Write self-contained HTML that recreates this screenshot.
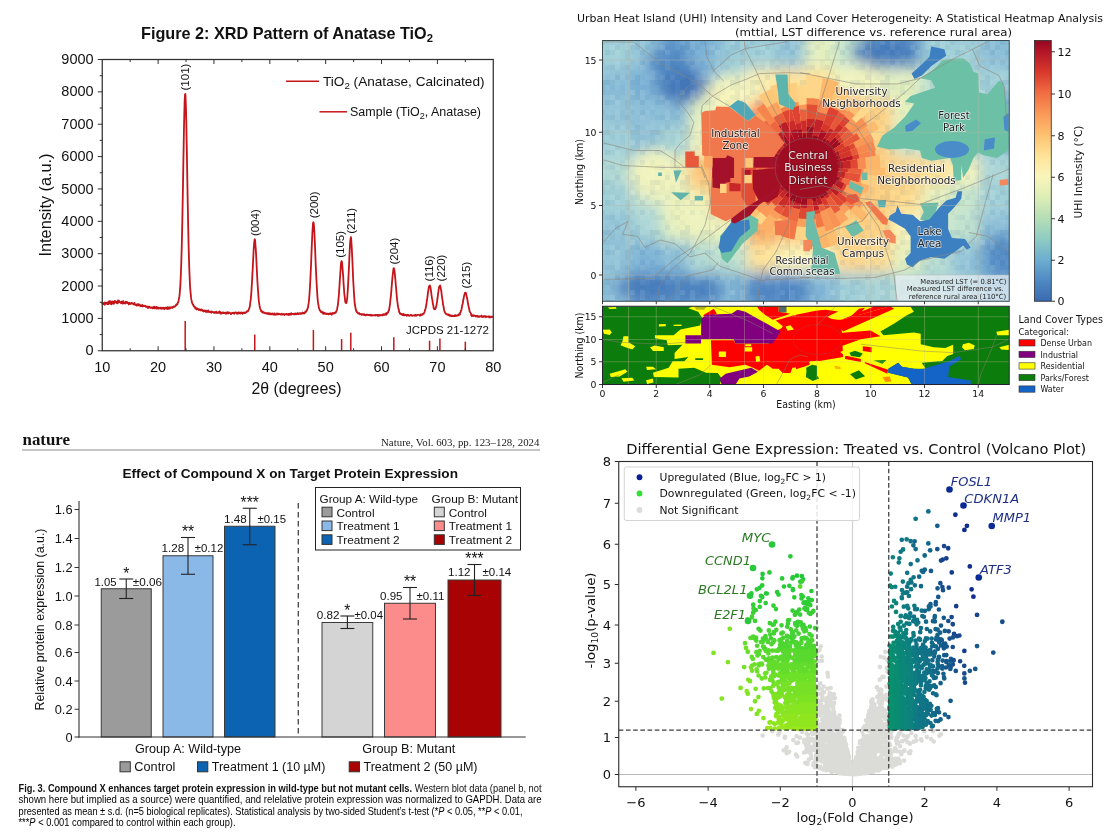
<!DOCTYPE html>
<html lang="en"><head><meta charset="utf-8"><title>Scientific figures</title>
<style>
html,body{margin:0;padding:0;background:#fff;}
body{width:1120px;height:840px;overflow:hidden;position:relative;font-family:"Liberation Sans",sans-serif;}
svg{position:absolute;left:0;top:0;display:block;}
text{white-space:pre;}
</style></head><body>
<svg width="1120" height="840" viewBox="0 0 1120 840">
<rect width="1120" height="840" fill="#fff"/>
<g id="xrd">
<text x="141" y="38.8" font-size="16.6" font-family='"Liberation Sans", sans-serif' font-weight="bold" fill="#111" textLength="292" lengthAdjust="spacingAndGlyphs">Figure 2: XRD Pattern of Anatase TiO<tspan baseline-shift="-3" font-size="11.5">2</tspan></text>
<polyline points="102.25,301.97 102.59,303.9 102.92,303.42 103.26,303.06 103.59,304.09 103.93,303.36 104.26,303.33 104.6,304.83 104.93,302.37 105.27,302.7 105.6,303.73 105.94,303.3 106.27,302.68 106.61,303.3 106.94,303.25 107.28,304.23 107.61,302.5 107.95,302.82 108.28,302.65 108.62,304.1 108.95,301.44 109.29,302.63 109.62,303.03 109.96,301.02 110.29,302.67 110.63,303.76 110.96,302.88 111.3,304.34 111.63,301.64 111.97,302.77 112.3,302.98 112.64,301.52 112.97,303.62 113.31,301.88 113.64,303.87 113.98,302.75 114.32,303.14 114.65,301.08 114.99,300.83 115.32,302.41 115.66,301.51 115.99,302.27 116.33,301.7 116.66,302.68 117,303.39 117.33,303.45 117.67,301.83 118,300.47 118.34,301.93 118.67,302.51 119.01,300.75 119.34,301.98 119.68,302.09 120.01,301.99 120.35,302.29 120.68,302.43 121.02,303.25 121.35,301.9 121.69,302.34 122.02,301.46 122.36,302.58 122.69,303.68 123.03,302.45 123.36,301.24 123.7,302.71 124.03,303.1 124.37,303.34 124.7,303.28 125.04,302.82 125.37,303.46 125.71,301.7 126.05,302.95 126.38,302.74 126.72,301.91 127.05,301.92 127.39,303.12 127.72,302.81 128.06,302.61 128.39,303.27 128.73,304.36 129.06,302.84 129.4,302.74 129.73,303.11 130.07,304.03 130.4,303.63 130.74,303.94 131.07,303.82 131.41,302.87 131.74,302.79 132.08,303.4 132.41,303.54 132.75,303.52 133.08,304.02 133.42,304.13 133.75,304.57 134.09,304.25 134.42,302.9 134.76,303.82 135.09,304.64 135.43,304.79 135.76,305.1 136.1,304.41 136.43,304.47 136.77,305.65 137.1,304.56 137.44,305.26 137.78,304.14 138.11,304.97 138.45,304.11 138.78,305.47 139.12,305.43 139.45,305.15 139.79,304.78 140.12,305.13 140.46,306.24 140.79,305.48 141.13,305.64 141.46,305.96 141.8,306.15 142.13,304.83 142.47,306.12 142.8,306.44 143.14,305.65 143.47,305.99 143.81,306.17 144.14,305.74 144.48,305.96 144.81,306.09 145.15,305.8 145.48,306.24 145.82,306.79 146.15,306.7 146.49,306.84 146.82,306.48 147.16,307.25 147.49,307.71 147.83,306.7 148.16,307.53 148.5,307.91 148.83,306.68 149.17,307.32 149.51,306.71 149.84,307.31 150.18,307.67 150.51,307.78 150.85,307.43 151.18,307.35 151.52,307.69 151.85,307.44 152.19,308.15 152.52,307.37 152.86,308.37 153.19,307.56 153.53,307.13 153.86,306.96 154.2,306.67 154.53,308.43 154.87,307.25 155.2,307.05 155.54,307.21 155.87,308.23 156.21,307.57 156.54,306.85 156.88,308.62 157.21,307.63 157.55,307.33 157.88,308.28 158.22,307.65 158.55,308.52 158.89,308.41 159.22,308.44 159.56,307.94 159.89,308.11 160.23,307.6 160.56,308.57 160.9,308.18 161.24,307.64 161.57,307.86 161.91,308.81 162.24,307.83 162.58,308.41 162.91,307.98 163.25,308.03 163.58,307.58 163.92,308.12 164.25,309.1 164.59,308.85 164.92,307.81 165.26,308.29 165.59,307.6 165.93,308.01 166.26,308.5 166.6,307.59 166.93,308.49 167.27,309.08 167.6,307.06 167.94,308.96 168.27,307.7 168.61,307.52 168.94,307.87 169.28,308.72 169.61,307.38 169.95,308.51 170.28,308.41 170.62,307.88 170.95,307.27 171.29,307.44 171.62,307.12 171.96,307.64 172.29,307.42 172.63,307.78 172.97,307.28 173.3,306.73 173.64,307.02 173.97,306.51 174.31,306.84 174.64,306.67 174.98,306.18 175.31,306.07 175.65,305.46 175.98,305.38 176.32,304.34 176.65,304.9 176.99,304.49 177.32,304.38 177.66,303.29 177.99,302.24 178.33,301.95 178.66,300.4 179,298.43 179.33,296.68 179.67,294.02 180,289.58 180.34,285.09 180.67,278.66 181.01,270.36 181.34,260.56 181.68,249.4 182.01,235.56 182.35,219.28 182.68,201.81 183.02,183.67 183.35,162.67 183.69,143.96 184.02,125.77 184.36,111.47 184.7,99.25 185.03,94.2 185.37,94.01 185.7,100.53 186.04,111.14 186.37,126.38 186.71,144.27 187.04,163.31 187.38,183.09 187.71,201.67 188.05,220.02 188.38,236.22 188.72,249.75 189.05,261.35 189.39,270.94 189.72,279.12 190.06,286.61 190.39,290.6 190.73,293.92 191.06,297.43 191.4,299.88 191.73,301.18 192.07,302.81 192.4,303.3 192.74,304.38 193.07,304.41 193.41,305.34 193.74,306.34 194.08,306.16 194.41,306.38 194.75,307.36 195.08,307.59 195.42,308.67 195.75,307.52 196.09,308.4 196.43,309.27 196.76,309.31 197.1,308.82 197.43,308.56 197.77,309.09 198.1,309 198.44,309.82 198.77,310.05 199.11,309.21 199.44,309.5 199.78,309.84 200.11,309.38 200.45,310.44 200.78,310.31 201.12,309.78 201.45,309.52 201.79,310.39 202.12,309.75 202.46,310.81 202.79,310.49 203.13,310.77 203.46,311.45 203.8,310.73 204.13,310.51 204.47,311.03 204.8,311.06 205.14,310.49 205.47,311.68 205.81,311.84 206.14,311.53 206.48,311.82 206.81,310.79 207.15,311.28 207.48,311.83 207.82,311.77 208.16,310.35 208.49,311.86 208.83,311.97 209.16,311.56 209.5,311.46 209.83,311.68 210.17,312.2 210.5,312.34 210.84,311.64 211.17,311.95 211.51,312.65 211.84,311.51 212.18,311.71 212.51,312.16 212.85,312.2 213.18,312.03 213.52,312.44 213.85,312.75 214.19,312.08 214.52,312.84 214.86,312.11 215.19,312.9 215.53,312.36 215.86,312.4 216.2,311.63 216.53,312.84 216.87,313.01 217.2,312.71 217.54,312.93 217.87,312.73 218.21,312.33 218.54,312.2 218.88,311.85 219.21,312.87 219.55,311.49 219.89,311.78 220.22,312.7 220.56,313.58 220.89,312.68 221.23,312.63 221.56,313.62 221.9,312.66 222.23,312.78 222.57,313.04 222.9,312.47 223.24,312.33 223.57,312.96 223.91,312.68 224.24,313.05 224.58,313.12 224.91,312.78 225.25,312.61 225.58,313.06 225.92,313.75 226.25,312.62 226.59,313.52 226.92,312.83 227.26,312.16 227.59,312.91 227.93,313.4 228.26,313.52 228.6,312.45 228.93,312.95 229.27,312.73 229.6,312.58 229.94,312.99 230.27,313.1 230.61,313.37 230.94,314.25 231.28,313.62 231.62,313.03 231.95,313.08 232.29,312.86 232.62,313.08 232.96,312.97 233.29,312.72 233.63,313.4 233.96,313.16 234.3,313.7 234.63,312.66 234.97,313.04 235.3,312.86 235.64,312.43 235.97,312.62 236.31,313.08 236.64,312.74 236.98,313.63 237.31,312.87 237.65,312.99 237.98,313.69 238.32,312.49 238.65,313.31 238.99,312.74 239.32,313.18 239.66,312.59 239.99,312.45 240.33,313.3 240.66,313.56 241,312.98 241.33,312.56 241.67,313.03 242,313.09 242.34,312.62 242.67,313.89 243.01,313.01 243.35,313.26 243.68,312.53 244.02,312.89 244.35,312.99 244.69,312.61 245.02,312.99 245.36,312.32 245.69,312.5 246.03,312.27 246.36,312.28 246.7,311.48 247.03,311.72 247.37,311.26 247.7,311.02 248.04,311.2 248.37,310.21 248.71,309.72 249.04,308.96 249.38,308.22 249.71,306.86 250.05,304.58 250.38,301.72 250.72,300.01 251.05,295.86 251.39,291.88 251.72,286.35 252.06,280.71 252.39,274.12 252.73,268.92 253.06,261.19 253.4,254.74 253.73,248.48 254.07,243.99 254.4,240.88 254.74,239.28 255.08,239.88 255.41,244.86 255.75,248.61 256.08,254.29 256.42,261.03 256.75,268.03 257.09,275.19 257.42,281.39 257.76,286.51 258.09,291.47 258.43,296.21 258.76,300.19 259.1,302.75 259.43,305.21 259.77,306.71 260.1,308.26 260.44,309.6 260.77,310.06 261.11,311.2 261.44,310.86 261.78,311.07 262.11,312.28 262.45,311.87 262.78,312.62 263.12,311.96 263.45,312.16 263.79,312.74 264.12,312.36 264.46,313.03 264.79,313.2 265.13,313.25 265.46,313.16 265.8,313.3 266.13,313.18 266.47,313.54 266.81,313.05 267.14,313 267.48,313.65 267.81,314.06 268.15,313.25 268.48,313.13 268.82,313.68 269.15,314.16 269.49,313.57 269.82,313.11 270.16,314.48 270.49,313.58 270.83,313.92 271.16,314.15 271.5,313.64 271.83,314.37 272.17,313.76 272.5,313.38 272.84,313.85 273.17,314.28 273.51,314.66 273.84,314.48 274.18,314.71 274.51,313.37 274.85,314.11 275.18,314.44 275.52,314.55 275.85,314.47 276.19,314.19 276.52,314.58 276.86,313.42 277.19,314.38 277.53,314.41 277.86,313.99 278.2,313.54 278.54,313.6 278.87,314.32 279.21,314.04 279.54,314.08 279.88,313.94 280.21,314.06 280.55,314.53 280.88,314.66 281.22,314.1 281.55,314.64 281.89,313.64 282.22,314.17 282.56,314.59 282.89,314.32 283.23,314.4 283.56,314.25 283.9,313.83 284.23,314.77 284.57,314.94 284.9,314.08 285.24,314.28 285.57,314.15 285.91,314.04 286.24,314.28 286.58,313.9 286.91,314.56 287.25,314.19 287.58,314.54 287.92,314.66 288.25,313.97 288.59,313.99 288.92,314.97 289.26,314.65 289.59,314.09 289.93,313.78 290.27,314.46 290.6,314.26 290.94,314.74 291.27,313.2 291.61,313.99 291.94,313.82 292.28,313.9 292.61,313.79 292.95,313.91 293.28,314.27 293.62,313.84 293.95,314.09 294.29,313.6 294.62,314.38 294.96,314.29 295.29,313.81 295.63,313.55 295.96,313.98 296.3,314.3 296.63,314.04 296.97,314.17 297.3,313.21 297.64,313.58 297.97,313.41 298.31,313.76 298.64,314.07 298.98,313.36 299.31,313.13 299.65,313.52 299.98,313.71 300.32,313.24 300.65,313.76 300.99,313.26 301.32,313.78 301.66,313.82 302,313.16 302.33,313.17 302.67,312.48 303,313.25 303.34,313.04 303.67,313.39 304.01,313.55 304.34,313.39 304.68,312.36 305.01,312.83 305.35,311.73 305.68,311.38 306.02,311.76 306.35,310.63 306.69,310.73 307.02,309.77 307.36,309.5 307.69,307.98 308.03,307.32 308.36,304.87 308.7,302.92 309.03,299.77 309.37,295.69 309.7,291.26 310.04,285.87 310.37,279.19 310.71,271.99 311.04,265.01 311.38,256.01 311.71,247.64 312.05,240.22 312.38,232.66 312.72,227.66 313.05,222.9 313.39,222.28 313.73,223.5 314.06,226.68 314.4,232.87 314.73,239.69 315.07,248.32 315.4,256.46 315.74,265.02 316.07,272.39 316.41,279.08 316.74,285.76 317.08,290.99 317.41,296.35 317.75,300.07 318.08,302.93 318.42,304.9 318.75,306.82 319.09,308.36 319.42,309.17 319.76,310.27 320.09,310.83 320.43,310.78 320.76,311.88 321.1,311.86 321.43,311.54 321.77,312.33 322.1,312.26 322.44,312.92 322.77,312.05 323.11,313.8 323.44,313.47 323.78,313.52 324.11,312.56 324.45,313.13 324.78,313.43 325.12,313.89 325.46,313.3 325.79,313.44 326.13,313.8 326.46,314.15 326.8,314.03 327.13,313.54 327.47,313.53 327.8,313.64 328.14,313.74 328.47,314.38 328.81,313.68 329.14,314.1 329.48,313.68 329.81,313.51 330.15,313.94 330.48,314.06 330.82,313.26 331.15,313.48 331.49,313.84 331.82,314.72 332.16,313.53 332.49,313.22 332.83,312.97 333.16,313.6 333.5,313.51 333.83,313.34 334.17,312.73 334.5,313.39 334.84,312.81 335.17,312.92 335.51,312.19 335.84,312.54 336.18,311.3 336.51,310.98 336.85,309.97 337.19,308.45 337.52,306.58 337.86,305.56 338.19,301.82 338.53,298.68 338.86,295.06 339.2,289.86 339.53,285.31 339.87,279.57 340.2,274.98 340.54,270.12 340.87,265.13 341.21,261.85 341.54,261.16 341.88,261.59 342.21,264.37 342.55,268.34 342.88,272.49 343.22,276.88 343.55,283.33 343.89,287.7 344.22,292.68 344.56,295.69 344.89,298.45 345.23,301.55 345.56,302.7 345.9,302.67 346.23,303.04 346.57,302.43 346.9,300.47 347.24,297.79 347.57,292.73 347.91,288.32 348.24,281.65 348.58,274.89 348.92,268.06 349.25,260.32 349.59,252.36 349.92,245.98 350.26,240.81 350.59,238.59 350.93,237.22 351.26,240.18 351.6,245.33 351.93,251.02 352.27,258.02 352.6,265.19 352.94,273.9 353.27,281.53 353.61,286.71 353.94,293.12 354.28,297.99 354.61,302.11 354.95,305.07 355.28,306.39 355.62,308.79 355.95,310.16 356.29,311.08 356.62,310.96 356.96,312.31 357.29,312.22 357.63,312.67 357.96,312.92 358.3,313.56 358.63,313.14 358.97,312.92 359.3,313.7 359.64,314.15 359.97,314.41 360.31,313.93 360.65,314.2 360.98,314.21 361.32,314.24 361.65,314.89 361.99,314.08 362.32,314.35 362.66,314.52 362.99,314.45 363.33,314.23 363.66,314.61 364,315.01 364.33,314.26 364.67,314.92 365,315.07 365.34,315.42 365.67,314.84 366.01,315.28 366.34,315.1 366.68,314.75 367.01,314.93 367.35,314.57 367.68,314.87 368.02,315.16 368.35,315.15 368.69,315.24 369.02,314.81 369.36,315.06 369.69,315.25 370.03,314.77 370.36,315.07 370.7,315.3 371.03,315.72 371.37,314.97 371.7,315.06 372.04,315.14 372.38,315.33 372.71,315.5 373.05,315.27 373.38,315.09 373.72,315.24 374.05,315.25 374.39,315.37 374.72,315.06 375.06,315.1 375.39,315.49 375.73,314.9 376.06,314.88 376.4,314.87 376.73,315.24 377.07,315.26 377.4,315.63 377.74,314.88 378.07,315.99 378.41,315.31 378.74,315.28 379.08,314.8 379.41,315.12 379.75,315.48 380.08,315.64 380.42,315.36 380.75,315.01 381.09,315.01 381.42,315.09 381.76,315.25 382.09,315.04 382.43,314.53 382.76,315.31 383.1,314.84 383.43,314.18 383.77,314.54 384.11,314.88 384.44,314.39 384.78,314.87 385.11,314.5 385.45,313.81 385.78,313.57 386.12,314.84 386.45,313.74 386.79,313.05 387.12,313.76 387.46,313.11 387.79,312.18 388.13,312.37 388.46,311.23 388.8,310.42 389.13,309.86 389.47,307.35 389.8,305.55 390.14,302.69 390.47,299.38 390.81,296.64 391.14,293.38 391.48,289.08 391.81,285.02 392.15,280.52 392.48,277.5 392.82,273.87 393.15,271.41 393.49,268.56 393.82,268.18 394.16,269.05 394.49,270.9 394.83,273.65 395.16,277.32 395.5,281.07 395.84,285.32 396.17,288.75 396.51,293.15 396.84,297.27 397.18,300.47 397.51,302.64 397.85,305.36 398.18,307.44 398.52,308.9 398.85,309.86 399.19,311.96 399.52,312.55 399.86,313.53 400.19,313.12 400.53,313.8 400.86,314.18 401.2,314.42 401.53,314.02 401.87,314.48 402.2,314.74 402.54,314.14 402.87,315.12 403.21,315.28 403.54,313.84 403.88,315.05 404.21,315.17 404.55,315.29 404.88,315.11 405.22,314.79 405.55,314.84 405.89,314.95 406.22,315.3 406.56,315.8 406.89,315.14 407.23,314.68 407.57,314.88 407.9,315.38 408.24,315.02 408.57,315.5 408.91,315.38 409.24,315.85 409.58,315.51 409.91,315.34 410.25,315.47 410.58,315.12 410.92,314.69 411.25,314.92 411.59,315.55 411.92,315.72 412.26,315.7 412.59,315.83 412.93,315.43 413.26,315.28 413.6,315.38 413.93,315.37 414.27,315.38 414.6,315.49 414.94,315.72 415.27,314.76 415.61,315.01 415.94,315.76 416.28,315.75 416.61,315.62 416.95,315.36 417.28,314.87 417.62,314.95 417.95,314.91 418.29,314.88 418.62,314.84 418.96,314.96 419.3,315.04 419.63,315.23 419.97,315.82 420.3,315.15 420.64,314.35 420.97,315.2 421.31,315.16 421.64,314.44 421.98,314.7 422.31,314.79 422.65,313.83 422.98,313.99 423.32,313.66 423.65,313.82 423.99,312.94 424.32,312.39 424.66,311.47 424.99,310.37 425.33,309.2 425.66,308.15 426,306.27 426.33,305.04 426.67,302.17 427,299.77 427.34,297.66 427.67,295.22 428.01,292.41 428.34,290.51 428.68,287.89 429.01,286.39 429.35,285.99 429.68,285.45 430.02,285.64 430.35,286.9 430.69,288.72 431.03,291.36 431.36,293.84 431.7,296.36 432.03,298.44 432.37,300.08 432.7,302.56 433.04,304.33 433.37,305.97 433.71,308.34 434.04,308.67 434.38,309.3 434.71,308.85 435.05,308.54 435.38,308.98 435.72,307.88 436.05,306.53 436.39,305.45 436.72,303.71 437.06,301.67 437.39,298.78 437.73,297.04 438.06,293.75 438.4,291.72 438.73,289.23 439.07,287.06 439.4,286.56 439.74,285.92 440.07,285.48 440.41,286.81 440.74,288.12 441.08,289.83 441.41,292.04 441.75,295.1 442.08,297.36 442.42,299.53 442.76,301.66 443.09,305.16 443.43,305.88 443.76,307.77 444.1,310 444.43,311.37 444.77,311.64 445.1,312.76 445.44,313.17 445.77,313.38 446.11,314.24 446.44,314.32 446.78,314.43 447.11,314.44 447.45,314.24 447.78,314.38 448.12,315.03 448.45,315.29 448.79,314.34 449.12,315.07 449.46,315.2 449.79,315.83 450.13,315.14 450.46,315.77 450.8,315.68 451.13,316.04 451.47,315.75 451.8,315.54 452.14,316.16 452.47,315.94 452.81,315.63 453.14,316.1 453.48,316.1 453.81,315.93 454.15,316.15 454.49,315.37 454.82,315.98 455.16,315.29 455.49,315.21 455.83,316.01 456.16,315.5 456.5,315.67 456.83,315.88 457.17,315.51 457.5,315.4 457.84,314.94 458.17,314.69 458.51,315.35 458.84,314.86 459.18,314.22 459.51,313.61 459.85,314.54 460.18,312.52 460.52,312.35 460.85,310.8 461.19,310.49 461.52,309.39 461.86,307.61 462.19,305.55 462.53,304.22 462.86,303.25 463.2,300.12 463.53,299.06 463.87,296.96 464.2,295.37 464.54,294.28 464.87,293.12 465.21,292.57 465.54,292.53 465.88,292.94 466.22,294.15 466.55,296.08 466.89,297.32 467.22,298.79 467.56,300.77 467.89,303.04 468.23,304.73 468.56,306.36 468.9,307.76 469.23,309.03 469.57,311.02 469.9,312.02 470.24,312.2 470.57,312.86 470.91,313.43 471.24,315.38 471.58,314.9 471.91,316.36 472.25,315.02 472.58,315.45 472.92,315.59 473.25,315.77 473.59,315.3 473.92,315.99 474.26,315.54 474.59,315.77 474.93,315.9 475.26,315.9 475.6,316.07 475.93,316.58 476.27,315.91 476.6,315.94 476.94,316.3 477.27,315.98 477.61,315.94 477.95,316.81 478.28,316.39 478.62,316.53 478.95,316.73 479.29,316.27 479.62,316.74 479.96,316.6 480.29,316.35 480.63,316.32 480.96,316.35 481.3,315.62 481.63,316.7 481.97,316.42 482.3,316.99 482.64,316.35 482.97,316.1 483.31,316.09 483.64,316.82 483.98,316.69 484.31,316.1 484.65,316.64 484.98,316.24 485.32,317 485.65,316.09 485.99,316.24 486.32,316.47 486.66,316.96 486.99,316.72 487.33,316.61 487.66,316.58 488,316.73 488.33,316.78 488.67,316.62 489,316.16 489.34,317.49 489.68,317.25 490.01,317.32 490.35,317 490.68,317.41 491.02,316.53 491.35,316.71 491.69,316.85 492.02,317.02 492.36,316.7 492.69,316.7 493.03,316.64" fill="none" stroke="#c4151b" stroke-width="1.8" stroke-linejoin="round"/>
<line x1="185.2" y1="350.75" x2="185.2" y2="320.98" stroke="#c4151b" stroke-width="1.5" />
<line x1="254.74" y1="350.75" x2="254.74" y2="334.57" stroke="#c4151b" stroke-width="1.5" />
<line x1="313.39" y1="350.75" x2="313.39" y2="330.04" stroke="#c4151b" stroke-width="1.5" />
<line x1="341.6" y1="350.75" x2="341.6" y2="339.1" stroke="#c4151b" stroke-width="1.5" />
<line x1="350.81" y1="350.75" x2="350.81" y2="332.63" stroke="#c4151b" stroke-width="1.5" />
<line x1="393.82" y1="350.75" x2="393.82" y2="337.16" stroke="#c4151b" stroke-width="1.5" />
<line x1="429.57" y1="350.75" x2="429.57" y2="340.72" stroke="#c4151b" stroke-width="1.5" />
<line x1="439.91" y1="350.75" x2="439.91" y2="338.45" stroke="#c4151b" stroke-width="1.5" />
<line x1="465.32" y1="350.75" x2="465.32" y2="341.69" stroke="#c4151b" stroke-width="1.5" />
<rect x="102.25" y="59.5" width="391" height="291.25" fill="none" stroke="#303030" stroke-width="1.25"/>
<text x="102.25" y="371.6" font-size="14.5" text-anchor="middle" font-family='"Liberation Sans", sans-serif' fill="#111">10</text>
<line x1="130.18" y1="350.75" x2="130.18" y2="348.25" stroke="#303030" stroke-width="1" />
<line x1="130.18" y1="59.5" x2="130.18" y2="62" stroke="#303030" stroke-width="1" />
<line x1="158.11" y1="350.75" x2="158.11" y2="346.25" stroke="#303030" stroke-width="1" />
<line x1="158.11" y1="59.5" x2="158.11" y2="64" stroke="#303030" stroke-width="1" />
<text x="158.11" y="371.6" font-size="14.5" text-anchor="middle" font-family='"Liberation Sans", sans-serif' fill="#111">20</text>
<line x1="186.04" y1="350.75" x2="186.04" y2="348.25" stroke="#303030" stroke-width="1" />
<line x1="186.04" y1="59.5" x2="186.04" y2="62" stroke="#303030" stroke-width="1" />
<line x1="213.96" y1="350.75" x2="213.96" y2="346.25" stroke="#303030" stroke-width="1" />
<line x1="213.96" y1="59.5" x2="213.96" y2="64" stroke="#303030" stroke-width="1" />
<text x="213.96" y="371.6" font-size="14.5" text-anchor="middle" font-family='"Liberation Sans", sans-serif' fill="#111">30</text>
<line x1="241.89" y1="350.75" x2="241.89" y2="348.25" stroke="#303030" stroke-width="1" />
<line x1="241.89" y1="59.5" x2="241.89" y2="62" stroke="#303030" stroke-width="1" />
<line x1="269.82" y1="350.75" x2="269.82" y2="346.25" stroke="#303030" stroke-width="1" />
<line x1="269.82" y1="59.5" x2="269.82" y2="64" stroke="#303030" stroke-width="1" />
<text x="269.82" y="371.6" font-size="14.5" text-anchor="middle" font-family='"Liberation Sans", sans-serif' fill="#111">40</text>
<line x1="297.75" y1="350.75" x2="297.75" y2="348.25" stroke="#303030" stroke-width="1" />
<line x1="297.75" y1="59.5" x2="297.75" y2="62" stroke="#303030" stroke-width="1" />
<line x1="325.68" y1="350.75" x2="325.68" y2="346.25" stroke="#303030" stroke-width="1" />
<line x1="325.68" y1="59.5" x2="325.68" y2="64" stroke="#303030" stroke-width="1" />
<text x="325.68" y="371.6" font-size="14.5" text-anchor="middle" font-family='"Liberation Sans", sans-serif' fill="#111">50</text>
<line x1="353.61" y1="350.75" x2="353.61" y2="348.25" stroke="#303030" stroke-width="1" />
<line x1="353.61" y1="59.5" x2="353.61" y2="62" stroke="#303030" stroke-width="1" />
<line x1="381.54" y1="350.75" x2="381.54" y2="346.25" stroke="#303030" stroke-width="1" />
<line x1="381.54" y1="59.5" x2="381.54" y2="64" stroke="#303030" stroke-width="1" />
<text x="381.54" y="371.6" font-size="14.5" text-anchor="middle" font-family='"Liberation Sans", sans-serif' fill="#111">60</text>
<line x1="409.46" y1="350.75" x2="409.46" y2="348.25" stroke="#303030" stroke-width="1" />
<line x1="409.46" y1="59.5" x2="409.46" y2="62" stroke="#303030" stroke-width="1" />
<line x1="437.39" y1="350.75" x2="437.39" y2="346.25" stroke="#303030" stroke-width="1" />
<line x1="437.39" y1="59.5" x2="437.39" y2="64" stroke="#303030" stroke-width="1" />
<text x="437.39" y="371.6" font-size="14.5" text-anchor="middle" font-family='"Liberation Sans", sans-serif' fill="#111">70</text>
<line x1="465.32" y1="350.75" x2="465.32" y2="348.25" stroke="#303030" stroke-width="1" />
<line x1="465.32" y1="59.5" x2="465.32" y2="62" stroke="#303030" stroke-width="1" />
<text x="493.25" y="371.6" font-size="14.5" text-anchor="middle" font-family='"Liberation Sans", sans-serif' fill="#111">80</text>
<line x1="97.75" y1="350.75" x2="102.25" y2="350.75" stroke="#303030" stroke-width="1" />
<text x="93.6" y="355.35" font-size="14.5" text-anchor="end" font-family='"Liberation Sans", sans-serif' fill="#111">0</text>
<line x1="99.75" y1="334.57" x2="102.25" y2="334.57" stroke="#303030" stroke-width="1" />
<line x1="97.75" y1="318.39" x2="102.25" y2="318.39" stroke="#303030" stroke-width="1" />
<text x="93.6" y="322.99" font-size="14.5" text-anchor="end" font-family='"Liberation Sans", sans-serif' fill="#111">1000</text>
<line x1="99.75" y1="302.21" x2="102.25" y2="302.21" stroke="#303030" stroke-width="1" />
<line x1="97.75" y1="286.03" x2="102.25" y2="286.03" stroke="#303030" stroke-width="1" />
<text x="93.6" y="290.63" font-size="14.5" text-anchor="end" font-family='"Liberation Sans", sans-serif' fill="#111">2000</text>
<line x1="99.75" y1="269.85" x2="102.25" y2="269.85" stroke="#303030" stroke-width="1" />
<line x1="97.75" y1="253.67" x2="102.25" y2="253.67" stroke="#303030" stroke-width="1" />
<text x="93.6" y="258.27" font-size="14.5" text-anchor="end" font-family='"Liberation Sans", sans-serif' fill="#111">3000</text>
<line x1="99.75" y1="237.49" x2="102.25" y2="237.49" stroke="#303030" stroke-width="1" />
<line x1="97.75" y1="221.31" x2="102.25" y2="221.31" stroke="#303030" stroke-width="1" />
<text x="93.6" y="225.91" font-size="14.5" text-anchor="end" font-family='"Liberation Sans", sans-serif' fill="#111">4000</text>
<line x1="99.75" y1="205.12" x2="102.25" y2="205.12" stroke="#303030" stroke-width="1" />
<line x1="97.75" y1="188.94" x2="102.25" y2="188.94" stroke="#303030" stroke-width="1" />
<text x="93.6" y="193.54" font-size="14.5" text-anchor="end" font-family='"Liberation Sans", sans-serif' fill="#111">5000</text>
<line x1="99.75" y1="172.76" x2="102.25" y2="172.76" stroke="#303030" stroke-width="1" />
<line x1="97.75" y1="156.58" x2="102.25" y2="156.58" stroke="#303030" stroke-width="1" />
<text x="93.6" y="161.18" font-size="14.5" text-anchor="end" font-family='"Liberation Sans", sans-serif' fill="#111">6000</text>
<line x1="99.75" y1="140.4" x2="102.25" y2="140.4" stroke="#303030" stroke-width="1" />
<line x1="97.75" y1="124.22" x2="102.25" y2="124.22" stroke="#303030" stroke-width="1" />
<text x="93.6" y="128.82" font-size="14.5" text-anchor="end" font-family='"Liberation Sans", sans-serif' fill="#111">7000</text>
<line x1="99.75" y1="108.04" x2="102.25" y2="108.04" stroke="#303030" stroke-width="1" />
<line x1="97.75" y1="91.86" x2="102.25" y2="91.86" stroke="#303030" stroke-width="1" />
<text x="93.6" y="96.46" font-size="14.5" text-anchor="end" font-family='"Liberation Sans", sans-serif' fill="#111">8000</text>
<line x1="99.75" y1="75.68" x2="102.25" y2="75.68" stroke="#303030" stroke-width="1" />
<line x1="97.75" y1="59.5" x2="102.25" y2="59.5" stroke="#303030" stroke-width="1" />
<text x="93.6" y="64.1" font-size="14.5" text-anchor="end" font-family='"Liberation Sans", sans-serif' fill="#111">9000</text>
<text x="50.8" y="205" font-size="16" text-anchor="middle" font-family='"Liberation Sans", sans-serif' fill="#111" textLength="103" lengthAdjust="spacingAndGlyphs" transform="rotate(-90 50.8 205)">Intensity (a.u.)</text>
<text x="296.5" y="393.5" font-size="16" text-anchor="middle" font-family='"Liberation Sans", sans-serif' fill="#111" textLength="90" lengthAdjust="spacingAndGlyphs">2θ (degrees)</text>
<line x1="286" y1="81.2" x2="319" y2="81.2" stroke="#c4151b" stroke-width="1.5" />
<text x="323" y="86" font-size="13.3" font-family='"Liberation Sans", sans-serif' fill="#111" textLength="161.5" lengthAdjust="spacingAndGlyphs">TiO<tspan baseline-shift="-3" font-size="9.5">2</tspan> (Anatase, Calcinated)</text>
<line x1="319.5" y1="111.8" x2="347" y2="111.8" stroke="#c4151b" stroke-width="1.5" />
<text x="350" y="115.8" font-size="12.3" font-family='"Liberation Sans", sans-serif' fill="#111" textLength="131" lengthAdjust="spacingAndGlyphs">Sample (TiO<tspan baseline-shift="-3" font-size="9">2</tspan>, Anatase)</text>
<text x="189.4" y="90.48" font-size="11.5" font-family='"Liberation Sans", sans-serif' fill="#111" transform="rotate(-90 189.4 90.48)">(101)</text>
<text x="258.94" y="236.1" font-size="11.5" font-family='"Liberation Sans", sans-serif' fill="#111" transform="rotate(-90 258.94 236.1)">(004)</text>
<text x="317.59" y="218.31" font-size="11.5" font-family='"Liberation Sans", sans-serif' fill="#111" transform="rotate(-90 317.59 218.31)">(200)</text>
<text x="344.4" y="257.79" font-size="11.5" font-family='"Liberation Sans", sans-serif' fill="#111" transform="rotate(-90 344.4 257.79)">(105)</text>
<text x="355.01" y="233.84" font-size="11.5" font-family='"Liberation Sans", sans-serif' fill="#111" transform="rotate(-90 355.01 233.84)">(211)</text>
<text x="398.02" y="264.58" font-size="11.5" font-family='"Liberation Sans", sans-serif' fill="#111" transform="rotate(-90 398.02 264.58)">(204)</text>
<text x="432.66" y="281.41" font-size="11.5" font-family='"Liberation Sans", sans-serif' fill="#111" transform="rotate(-90 432.66 281.41)">(116)</text>
<text x="444.94" y="281.41" font-size="11.5" font-family='"Liberation Sans", sans-serif' fill="#111" transform="rotate(-90 444.94 281.41)">(220)</text>
<text x="469.52" y="288.53" font-size="11.5" font-family='"Liberation Sans", sans-serif' fill="#111" transform="rotate(-90 469.52 288.53)">(215)</text>
<text x="406" y="334.3" font-size="11.3" font-family='"Liberation Sans", sans-serif' fill="#111" textLength="83" lengthAdjust="spacingAndGlyphs">JCPDS 21-1272</text>
</g>
<g id="uhi">
<defs><clipPath id="hclip"><rect x="602.5" y="40.5" width="406.75" height="260.75"/></clipPath>
<clipPath id="lclip"><rect x="602.5" y="306.25" width="406.75" height="78.25"/></clipPath>
<filter id="b8" x="-20%" y="-20%" width="140%" height="140%"><feGaussianBlur stdDeviation="7"/></filter>
<filter id="b3" x="-20%" y="-20%" width="140%" height="140%"><feGaussianBlur stdDeviation="2.5"/></filter>
<filter id="b1" x="-20%" y="-20%" width="140%" height="140%"><feGaussianBlur stdDeviation="0.6"/></filter>
<linearGradient id="cbar" x1="0" y1="0" x2="0" y2="1"><stop offset="0" stop-color="#920822"/><stop offset="0.04" stop-color="#b21428"/><stop offset="0.12" stop-color="#d8382c"/><stop offset="0.2" stop-color="#f06c42"/><stop offset="0.28" stop-color="#fa9858"/><stop offset="0.36" stop-color="#fdc070"/><stop offset="0.44" stop-color="#fee296"/><stop offset="0.52" stop-color="#faf5ba"/><stop offset="0.6" stop-color="#ddeeb6"/><stop offset="0.68" stop-color="#b6deb6"/><stop offset="0.76" stop-color="#8fccc2"/><stop offset="0.84" stop-color="#6eaed0"/><stop offset="0.92" stop-color="#4e8ac4"/><stop offset="1" stop-color="#3a6ab0"/></linearGradient></defs>
<text x="840" y="22.3" font-size="10.9" text-anchor="middle" font-family='"DejaVu Sans", "Liberation Sans", sans-serif' fill="#111" textLength="526" lengthAdjust="spacingAndGlyphs">Urban Heat Island (UHI) Intensity and Land Cover Heterogeneity: A Statistical Heatmap Analysis</text>
<text x="873.5" y="36" font-size="10.9" text-anchor="middle" font-family='"DejaVu Sans", "Liberation Sans", sans-serif' fill="#111" textLength="277" lengthAdjust="spacingAndGlyphs">(mttial, LST difference vs. reference rural area)</text>
<g clip-path="url(#hclip)">
<rect x="602.5" y="40.5" width="406.75" height="260.75" fill="#9bd1be"/>
<g filter="url(#b8)">
<rect x="572.9" y="11.0" width="30.1" height="30.0" fill="#a2d0d8"/>
<rect x="602.0" y="11.0" width="30.1" height="30.0" fill="#a2d0d8"/>
<rect x="631.1" y="11.0" width="30.1" height="30.0" fill="#93c4d7"/>
<rect x="660.1" y="11.0" width="30.1" height="30.0" fill="#649bcc"/>
<rect x="689.2" y="11.0" width="30.1" height="30.0" fill="#7cb2d6"/>
<rect x="718.2" y="11.0" width="30.1" height="30.0" fill="#9acad8"/>
<rect x="747.3" y="11.0" width="30.1" height="30.0" fill="#a2d0d8"/>
<rect x="776.3" y="11.0" width="30.1" height="30.0" fill="#93c4d7"/>
<rect x="805.4" y="11.0" width="30.1" height="30.0" fill="#e4f0be"/>
<rect x="834.4" y="11.0" width="30.1" height="30.0" fill="#c6e5cc"/>
<rect x="863.5" y="11.0" width="30.1" height="30.0" fill="#5c94c9"/>
<rect x="892.5" y="11.0" width="30.1" height="30.0" fill="#649bcc"/>
<rect x="921.6" y="11.0" width="30.1" height="30.0" fill="#a2d0d8"/>
<rect x="950.6" y="11.0" width="30.1" height="30.0" fill="#a2d0d8"/>
<rect x="979.7" y="11.0" width="30.1" height="30.0" fill="#8bbed7"/>
<rect x="1008.8" y="11.0" width="30.1" height="30.0" fill="#8bbed7"/>
<rect x="572.9" y="40.0" width="30.1" height="30.0" fill="#a2d0d8"/>
<rect x="602.0" y="40.0" width="30.1" height="30.0" fill="#a2d0d8"/>
<rect x="631.1" y="40.0" width="30.1" height="30.0" fill="#93c4d7"/>
<rect x="660.1" y="40.0" width="30.1" height="30.0" fill="#649bcc"/>
<rect x="689.2" y="40.0" width="30.1" height="30.0" fill="#7cb2d6"/>
<rect x="718.2" y="40.0" width="30.1" height="30.0" fill="#9acad8"/>
<rect x="747.3" y="40.0" width="30.1" height="30.0" fill="#a2d0d8"/>
<rect x="776.3" y="40.0" width="30.1" height="30.0" fill="#93c4d7"/>
<rect x="805.4" y="40.0" width="30.1" height="30.0" fill="#e4f0be"/>
<rect x="834.4" y="40.0" width="30.1" height="30.0" fill="#c6e5cc"/>
<rect x="863.5" y="40.0" width="30.1" height="30.0" fill="#5c94c9"/>
<rect x="892.5" y="40.0" width="30.1" height="30.0" fill="#649bcc"/>
<rect x="921.6" y="40.0" width="30.1" height="30.0" fill="#a2d0d8"/>
<rect x="950.6" y="40.0" width="30.1" height="30.0" fill="#a2d0d8"/>
<rect x="979.7" y="40.0" width="30.1" height="30.0" fill="#8bbed7"/>
<rect x="1008.8" y="40.0" width="30.1" height="30.0" fill="#8bbed7"/>
<rect x="572.9" y="69.0" width="30.1" height="30.0" fill="#8bbed7"/>
<rect x="602.0" y="69.0" width="30.1" height="30.0" fill="#8bbed7"/>
<rect x="631.1" y="69.0" width="30.1" height="30.0" fill="#7cb2d6"/>
<rect x="660.1" y="69.0" width="30.1" height="30.0" fill="#548cc6"/>
<rect x="689.2" y="69.0" width="30.1" height="30.0" fill="#8bbed7"/>
<rect x="718.2" y="69.0" width="30.1" height="30.0" fill="#b8ddd1"/>
<rect x="747.3" y="69.0" width="30.1" height="30.0" fill="#fceca8"/>
<rect x="776.3" y="69.0" width="30.1" height="30.0" fill="#fee296"/>
<rect x="805.4" y="69.0" width="30.1" height="30.0" fill="#fee296"/>
<rect x="834.4" y="69.0" width="30.1" height="30.0" fill="#faf5ba"/>
<rect x="863.5" y="69.0" width="30.1" height="30.0" fill="#d5eac5"/>
<rect x="892.5" y="69.0" width="30.1" height="30.0" fill="#e4f0be"/>
<rect x="921.6" y="69.0" width="30.1" height="30.0" fill="#b8ddd1"/>
<rect x="950.6" y="69.0" width="30.1" height="30.0" fill="#b0d8d3"/>
<rect x="979.7" y="69.0" width="30.1" height="30.0" fill="#a2d0d8"/>
<rect x="1008.8" y="69.0" width="30.1" height="30.0" fill="#a2d0d8"/>
<rect x="572.9" y="97.9" width="30.1" height="30.0" fill="#93c4d7"/>
<rect x="602.0" y="97.9" width="30.1" height="30.0" fill="#93c4d7"/>
<rect x="631.1" y="97.9" width="30.1" height="30.0" fill="#8bbed7"/>
<rect x="660.1" y="97.9" width="30.1" height="30.0" fill="#8bbed7"/>
<rect x="689.2" y="97.9" width="30.1" height="30.0" fill="#e4f0be"/>
<rect x="718.2" y="97.9" width="30.1" height="30.0" fill="#fceca8"/>
<rect x="747.3" y="97.9" width="30.1" height="30.0" fill="#f5824d"/>
<rect x="776.3" y="97.9" width="30.1" height="30.0" fill="#d8382c"/>
<rect x="805.4" y="97.9" width="30.1" height="30.0" fill="#f06c42"/>
<rect x="834.4" y="97.9" width="30.1" height="30.0" fill="#fcac64"/>
<rect x="863.5" y="97.9" width="30.1" height="30.0" fill="#fed183"/>
<rect x="892.5" y="97.9" width="30.1" height="30.0" fill="#e4f0be"/>
<rect x="921.6" y="97.9" width="30.1" height="30.0" fill="#b4dad2"/>
<rect x="950.6" y="97.9" width="30.1" height="30.0" fill="#b4dad2"/>
<rect x="979.7" y="97.9" width="30.1" height="30.0" fill="#a9d4d6"/>
<rect x="1008.8" y="97.9" width="30.1" height="30.0" fill="#a9d4d6"/>
<rect x="572.9" y="126.9" width="30.1" height="30.0" fill="#a2d0d8"/>
<rect x="602.0" y="126.9" width="30.1" height="30.0" fill="#a2d0d8"/>
<rect x="631.1" y="126.9" width="30.1" height="30.0" fill="#93c4d7"/>
<rect x="660.1" y="126.9" width="30.1" height="30.0" fill="#a9d4d6"/>
<rect x="689.2" y="126.9" width="30.1" height="30.0" fill="#eff2bc"/>
<rect x="718.2" y="126.9" width="30.1" height="30.0" fill="#fdc070"/>
<rect x="747.3" y="126.9" width="30.1" height="30.0" fill="#f06c42"/>
<rect x="776.3" y="126.9" width="30.1" height="30.0" fill="#b21428"/>
<rect x="805.4" y="126.9" width="30.1" height="30.0" fill="#b21428"/>
<rect x="834.4" y="126.9" width="30.1" height="30.0" fill="#e45237"/>
<rect x="863.5" y="126.9" width="30.1" height="30.0" fill="#fed183"/>
<rect x="892.5" y="126.9" width="30.1" height="30.0" fill="#c6e5cc"/>
<rect x="921.6" y="126.9" width="30.1" height="30.0" fill="#add6d4"/>
<rect x="950.6" y="126.9" width="30.1" height="30.0" fill="#add6d4"/>
<rect x="979.7" y="126.9" width="30.1" height="30.0" fill="#9acad8"/>
<rect x="1008.8" y="126.9" width="30.1" height="30.0" fill="#9acad8"/>
<rect x="572.9" y="155.9" width="30.1" height="30.0" fill="#b0d8d3"/>
<rect x="602.0" y="155.9" width="30.1" height="30.0" fill="#b0d8d3"/>
<rect x="631.1" y="155.9" width="30.1" height="30.0" fill="#b8ddd1"/>
<rect x="660.1" y="155.9" width="30.1" height="30.0" fill="#eff2bc"/>
<rect x="689.2" y="155.9" width="30.1" height="30.0" fill="#fdc070"/>
<rect x="718.2" y="155.9" width="30.1" height="30.0" fill="#f06c42"/>
<rect x="747.3" y="155.9" width="30.1" height="30.0" fill="#d8382c"/>
<rect x="776.3" y="155.9" width="30.1" height="30.0" fill="#9f0d24"/>
<rect x="805.4" y="155.9" width="30.1" height="30.0" fill="#c5262a"/>
<rect x="834.4" y="155.9" width="30.1" height="30.0" fill="#fa9858"/>
<rect x="863.5" y="155.9" width="30.1" height="30.0" fill="#fdce7f"/>
<rect x="892.5" y="155.9" width="30.1" height="30.0" fill="#fed487"/>
<rect x="921.6" y="155.9" width="30.1" height="30.0" fill="#fee296"/>
<rect x="950.6" y="155.9" width="30.1" height="30.0" fill="#f6f4bb"/>
<rect x="979.7" y="155.9" width="30.1" height="30.0" fill="#a9d4d6"/>
<rect x="1008.8" y="155.9" width="30.1" height="30.0" fill="#a9d4d6"/>
<rect x="572.9" y="184.9" width="30.1" height="30.0" fill="#a2d0d8"/>
<rect x="602.0" y="184.9" width="30.1" height="30.0" fill="#a2d0d8"/>
<rect x="631.1" y="184.9" width="30.1" height="30.0" fill="#b8ddd1"/>
<rect x="660.1" y="184.9" width="30.1" height="30.0" fill="#e4f0be"/>
<rect x="689.2" y="184.9" width="30.1" height="30.0" fill="#fee296"/>
<rect x="718.2" y="184.9" width="30.1" height="30.0" fill="#f5824d"/>
<rect x="747.3" y="184.9" width="30.1" height="30.0" fill="#f06c42"/>
<rect x="776.3" y="184.9" width="30.1" height="30.0" fill="#d8382c"/>
<rect x="805.4" y="184.9" width="30.1" height="30.0" fill="#f06c42"/>
<rect x="834.4" y="184.9" width="30.1" height="30.0" fill="#fdc070"/>
<rect x="863.5" y="184.9" width="30.1" height="30.0" fill="#fdce7f"/>
<rect x="892.5" y="184.9" width="30.1" height="30.0" fill="#fedb8e"/>
<rect x="921.6" y="184.9" width="30.1" height="30.0" fill="#e4f0be"/>
<rect x="950.6" y="184.9" width="30.1" height="30.0" fill="#c6e5cc"/>
<rect x="979.7" y="184.9" width="30.1" height="30.0" fill="#a2d0d8"/>
<rect x="1008.8" y="184.9" width="30.1" height="30.0" fill="#a2d0d8"/>
<rect x="572.9" y="213.8" width="30.1" height="30.0" fill="#93c4d7"/>
<rect x="602.0" y="213.8" width="30.1" height="30.0" fill="#93c4d7"/>
<rect x="631.1" y="213.8" width="30.1" height="30.0" fill="#a9d4d6"/>
<rect x="660.1" y="213.8" width="30.1" height="30.0" fill="#d2e9c6"/>
<rect x="689.2" y="213.8" width="30.1" height="30.0" fill="#e8f1bd"/>
<rect x="718.2" y="213.8" width="30.1" height="30.0" fill="#eff2bc"/>
<rect x="747.3" y="213.8" width="30.1" height="30.0" fill="#fcac64"/>
<rect x="776.3" y="213.8" width="30.1" height="30.0" fill="#fdc070"/>
<rect x="805.4" y="213.8" width="30.1" height="30.0" fill="#fee296"/>
<rect x="834.4" y="213.8" width="30.1" height="30.0" fill="#fed183"/>
<rect x="863.5" y="213.8" width="30.1" height="30.0" fill="#fed183"/>
<rect x="892.5" y="213.8" width="30.1" height="30.0" fill="#faf5ba"/>
<rect x="921.6" y="213.8" width="30.1" height="30.0" fill="#cce7c9"/>
<rect x="950.6" y="213.8" width="30.1" height="30.0" fill="#bfe1ce"/>
<rect x="979.7" y="213.8" width="30.1" height="30.0" fill="#8bbed7"/>
<rect x="1008.8" y="213.8" width="30.1" height="30.0" fill="#8bbed7"/>
<rect x="572.9" y="242.8" width="30.1" height="30.0" fill="#93c4d7"/>
<rect x="602.0" y="242.8" width="30.1" height="30.0" fill="#93c4d7"/>
<rect x="631.1" y="242.8" width="30.1" height="30.0" fill="#7cb2d6"/>
<rect x="660.1" y="242.8" width="30.1" height="30.0" fill="#8bbed7"/>
<rect x="689.2" y="242.8" width="30.1" height="30.0" fill="#b4dad2"/>
<rect x="718.2" y="242.8" width="30.1" height="30.0" fill="#bfe1ce"/>
<rect x="747.3" y="242.8" width="30.1" height="30.0" fill="#fee296"/>
<rect x="776.3" y="242.8" width="30.1" height="30.0" fill="#fbf1b3"/>
<rect x="805.4" y="242.8" width="30.1" height="30.0" fill="#faf5ba"/>
<rect x="834.4" y="242.8" width="30.1" height="30.0" fill="#fed487"/>
<rect x="863.5" y="242.8" width="30.1" height="30.0" fill="#fedb8e"/>
<rect x="892.5" y="242.8" width="30.1" height="30.0" fill="#e4f0be"/>
<rect x="921.6" y="242.8" width="30.1" height="30.0" fill="#b8ddd1"/>
<rect x="950.6" y="242.8" width="30.1" height="30.0" fill="#93c4d7"/>
<rect x="979.7" y="242.8" width="30.1" height="30.0" fill="#689fce"/>
<rect x="1008.8" y="242.8" width="30.1" height="30.0" fill="#689fce"/>
<rect x="572.9" y="271.8" width="30.1" height="30.0" fill="#8bbed7"/>
<rect x="602.0" y="271.8" width="30.1" height="30.0" fill="#8bbed7"/>
<rect x="631.1" y="271.8" width="30.1" height="30.0" fill="#6097cb"/>
<rect x="660.1" y="271.8" width="30.1" height="30.0" fill="#5c94c9"/>
<rect x="689.2" y="271.8" width="30.1" height="30.0" fill="#6ca3d0"/>
<rect x="718.2" y="271.8" width="30.1" height="30.0" fill="#84b8d6"/>
<rect x="747.3" y="271.8" width="30.1" height="30.0" fill="#6097cb"/>
<rect x="776.3" y="271.8" width="30.1" height="30.0" fill="#6097cb"/>
<rect x="805.4" y="271.8" width="30.1" height="30.0" fill="#84b8d6"/>
<rect x="834.4" y="271.8" width="30.1" height="30.0" fill="#a2d0d8"/>
<rect x="863.5" y="271.8" width="30.1" height="30.0" fill="#a9d4d6"/>
<rect x="892.5" y="271.8" width="30.1" height="30.0" fill="#b4dad2"/>
<rect x="921.6" y="271.8" width="30.1" height="30.0" fill="#a9d4d6"/>
<rect x="950.6" y="271.8" width="30.1" height="30.0" fill="#9acad8"/>
<rect x="979.7" y="271.8" width="30.1" height="30.0" fill="#7cb2d6"/>
<rect x="1008.8" y="271.8" width="30.1" height="30.0" fill="#7cb2d6"/>
<rect x="572.9" y="300.8" width="30.1" height="30.0" fill="#8bbed7"/>
<rect x="602.0" y="300.8" width="30.1" height="30.0" fill="#8bbed7"/>
<rect x="631.1" y="300.8" width="30.1" height="30.0" fill="#6097cb"/>
<rect x="660.1" y="300.8" width="30.1" height="30.0" fill="#5c94c9"/>
<rect x="689.2" y="300.8" width="30.1" height="30.0" fill="#6ca3d0"/>
<rect x="718.2" y="300.8" width="30.1" height="30.0" fill="#84b8d6"/>
<rect x="747.3" y="300.8" width="30.1" height="30.0" fill="#6097cb"/>
<rect x="776.3" y="300.8" width="30.1" height="30.0" fill="#6097cb"/>
<rect x="805.4" y="300.8" width="30.1" height="30.0" fill="#84b8d6"/>
<rect x="834.4" y="300.8" width="30.1" height="30.0" fill="#a2d0d8"/>
<rect x="863.5" y="300.8" width="30.1" height="30.0" fill="#a9d4d6"/>
<rect x="892.5" y="300.8" width="30.1" height="30.0" fill="#b4dad2"/>
<rect x="921.6" y="300.8" width="30.1" height="30.0" fill="#a9d4d6"/>
<rect x="950.6" y="300.8" width="30.1" height="30.0" fill="#9acad8"/>
<rect x="979.7" y="300.8" width="30.1" height="30.0" fill="#7cb2d6"/>
<rect x="1008.8" y="300.8" width="30.1" height="30.0" fill="#7cb2d6"/>
<ellipse cx="682" cy="84" rx="24" ry="20" fill="#4478b9" />
<ellipse cx="668" cy="62" rx="22" ry="14" fill="#5189c4" />
<ellipse cx="884" cy="52" rx="34" ry="13" fill="#477bbb" />
<ellipse cx="648" cy="287" rx="32" ry="13" fill="#4a7ebd" />
<ellipse cx="700" cy="290" rx="24" ry="11" fill="#4c82bf" />
<ellipse cx="778" cy="292" rx="34" ry="10" fill="#4f85c2" />
<ellipse cx="1001" cy="258" rx="12" ry="26" fill="#5189c4" />
<ellipse cx="1003" cy="120" rx="8" ry="30" fill="#5c94c9" />
<ellipse cx="655" cy="175" rx="26" ry="26" fill="#f1f3bc" />
<ellipse cx="690" cy="215" rx="26" ry="22" fill="#edf2bc" />
<ellipse cx="735" cy="92" rx="30" ry="16" fill="#f6f4bb" />
<ellipse cx="860" cy="80" rx="30" ry="14" fill="#f1f3bc" />
</g>
<pattern id="tex" width="50" height="50" patternUnits="userSpaceOnUse"><rect x="0" y="5" width="5" height="5" fill="#fff" fill-opacity="0.04"/><rect x="0" y="10" width="5" height="5" fill="#1a4a90" fill-opacity="0.04"/><rect x="0" y="20" width="5" height="5" fill="#fff" fill-opacity="0.07"/><rect x="0" y="25" width="5" height="5" fill="#fff" fill-opacity="0.07"/><rect x="0" y="30" width="5" height="5" fill="#1a4a90" fill-opacity="0.07"/><rect x="0" y="35" width="5" height="5" fill="#1a4a90" fill-opacity="0.05"/><rect x="0" y="40" width="5" height="5" fill="#1a4a90" fill-opacity="0.08"/><rect x="5" y="0" width="5" height="5" fill="#1a4a90" fill-opacity="0.08"/><rect x="5" y="10" width="5" height="5" fill="#fff" fill-opacity="0.03"/><rect x="5" y="15" width="5" height="5" fill="#1a4a90" fill-opacity="0.04"/><rect x="5" y="20" width="5" height="5" fill="#fff" fill-opacity="0.03"/><rect x="5" y="30" width="5" height="5" fill="#1a4a90" fill-opacity="0.09"/><rect x="5" y="40" width="5" height="5" fill="#1a4a90" fill-opacity="0.04"/><rect x="10" y="0" width="5" height="5" fill="#1a4a90" fill-opacity="0.04"/><rect x="10" y="5" width="5" height="5" fill="#fff" fill-opacity="0.03"/><rect x="10" y="15" width="5" height="5" fill="#1a4a90" fill-opacity="0.06"/><rect x="10" y="25" width="5" height="5" fill="#fff" fill-opacity="0.05"/><rect x="10" y="30" width="5" height="5" fill="#1a4a90" fill-opacity="0.03"/><rect x="10" y="35" width="5" height="5" fill="#1a4a90" fill-opacity="0.05"/><rect x="10" y="40" width="5" height="5" fill="#1a4a90" fill-opacity="0.02"/><rect x="10" y="45" width="5" height="5" fill="#fff" fill-opacity="0.08"/><rect x="15" y="0" width="5" height="5" fill="#fff" fill-opacity="0.09"/><rect x="15" y="5" width="5" height="5" fill="#fff" fill-opacity="0.03"/><rect x="15" y="10" width="5" height="5" fill="#fff" fill-opacity="0.07"/><rect x="15" y="15" width="5" height="5" fill="#fff" fill-opacity="0.06"/><rect x="15" y="20" width="5" height="5" fill="#1a4a90" fill-opacity="0.02"/><rect x="15" y="25" width="5" height="5" fill="#1a4a90" fill-opacity="0.07"/><rect x="15" y="30" width="5" height="5" fill="#fff" fill-opacity="0.03"/><rect x="15" y="40" width="5" height="5" fill="#1a4a90" fill-opacity="0.02"/><rect x="15" y="45" width="5" height="5" fill="#1a4a90" fill-opacity="0.05"/><rect x="20" y="10" width="5" height="5" fill="#1a4a90" fill-opacity="0.04"/><rect x="20" y="15" width="5" height="5" fill="#1a4a90" fill-opacity="0.04"/><rect x="20" y="25" width="5" height="5" fill="#fff" fill-opacity="0.06"/><rect x="20" y="35" width="5" height="5" fill="#1a4a90" fill-opacity="0.04"/><rect x="20" y="40" width="5" height="5" fill="#1a4a90" fill-opacity="0.04"/><rect x="25" y="0" width="5" height="5" fill="#1a4a90" fill-opacity="0.05"/><rect x="25" y="5" width="5" height="5" fill="#1a4a90" fill-opacity="0.05"/><rect x="25" y="15" width="5" height="5" fill="#1a4a90" fill-opacity="0.07"/><rect x="25" y="25" width="5" height="5" fill="#1a4a90" fill-opacity="0.02"/><rect x="25" y="30" width="5" height="5" fill="#fff" fill-opacity="0.04"/><rect x="25" y="35" width="5" height="5" fill="#fff" fill-opacity="0.04"/><rect x="25" y="40" width="5" height="5" fill="#fff" fill-opacity="0.03"/><rect x="25" y="45" width="5" height="5" fill="#fff" fill-opacity="0.03"/><rect x="30" y="0" width="5" height="5" fill="#1a4a90" fill-opacity="0.02"/><rect x="30" y="5" width="5" height="5" fill="#fff" fill-opacity="0.03"/><rect x="30" y="10" width="5" height="5" fill="#1a4a90" fill-opacity="0.03"/><rect x="30" y="20" width="5" height="5" fill="#1a4a90" fill-opacity="0.03"/><rect x="30" y="30" width="5" height="5" fill="#1a4a90" fill-opacity="0.08"/><rect x="30" y="35" width="5" height="5" fill="#1a4a90" fill-opacity="0.05"/><rect x="30" y="40" width="5" height="5" fill="#fff" fill-opacity="0.08"/><rect x="30" y="45" width="5" height="5" fill="#1a4a90" fill-opacity="0.05"/><rect x="35" y="0" width="5" height="5" fill="#fff" fill-opacity="0.03"/><rect x="35" y="5" width="5" height="5" fill="#fff" fill-opacity="0.03"/><rect x="35" y="10" width="5" height="5" fill="#fff" fill-opacity="0.04"/><rect x="35" y="25" width="5" height="5" fill="#1a4a90" fill-opacity="0.08"/><rect x="35" y="30" width="5" height="5" fill="#1a4a90" fill-opacity="0.08"/><rect x="35" y="35" width="5" height="5" fill="#1a4a90" fill-opacity="0.05"/><rect x="35" y="40" width="5" height="5" fill="#1a4a90" fill-opacity="0.06"/><rect x="35" y="45" width="5" height="5" fill="#1a4a90" fill-opacity="0.07"/><rect x="40" y="0" width="5" height="5" fill="#1a4a90" fill-opacity="0.07"/><rect x="40" y="10" width="5" height="5" fill="#1a4a90" fill-opacity="0.06"/><rect x="40" y="15" width="5" height="5" fill="#fff" fill-opacity="0.08"/><rect x="40" y="20" width="5" height="5" fill="#fff" fill-opacity="0.03"/><rect x="40" y="30" width="5" height="5" fill="#fff" fill-opacity="0.04"/><rect x="40" y="35" width="5" height="5" fill="#1a4a90" fill-opacity="0.04"/><rect x="40" y="40" width="5" height="5" fill="#fff" fill-opacity="0.08"/><rect x="40" y="45" width="5" height="5" fill="#fff" fill-opacity="0.06"/><rect x="45" y="0" width="5" height="5" fill="#fff" fill-opacity="0.04"/><rect x="45" y="10" width="5" height="5" fill="#fff" fill-opacity="0.06"/><rect x="45" y="15" width="5" height="5" fill="#fff" fill-opacity="0.04"/><rect x="45" y="20" width="5" height="5" fill="#fff" fill-opacity="0.03"/><rect x="45" y="25" width="5" height="5" fill="#fff" fill-opacity="0.07"/><rect x="45" y="30" width="5" height="5" fill="#fff" fill-opacity="0.02"/><rect x="45" y="35" width="5" height="5" fill="#1a4a90" fill-opacity="0.02"/><rect x="45" y="45" width="5" height="5" fill="#1a4a90" fill-opacity="0.05"/></pattern>
<rect x="602.5" y="40.5" width="406.75" height="260.75" fill="url(#tex)"/>
<g filter="url(#b1)">
<polygon points="885.34,168 885.31,170.34 885.2,172.67 885.03,175 884.79,177.32 807,168 807,168 807,168 807,168 807,168" fill="#fdbb6d" />
<polygon points="863.4,168 863.38,169.68 863.3,171.36 863.18,173.04 863,174.71 807,168 807,168 807,168 807,168 807,168" fill="#f88e53" />
<polygon points="861.3,168 861.28,169.62 861.2,171.24 861.08,172.85 860.92,174.46 807,168 807,168 807,168 807,168 807,168" fill="#ea5e3c" />
<polygon points="847.82,168 847.8,169.22 847.75,170.43 847.66,171.65 847.53,172.86 807,168 807,168 807,168 807,168 807,168" fill="#d2322b" />
<polygon points="839.1,168 839.09,168.96 839.05,169.91 838.97,170.87 838.87,171.82 807,168 807,168 807,168 807,168 807,168" fill="#af1328" />
<polygon points="875.8,175.63 875.41,178.61 874.88,181.56 874.23,184.49 873.46,187.39 807,168 807,168 807,168 807,168 807,168" fill="#fdcf81" />
<polygon points="862.01,174.1 861.7,176.48 861.28,178.84 860.76,181.18 860.13,183.5 807,168 807,168 807,168 807,168 807,168" fill="#f68850" />
<polygon points="860.22,173.91 859.91,176.21 859.51,178.49 859,180.75 858.4,182.99 807,168 807,168 807,168 807,168 807,168" fill="#e35137" />
<polygon points="845.18,172.24 844.96,173.89 844.67,175.53 844.31,177.15 843.88,178.76 807,168 807,168 807,168 807,168 807,168" fill="#c3252a" />
<polygon points="837.28,171.36 837.1,172.67 836.87,173.97 836.58,175.26 836.24,176.53 807,168 807,168 807,168 807,168 807,168" fill="#a91126" />
<polygon points="869.41,185.62 868.83,187.57 868.18,189.5 867.47,191.42 866.71,193.31 807,168 807,168 807,168 807,168 807,168" fill="#fcb268" />
<polygon points="862.14,183.56 861.62,185.29 861.05,187 860.43,188.69 859.75,190.36 807,168 807,168 807,168 807,168 807,168" fill="#fb9f5c" />
<polygon points="850.36,180.24 849.95,181.6 849.51,182.94 849.01,184.27 848.48,185.58 807,168 807,168 807,168 807,168 807,168" fill="#ef6b42" />
<polygon points="842.59,178.05 842.26,179.16 841.89,180.26 841.49,181.36 841.05,182.43 807,168 807,168 807,168 807,168 807,168" fill="#d1312b" />
<polygon points="839.88,177.28 839.57,178.31 839.23,179.33 838.86,180.34 838.46,181.33 807,168 807,168 807,168 807,168 807,168" fill="#9c0c24" />
<polygon points="862.31,190.88 861.24,193.31 860.06,195.69 858.78,198.02 857.4,200.29 807,168 807,168 807,168 807,168 807,168" fill="#fcb167" />
<polygon points="862.93,191.13 861.84,193.59 860.65,196 859.36,198.35 857.96,200.65 807,168 807,168 807,168 807,168 807,168" fill="#fa9c5a" />
<polygon points="846.94,184.52 846.16,186.28 845.32,188 844.39,189.68 843.39,191.32 807,168 807,168 807,168 807,168 807,168" fill="#df4632" />
<polygon points="844.15,183.37 843.43,185 842.64,186.6 841.78,188.17 840.85,189.69 807,168 807,168 807,168 807,168 807,168" fill="#ba1c29" />
<polygon points="836.21,180.08 835.64,181.37 835.02,182.62 834.34,183.85 833.61,185.05 807,168 807,168 807,168 807,168 807,168" fill="#940922" />
<polygon points="864.61,204.21 863.72,205.58 862.8,206.93 861.85,208.26 860.86,209.57 807,168 807,168 807,168 807,168 807,168" fill="#fdbb6d" />
<polygon points="862.63,202.96 861.77,204.29 860.88,205.59 859.96,206.88 859.01,208.14 807,168 807,168 807,168 807,168 807,168" fill="#f89054" />
<polygon points="846.84,193.04 846.23,193.99 845.59,194.93 844.93,195.85 844.25,196.75 807,168 807,168 807,168 807,168 807,168" fill="#ef6b41" />
<polygon points="843.19,190.74 842.63,191.61 842.06,192.46 841.46,193.3 840.84,194.12 807,168 807,168 807,168 807,168 807,168" fill="#d5352c" />
<polygon points="832.94,184.3 832.54,184.92 832.13,185.53 831.7,186.13 831.26,186.72 807,168 807,168 807,168 807,168 807,168" fill="#ae1327" />
<polygon points="868.66,214.74 867.2,216.6 865.69,218.42 864.12,220.19 862.5,221.91 807,168 807,168 807,168 807,168 807,168" fill="#fcb96c" />
<polygon points="855.14,204.49 854,205.95 852.82,207.37 851.6,208.75 850.33,210.09 807,168 807,168 807,168 807,168 807,168" fill="#f37948" />
<polygon points="847.86,198.97 846.89,200.2 845.89,201.41 844.85,202.58 843.77,203.72 807,168 807,168 807,168 807,168 807,168" fill="#dc4130" />
<polygon points="838.97,192.23 838.21,193.2 837.43,194.14 836.62,195.06 835.77,195.95 807,168 807,168 807,168 807,168 807,168" fill="#bc1d29" />
<polygon points="831.8,186.8 831.21,187.55 830.6,188.28 829.97,188.99 829.32,189.68 807,168 807,168 807,168 807,168 807,168" fill="#af1327" />
<polygon points="849.57,208.63 848.18,210.03 846.75,211.39 845.28,212.69 843.77,213.95 807,168 807,168 807,168 807,168 807,168" fill="#fdcc7e" />
<polygon points="849.54,208.61 848.16,210.01 846.73,211.36 845.26,212.67 843.74,213.92 807,168 807,168 807,168 807,168 807,168" fill="#fa9c5b" />
<polygon points="843.68,203.02 842.49,204.23 841.26,205.39 839.99,206.52 838.69,207.6 807,168 807,168 807,168 807,168 807,168" fill="#df4732" />
<polygon points="832.22,192.07 831.4,192.9 830.55,193.7 829.68,194.48 828.78,195.22 807,168 807,168 807,168 807,168 807,168" fill="#cc2d2b" />
<polygon points="827.08,187.17 826.43,187.83 825.76,188.47 825.06,189.09 824.35,189.68 807,168 807,168 807,168 807,168 807,168" fill="#9e0c24" />
<polygon points="851.59,222.74 849.54,224.35 847.43,225.88 845.27,227.33 843.05,228.71 807,168 807,168 807,168 807,168 807,168" fill="#fdcd7f" />
<polygon points="848.3,218.71 846.41,220.2 844.45,221.62 842.45,222.96 840.39,224.23 807,168 807,168 807,168 807,168 807,168" fill="#fba35f" />
<polygon points="840.55,209.19 839.01,210.4 837.42,211.55 835.79,212.65 834.13,213.68 807,168 807,168 807,168 807,168 807,168" fill="#e85a3a" />
<polygon points="829.75,195.93 828.71,196.75 827.63,197.54 826.53,198.28 825.4,198.98 807,168 807,168 807,168 807,168 807,168" fill="#c7272a" />
<polygon points="827.78,193.52 826.83,194.27 825.85,194.98 824.84,195.66 823.8,196.3 807,168 807,168 807,168 807,168 807,168" fill="#930822" />
<polygon points="838.48,219.97 836.71,221 834.9,221.97 833.07,222.88 831.2,223.73 807,168 807,168 807,168 807,168 807,168" fill="#fdc677" />
<polygon points="841.08,224.27 839.17,225.38 837.21,226.44 835.23,227.42 833.21,228.34 807,168 807,168 807,168 807,168 807,168" fill="#f99255" />
<polygon points="830.43,206.68 829.11,207.45 827.77,208.18 826.41,208.85 825.02,209.48 807,168 807,168 807,168 807,168 807,168" fill="#df4732" />
<polygon points="828.02,202.71 826.84,203.4 825.64,204.05 824.41,204.65 823.16,205.22 807,168 807,168 807,168 807,168 807,168" fill="#d7372c" />
<polygon points="824.48,196.86 823.5,197.43 822.49,197.97 821.48,198.47 820.44,198.95 807,168 807,168 807,168 807,168 807,168" fill="#a00d25" />
<polygon points="840.35,242.99 837.72,244.1 835.06,245.12 832.36,246.05 829.63,246.89 807,168 807,168 807,168 807,168 807,168" fill="#fdbe6f" />
<polygon points="833.94,228.57 831.82,229.47 829.66,230.3 827.49,231.05 825.28,231.72 807,168 807,168 807,168 807,168 807,168" fill="#fa9858" />
<polygon points="825.5,209.61 824.05,210.23 822.57,210.79 821.07,211.31 819.56,211.77 807,168 807,168 807,168 807,168 807,168" fill="#e85b3b" />
<polygon points="822.63,203.15 821.4,203.67 820.15,204.15 818.89,204.59 817.61,204.98 807,168 807,168 807,168 807,168 807,168" fill="#b81a29" />
<polygon points="819.79,196.75 818.78,197.18 817.76,197.57 816.72,197.93 815.68,198.25 807,168 807,168 807,168 807,168 807,168" fill="#930922" />
<polygon points="830.3,246.61 827.56,247.37 824.79,248.04 822.01,248.61 819.21,249.08 807,168 807,168 807,168 807,168 807,168" fill="#fcb569" />
<polygon points="824.19,226 822.17,226.57 820.13,227.06 818.07,227.48 816.01,227.82 807,168 807,168 807,168 807,168 807,168" fill="#f27747" />
<polygon points="820.31,212.91 818.74,213.34 817.16,213.72 815.57,214.04 813.97,214.31 807,168 807,168 807,168 807,168 807,168" fill="#df4833" />
<polygon points="819.17,209.06 817.74,209.45 816.29,209.8 814.84,210.1 813.37,210.34 807,168 807,168 807,168 807,168 807,168" fill="#be1f29" />
<polygon points="816.58,200.34 815.46,200.66 814.32,200.93 813.18,201.16 812.02,201.36 807,168 807,168 807,168 807,168 807,168" fill="#9b0b24" />
<polygon points="819.74,247.87 816.34,248.34 812.93,248.66 809.51,248.84 806.09,248.87 807,168 807,168 807,168 807,168 807,168" fill="#fed284" />
<polygon points="818.31,238.92 815.3,239.33 812.27,239.62 809.23,239.78 806.19,239.81 807,168 807,168 807,168 807,168 807,168" fill="#fa9657" />
<polygon points="815.07,218.58 812.92,218.87 810.76,219.08 808.59,219.19 806.42,219.21 807,168 807,168 807,168 807,168 807,168" fill="#de4632" />
<polygon points="813.13,206.46 811.5,206.69 809.86,206.84 808.21,206.93 806.56,206.95 807,168 807,168 807,168 807,168 807,168" fill="#d6362c" />
<polygon points="811.91,198.76 810.6,198.94 809.28,199.06 807.97,199.13 806.65,199.14 807,168 807,168 807,168 807,168 807,168" fill="#a40f25" />
<polygon points="806.81,239.8 803.56,239.72 800.32,239.49 797.09,239.11 793.88,238.59 807,168 807,168 807,168 807,168 807,168" fill="#fed487" />
<polygon points="806.85,227 804.18,226.94 801.51,226.75 798.86,226.44 796.22,226.01 807,168 807,168 807,168 807,168 807,168" fill="#fa9f5c" />
<polygon points="806.87,218.9 804.56,218.84 802.27,218.68 799.98,218.41 797.7,218.04 807,168 807,168 807,168 807,168 807,168" fill="#de4632" />
<polygon points="806.9,207.93 805.09,207.88 803.29,207.76 801.49,207.55 799.7,207.26 807,168 807,168 807,168 807,168 807,168" fill="#bc1e29" />
<polygon points="806.91,204.46 805.26,204.41 803.61,204.3 801.97,204.11 800.34,203.84 807,168 807,168 807,168 807,168 807,168" fill="#9f0d24" />
<polygon points="795.41,233.55 792.28,232.92 789.19,232.14 786.13,231.21 783.13,230.14 807,168 807,168 807,168 807,168 807,168" fill="#fdc070" />
<polygon points="794.36,239.51 790.94,238.82 787.57,237.97 784.24,236.96 780.96,235.79 807,168 807,168 807,168 807,168 807,168" fill="#f27647" />
<polygon points="797.56,221.41 795.01,220.9 792.49,220.26 790,219.51 787.55,218.63 807,168 807,168 807,168 807,168 807,168" fill="#ee6740" />
<polygon points="799.71,209.22 797.75,208.82 795.8,208.33 793.88,207.75 791.99,207.07 807,168 807,168 807,168 807,168 807,168" fill="#c4252a" />
<polygon points="800.7,203.64 799,203.3 797.31,202.88 795.65,202.37 794.02,201.79 807,168 807,168 807,168 807,168 807,168" fill="#a30e25" />
<polygon points="782.57,233.27 779.91,232.22 777.3,231.05 774.74,229.78 772.23,228.4 807,168 807,168 807,168 807,168 807,168" fill="#fdc879" />
<polygon points="786.97,221.54 784.78,220.67 782.64,219.71 780.54,218.67 778.48,217.54 807,168 807,168 807,168 807,168 807,168" fill="#f99356" />
<polygon points="788.32,217.91 786.29,217.1 784.29,216.21 782.33,215.23 780.41,214.18 807,168 807,168 807,168 807,168 807,168" fill="#e24e35" />
<polygon points="792.27,207.37 790.67,206.73 789.09,206.02 787.54,205.26 786.03,204.43 807,168 807,168 807,168 807,168 807,168" fill="#c6272a" />
<polygon points="794.28,201.99 792.9,201.44 791.53,200.83 790.2,200.17 788.89,199.45 807,168 807,168 807,168 807,168 807,168" fill="#930822" />
<polygon points="770.44,232.81 767.58,231.11 764.8,229.29 762.11,227.35 759.5,225.28 807,168 807,168 807,168 807,168 807,168" fill="#fcb067" />
<polygon points="777.83,219.71 775.55,218.36 773.33,216.9 771.18,215.35 769.1,213.7 807,168 807,168 807,168 807,168 807,168" fill="#fa9e5b" />
<polygon points="780.74,214.55 778.69,213.33 776.7,212.02 774.76,210.62 772.89,209.14 807,168 807,168 807,168 807,168 807,168" fill="#e7583a" />
<polygon points="784.55,207.79 782.8,206.75 781.09,205.63 779.44,204.44 777.84,203.17 807,168 807,168 807,168 807,168 807,168" fill="#ca2a2a" />
<polygon points="789.87,198.37 788.53,197.57 787.23,196.72 785.96,195.81 784.74,194.84 807,168 807,168 807,168 807,168 807,168" fill="#a81026" />
<polygon points="760.78,224.74 758.9,223.16 757.08,221.52 755.31,219.81 753.6,218.05 807,168 807,168 807,168 807,168 807,168" fill="#fed688" />
<polygon points="766.73,217.45 765.09,216.07 763.5,214.63 761.96,213.15 760.47,211.61 807,168 807,168 807,168 807,168 807,168" fill="#fa9958" />
<polygon points="776.08,205.96 774.83,204.9 773.61,203.8 772.42,202.66 771.28,201.48 807,168 807,168 807,168 807,168 807,168" fill="#e14c35" />
<polygon points="782.55,198.02 781.56,197.18 780.59,196.31 779.66,195.41 778.75,194.48 807,168 807,168 807,168 807,168 807,168" fill="#c3252a" />
<polygon points="787.42,192.04 786.62,191.37 785.85,190.67 785.1,189.95 784.38,189.2 807,168 807,168 807,168 807,168 807,168" fill="#920822" />
<polygon points="753.33,219.19 751.39,217.08 749.53,214.89 747.76,212.63 746.08,210.31 807,168 807,168 807,168 807,168 807,168" fill="#fdc373" />
<polygon points="760.06,212.77 758.37,210.92 756.74,209.01 755.19,207.03 753.72,205 807,168 807,168 807,168 807,168 807,168" fill="#fa9757" />
<polygon points="768.01,205.19 766.6,203.66 765.25,202.07 763.96,200.43 762.74,198.74 807,168 807,168 807,168 807,168 807,168" fill="#df4833" />
<polygon points="775.53,198.01 774.4,196.77 773.31,195.49 772.27,194.17 771.28,192.8 807,168 807,168 807,168 807,168 807,168" fill="#c3242a" />
<polygon points="783.14,190.76 782.28,189.82 781.45,188.84 780.67,187.84 779.92,186.81 807,168 807,168 807,168 807,168 807,168" fill="#a81026" />
<polygon points="754.6,205.07 753.5,203.46 752.44,201.82 751.44,200.14 750.49,198.44 807,168 807,168 807,168 807,168 807,168" fill="#fdd082" />
<polygon points="757.7,202.88 756.67,201.36 755.67,199.81 754.73,198.24 753.83,196.63 807,168 807,168 807,168 807,168 807,168" fill="#fa9758" />
<polygon points="769.66,194.42 768.87,193.27 768.12,192.1 767.4,190.91 766.72,189.69 807,168 807,168 807,168 807,168 807,168" fill="#e35036" />
<polygon points="775.34,190.4 774.67,189.42 774.04,188.43 773.43,187.42 772.86,186.39 807,168 807,168 807,168 807,168 807,168" fill="#bd1f29" />
<polygon points="783.36,184.73 782.86,184 782.39,183.26 781.93,182.5 781.5,181.73 807,168 807,168 807,168 807,168 807,168" fill="#9e0d24" />
<polygon points="735.69,207.21 734.61,205.19 733.59,203.13 732.63,201.05 731.73,198.94 807,168 807,168 807,168 807,168 807,168" fill="#fed487" />
<polygon points="748.99,199.9 748.11,198.25 747.28,196.58 746.5,194.89 745.77,193.17 807,168 807,168 807,168 807,168 807,168" fill="#f68850" />
<polygon points="762.07,192.71 761.39,191.43 760.75,190.14 760.14,188.82 759.58,187.5 807,168 807,168 807,168 807,168 807,168" fill="#db3e2e" />
<polygon points="768.64,189.09 768.06,188 767.51,186.9 767,185.78 766.51,184.64 807,168 807,168 807,168 807,168 807,168" fill="#be1f29" />
<polygon points="778.63,183.6 778.21,182.79 777.8,181.98 777.42,181.15 777.06,180.31 807,168 807,168 807,168 807,168 807,168" fill="#ac1227" />
<polygon points="731.3,199.89 730.46,197.83 729.68,195.74 728.96,193.63 728.29,191.51 807,168 807,168 807,168 807,168 807,168" fill="#fcb96c" />
<polygon points="743.47,194.77 742.77,193.03 742.12,191.28 741.51,189.51 740.95,187.73 807,168 807,168 807,168 807,168 807,168" fill="#fb9f5c" />
<polygon points="757.11,189.02 756.56,187.66 756.04,186.28 755.56,184.9 755.12,183.49 807,168 807,168 807,168 807,168 807,168" fill="#ed653f" />
<polygon points="765.53,185.47 765.07,184.34 764.65,183.2 764.25,182.04 763.88,180.88 807,168 807,168 807,168 807,168 807,168" fill="#ca2b2b" />
<polygon points="779.74,179.49 779.43,178.74 779.15,177.99 778.89,177.23 778.65,176.47 807,168 807,168 807,168 807,168 807,168" fill="#b21428" />
<polygon points="743.86,187.46 743.03,184.53 742.34,181.56 741.78,178.56 741.36,175.54 807,168 807,168 807,168 807,168 807,168" fill="#fcb268" />
<polygon points="743.61,187.54 742.77,184.59 742.08,181.61 741.52,178.6 741.1,175.57 807,168 807,168 807,168 807,168 807,168" fill="#f99657" />
<polygon points="757.07,183.39 756.42,181.07 755.87,178.72 755.43,176.35 755.1,173.96 807,168 807,168 807,168 807,168 807,168" fill="#e55538" />
<polygon points="763.9,181.28 763.33,179.28 762.86,177.26 762.48,175.21 762.2,173.15 807,168 807,168 807,168 807,168 807,168" fill="#cc2d2b" />
<polygon points="775.41,177.74 774.99,176.27 774.64,174.78 774.37,173.29 774.16,171.77 807,168 807,168 807,168 807,168 807,168" fill="#9a0b24" />
<polygon points="728.21,177.75 727.94,175.24 727.75,172.71 727.64,170.19 727.61,167.66 807,168 807,168 807,168 807,168 807,168" fill="#fed385" />
<polygon points="751.02,174.93 750.83,173.14 750.69,171.35 750.61,169.55 750.59,167.76 807,168 807,168 807,168 807,168 807,168" fill="#f47d4b" />
<polygon points="759.08,173.93 758.91,172.4 758.8,170.87 758.73,169.33 758.71,167.79 807,168 807,168 807,168 807,168 807,168" fill="#e85b3b" />
<polygon points="765.69,173.11 765.54,171.79 765.44,170.47 765.39,169.15 765.37,167.82 807,168 807,168 807,168 807,168 807,168" fill="#d1312b" />
<polygon points="777.77,171.62 777.66,170.69 777.59,169.75 777.55,168.81 777.54,167.87 807,168 807,168 807,168 807,168 807,168" fill="#970a23" />
<polygon points="731.06,168.33 731.1,165.37 731.26,162.41 731.54,159.45 731.93,156.51 807,168 807,168 807,168 807,168 807,168" fill="#fdc575" />
<polygon points="738.39,168.3 738.43,165.62 738.57,162.95 738.82,160.28 739.18,157.62 807,168 807,168 807,168 807,168 807,168" fill="#f6844e" />
<polygon points="753.26,168.24 753.29,166.14 753.41,164.04 753.6,161.95 753.88,159.87 807,168 807,168 807,168 807,168 807,168" fill="#df4632" />
<polygon points="767.18,168.18 767.2,166.62 767.29,165.07 767.43,163.52 767.64,161.98 807,168 807,168 807,168 807,168 807,168" fill="#d1322b" />
<polygon points="778.43,168.13 778.44,167.01 778.5,165.9 778.61,164.78 778.75,163.68 807,168 807,168 807,168 807,168 807,168" fill="#9e0c24" />
<polygon points="738.31,158.1 738.87,154.78 739.59,151.49 740.47,148.23 741.51,145.03 807,168 807,168 807,168 807,168 807,168" fill="#fdc374" />
<polygon points="746.93,159.34 747.42,156.44 748.06,153.56 748.83,150.71 749.73,147.91 807,168 807,168 807,168 807,168 807,168" fill="#f37b49" />
<polygon points="756.11,160.67 756.52,158.2 757.06,155.76 757.71,153.35 758.48,150.98 807,168 807,168 807,168 807,168 807,168" fill="#e24d35" />
<polygon points="763.6,161.75 763.96,159.65 764.42,157.57 764.97,155.51 765.63,153.49 807,168 807,168 807,168 807,168 807,168" fill="#c8292a" />
<polygon points="770.66,162.76 770.96,161.01 771.34,159.26 771.81,157.54 772.35,155.85 807,168 807,168 807,168 807,168 807,168" fill="#a81026" />
<polygon points="728.99,141.4 729.92,138.82 730.93,136.28 732.02,133.78 733.2,131.31 807,168 807,168 807,168 807,168 807,168" fill="#fdcc7d" />
<polygon points="749.89,148.52 750.56,146.64 751.3,144.78 752.1,142.95 752.96,141.14 807,168 807,168 807,168 807,168 807,168" fill="#fa9e5c" />
<polygon points="760.39,152.1 760.94,150.57 761.54,149.05 762.2,147.55 762.9,146.08 807,168 807,168 807,168 807,168 807,168" fill="#e95d3b" />
<polygon points="768.19,154.76 768.65,153.48 769.15,152.22 769.7,150.97 770.28,149.75 807,168 807,168 807,168 807,168 807,168" fill="#d5352c" />
<polygon points="773.81,156.68 774.21,155.59 774.64,154.51 775.1,153.44 775.6,152.39 807,168 807,168 807,168 807,168 807,168" fill="#a40f25" />
<polygon points="738.31,134.6 739.89,131.52 741.6,128.53 743.46,125.61 745.44,122.78 807,168 807,168 807,168 807,168 807,168" fill="#fed98c" />
<polygon points="747.96,139.29 749.32,136.65 750.79,134.07 752.38,131.57 754.09,129.13 807,168 807,168 807,168 807,168 807,168" fill="#f47c4a" />
<polygon points="763.2,146.7 764.21,144.75 765.31,142.83 766.49,140.97 767.75,139.17 807,168 807,168 807,168 807,168 807,168" fill="#e14b34" />
<polygon points="768.88,149.46 769.76,147.76 770.71,146.09 771.74,144.48 772.84,142.91 807,168 807,168 807,168 807,168 807,168" fill="#bc1d29" />
<polygon points="779.27,154.52 779.91,153.28 780.6,152.07 781.35,150.89 782.15,149.75 807,168 807,168 807,168 807,168 807,168" fill="#ae1227" />
<polygon points="735.11,116.15 736.89,113.77 738.75,111.45 740.69,109.19 742.7,107 807,168 807,168 807,168 807,168 807,168" fill="#fdca7b" />
<polygon points="752.78,128.89 754.12,127.1 755.52,125.35 756.98,123.64 758.5,121.99 807,168 807,168 807,168 807,168 807,168" fill="#f78b51" />
<polygon points="757.64,132.4 758.86,130.77 760.14,129.17 761.47,127.62 762.85,126.12 807,168 807,168 807,168 807,168 807,168" fill="#e85c3b" />
<polygon points="765.6,138.14 766.63,136.77 767.7,135.43 768.81,134.13 769.97,132.87 807,168 807,168 807,168 807,168 807,168" fill="#cb2c2b" />
<polygon points="781.9,149.9 782.53,149.07 783.18,148.26 783.85,147.47 784.55,146.71 807,168 807,168 807,168 807,168 807,168" fill="#a71026" />
<polygon points="756.09,120.54 757.54,119.03 759.03,117.57 760.57,116.15 762.15,114.78 807,168 807,168 807,168 807,168 807,168" fill="#fdc576" />
<polygon points="753.7,118.31 755.21,116.73 756.78,115.2 758.39,113.71 760.04,112.28 807,168 807,168 807,168 807,168 807,168" fill="#fba761" />
<polygon points="761.13,125.24 762.43,123.88 763.78,122.56 765.16,121.28 766.59,120.05 807,168 807,168 807,168 807,168 807,168" fill="#ef6941" />
<polygon points="776.85,139.89 777.71,139 778.59,138.14 779.5,137.3 780.44,136.48 807,168 807,168 807,168 807,168 807,168" fill="#c6272a" />
<polygon points="778.8,141.71 779.6,140.88 780.43,140.07 781.28,139.28 782.16,138.52 807,168 807,168 807,168 807,168 807,168" fill="#af1327" />
<polygon points="757.61,110.42 759.46,108.88 761.36,107.4 763.31,105.99 765.3,104.63 807,168 807,168 807,168 807,168 807,168" fill="#fcb267" />
<polygon points="756.59,109.24 758.48,107.67 760.42,106.16 762.41,104.71 764.44,103.33 807,168 807,168 807,168 807,168 807,168" fill="#f5844e" />
<polygon points="770.23,125.14 771.61,123.99 773.02,122.89 774.47,121.83 775.96,120.82 807,168 807,168 807,168 807,168 807,168" fill="#ed663f" />
<polygon points="778.11,134.33 779.2,133.43 780.31,132.56 781.45,131.73 782.61,130.94 807,168 807,168 807,168 807,168 807,168" fill="#ba1b29" />
<polygon points="781.29,138.03 782.25,137.23 783.24,136.46 784.26,135.72 785.29,135.01 807,168 807,168 807,168 807,168 807,168" fill="#a40f25" />
<polygon points="758.78,96.1 762.03,94.02 765.37,92.09 768.8,90.31 772.3,88.68 807,168 807,168 807,168 807,168 807,168" fill="#fdc778" />
<polygon points="766.68,107.88 769.4,106.15 772.2,104.53 775.06,103.05 777.99,101.69 807,168 807,168 807,168 807,168 807,168" fill="#fba35f" />
<polygon points="773.31,117.76 775.58,116.31 777.92,114.96 780.31,113.72 782.75,112.58 807,168 807,168 807,168 807,168 807,168" fill="#e85b3b" />
<polygon points="778.77,125.91 780.67,124.69 782.63,123.56 784.64,122.52 786.68,121.57 807,168 807,168 807,168 807,168 807,168" fill="#ba1b29" />
<polygon points="787.16,138.41 788.49,137.55 789.87,136.76 791.28,136.03 792.72,135.36 807,168 807,168 807,168 807,168 807,168" fill="#ab1127" />
<polygon points="770.58,86.69 774.15,85.18 777.8,83.82 781.49,82.63 785.24,81.6 807,168 807,168 807,168 807,168 807,168" fill="#fdcb7d" />
<polygon points="780.41,108.63 783.02,107.53 785.68,106.54 788.38,105.67 791.11,104.92 807,168 807,168 807,168 807,168 807,168" fill="#f5824d" />
<polygon points="782.13,112.49 784.58,111.45 787.06,110.53 789.59,109.72 792.14,109.01 807,168 807,168 807,168 807,168 807,168" fill="#de4531" />
<polygon points="786.89,123.11 788.87,122.28 790.88,121.53 792.92,120.87 794.99,120.3 807,168 807,168 807,168 807,168 807,168" fill="#cb2c2b" />
<polygon points="790.56,131.29 792.17,130.61 793.82,130 795.49,129.46 797.18,129 807,168 807,168 807,168 807,168 807,168" fill="#ab1127" />
<polygon points="785.27,84.78 788.08,84.1 790.91,83.51 793.76,83.02 796.63,82.62 807,168 807,168 807,168 807,168 807,168" fill="#fdce80" />
<polygon points="790.2,103.68 792.37,103.15 794.56,102.69 796.77,102.31 798.98,102 807,168 807,168 807,168 807,168 807,168" fill="#f88f53" />
<polygon points="791.23,107.63 793.27,107.13 795.33,106.7 797.4,106.35 799.47,106.06 807,168 807,168 807,168 807,168 807,168" fill="#dd4331" />
<polygon points="795.57,124.25 797.05,123.89 798.54,123.58 800.04,123.32 801.55,123.12 807,168 807,168 807,168 807,168 807,168" fill="#c7282a" />
<polygon points="797.23,130.61 798.5,130.3 799.77,130.03 801.05,129.81 802.34,129.63 807,168 807,168 807,168 807,168 807,168" fill="#9e0d24" />
<polygon points="796.4,86.65 799.08,86.35 801.78,86.13 804.48,86 807.19,85.96 807,168 807,168 807,168 807,168 807,168" fill="#fed487" />
<polygon points="798.8,105.12 800.88,104.89 802.96,104.72 805.05,104.62 807.14,104.59 807,168 807,168 807,168 807,168 807,168" fill="#fa9858" />
<polygon points="799.46,110.18 801.37,109.96 803.29,109.81 805.21,109.72 807.13,109.69 807,168 807,168 807,168 807,168 807,168" fill="#ea5e3c" />
<polygon points="800.89,121.16 802.44,120.98 803.99,120.86 805.55,120.78 807.11,120.76 807,168 807,168 807,168 807,168 807,168" fill="#cc2c2b" />
<polygon points="802.5,133.47 803.64,133.34 804.78,133.25 805.93,133.19 807.08,133.18 807,168 807,168 807,168 807,168 807,168" fill="#980a23" />
<polygon points="806.4,75 810.81,75.08 815.21,75.36 819.6,75.86 823.95,76.56 807,168 807,168 807,168 807,168 807,168" fill="#fed689" />
<polygon points="806.55,98.09 809.86,98.15 813.17,98.36 816.47,98.74 819.74,99.26 807,168 807,168 807,168 807,168 807,168" fill="#f5824d" />
<polygon points="806.59,104.53 809.6,104.58 812.61,104.78 815.6,105.12 818.57,105.59 807,168 807,168 807,168 807,168 807,168" fill="#e35036" />
<polygon points="806.68,118.92 809.01,118.96 811.33,119.11 813.65,119.37 815.95,119.74 807,168 807,168 807,168 807,168 807,168" fill="#c6272a" />
<polygon points="806.74,127 808.68,127.03 810.62,127.16 812.55,127.38 814.47,127.69 807,168 807,168 807,168 807,168 807,168" fill="#9a0b23" />
<polygon points="822.88,77.99 826.98,78.81 831.05,79.82 835.06,81.01 839.01,82.39 807,168 807,168 807,168 807,168 807,168" fill="#fcb96c" />
<polygon points="818.96,100.18 822.06,100.8 825.12,101.56 828.14,102.46 831.12,103.49 807,168 807,168 807,168 807,168 807,168" fill="#f78b51" />
<polygon points="816.9,111.86 819.46,112.37 822,113 824.5,113.75 826.97,114.6 807,168 807,168 807,168 807,168 807,168" fill="#e65739" />
<polygon points="815.58,119.36 817.8,119.8 819.99,120.35 822.16,120.99 824.3,121.73 807,168 807,168 807,168 807,168 807,168" fill="#c2232a" />
<polygon points="812.72,135.59 814.19,135.89 815.66,136.25 817.1,136.68 818.53,137.18 807,168 807,168 807,168 807,168 807,168" fill="#930922" />
<polygon points="836.96,85.7 840.64,87.13 844.24,88.73 847.78,90.49 851.23,92.4 807,168 807,168 807,168 807,168 807,168" fill="#fdc778" />
<polygon points="829.84,105.26 832.64,106.35 835.39,107.57 838.09,108.91 840.72,110.37 807,168 807,168 807,168 807,168 807,168" fill="#f6864f" />
<polygon points="829.22,106.95 831.95,108.02 834.63,109.2 837.25,110.51 839.8,111.93 807,168 807,168 807,168 807,168 807,168" fill="#dd4230" />
<polygon points="823.11,123.74 825.09,124.51 827.03,125.37 828.93,126.31 830.79,127.34 807,168 807,168 807,168 807,168 807,168" fill="#d6362c" />
<polygon points="820.87,129.89 822.57,130.56 824.24,131.3 825.88,132.11 827.48,133 807,168 807,168 807,168 807,168 807,168" fill="#a91026" />
<polygon points="843.45,104.43 845.25,105.5 847.03,106.62 848.77,107.8 850.48,109.02 807,168 807,168 807,168 807,168 807,168" fill="#fcb368" />
<polygon points="841.51,107.8 843.22,108.82 844.9,109.88 846.55,110.99 848.17,112.15 807,168 807,168 807,168 807,168 807,168" fill="#f89054" />
<polygon points="839.08,112.06 840.66,113 842.23,113.99 843.76,115.02 845.26,116.09 807,168 807,168 807,168 807,168 807,168" fill="#e65639" />
<polygon points="829.72,128.38 830.85,129.04 831.95,129.74 833.04,130.47 834.1,131.23 807,168 807,168 807,168 807,168 807,168" fill="#c0222a" />
<polygon points="823.81,138.69 824.64,139.18 825.46,139.7 826.26,140.24 827.05,140.8 807,168 807,168 807,168 807,168 807,168" fill="#980a23" />
<polygon points="852.27,105.45 854.12,106.83 855.93,108.27 857.7,109.76 859.42,111.31 807,168 807,168 807,168 807,168 807,168" fill="#fdbf6f" />
<polygon points="848.63,110.48 850.34,111.75 852,113.07 853.62,114.44 855.21,115.86 807,168 807,168 807,168 807,168 807,168" fill="#f99255" />
<polygon points="844.38,116.35 845.91,117.5 847.4,118.68 848.86,119.91 850.28,121.19 807,168 807,168 807,168 807,168 807,168" fill="#dd4331" />
<polygon points="838.61,124.32 839.91,125.29 841.17,126.29 842.4,127.33 843.6,128.41 807,168 807,168 807,168 807,168 807,168" fill="#ce2e2b" />
<polygon points="827.26,140.01 828.08,140.63 828.89,141.27 829.68,141.94 830.45,142.63 807,168 807,168 807,168 807,168 807,168" fill="#a91126" />
<polygon points="869.93,98.73 871.61,100.3 873.26,101.91 874.86,103.56 876.42,105.24 807,168 807,168 807,168 807,168 807,168" fill="#fed88b" />
<polygon points="851.82,118.67 853.02,119.79 854.19,120.93 855.33,122.1 856.44,123.31 807,168 807,168 807,168 807,168 807,168" fill="#fa9858" />
<polygon points="844.94,126.25 845.95,127.19 846.94,128.16 847.91,129.15 848.85,130.17 807,168 807,168 807,168 807,168 807,168" fill="#e14c35" />
<polygon points="837.82,134.08 838.64,134.85 839.45,135.63 840.23,136.44 841,137.27 807,168 807,168 807,168 807,168 807,168" fill="#d2332b" />
<polygon points="834.62,137.6 835.35,138.29 836.08,139 836.78,139.72 837.47,140.46 807,168 807,168 807,168 807,168 807,168" fill="#a00d25" />
<polygon points="860.2,119.06 861.88,120.96 863.5,122.91 865.05,124.93 866.53,126.99 807,168 807,168 807,168 807,168 807,168" fill="#fcb86b" />
<polygon points="861.33,118.01 863.06,119.95 864.71,121.95 866.29,124.01 867.8,126.11 807,168 807,168 807,168 807,168 807,168" fill="#f99255" />
<polygon points="848.86,129.49 850.19,130.98 851.46,132.52 852.68,134.1 853.84,135.73 807,168 807,168 807,168 807,168 807,168" fill="#e95d3c" />
<polygon points="840.17,137.49 841.22,138.67 842.22,139.89 843.19,141.15 844.11,142.43 807,168 807,168 807,168 807,168 807,168" fill="#d8382c" />
<polygon points="837.34,140.09 838.3,141.17 839.22,142.29 840.1,143.44 840.94,144.61 807,168 807,168 807,168 807,168 807,168" fill="#9b0b24" />
<polygon points="874.05,120.94 875.47,123.04 876.83,125.18 878.12,127.36 879.35,129.59 807,168 807,168 807,168 807,168 807,168" fill="#fdbb6d" />
<polygon points="866.03,126.57 867.28,128.42 868.48,130.3 869.62,132.23 870.69,134.18 807,168 807,168 807,168 807,168 807,168" fill="#fba660" />
<polygon points="856.5,133.26 857.55,134.81 858.55,136.39 859.51,138 860.41,139.64 807,168 807,168 807,168 807,168 807,168" fill="#e7593a" />
<polygon points="842.35,143.18 843.11,144.29 843.82,145.42 844.5,146.57 845.15,147.74 807,168 807,168 807,168 807,168 807,168" fill="#d7372c" />
<polygon points="833.67,149.28 834.24,150.12 834.78,150.97 835.29,151.84 835.78,152.72 807,168 807,168 807,168 807,168 807,168" fill="#ab1227" />
<polygon points="883.78,126.37 884.95,128.61 886.06,130.88 887.1,133.19 888.08,135.52 807,168 807,168 807,168 807,168 807,168" fill="#fed78a" />
<polygon points="870.52,133.56 871.49,135.41 872.4,137.29 873.27,139.2 874.07,141.13 807,168 807,168 807,168 807,168 807,168" fill="#fa9757" />
<polygon points="853.29,142.9 854,144.25 854.67,145.62 855.3,147.01 855.88,148.42 807,168 807,168 807,168 807,168 807,168" fill="#e04933" />
<polygon points="848.31,145.6 848.94,146.81 849.53,148.03 850.09,149.27 850.62,150.53 807,168 807,168 807,168 807,168 807,168" fill="#d4342c" />
<polygon points="837.86,151.27 838.33,152.17 838.78,153.08 839.2,154.01 839.59,154.95 807,168 807,168 807,168 807,168 807,168" fill="#aa1127" />
<polygon points="868.7,142.66 869.51,144.73 870.25,146.82 870.92,148.94 871.52,151.08 807,168 807,168 807,168 807,168 807,168" fill="#fdbb6d" />
<polygon points="872.7,141.01 873.57,143.22 874.36,145.45 875.07,147.71 875.71,149.99 807,168 807,168 807,168 807,168 807,168" fill="#f6874f" />
<polygon points="856.24,147.77 856.89,149.43 857.48,151.1 858.01,152.79 858.49,154.5 807,168 807,168 807,168 807,168 807,168" fill="#e7593a" />
<polygon points="849.97,150.35 850.53,151.79 851.05,153.25 851.52,154.73 851.94,156.22 807,168 807,168 807,168 807,168 807,168" fill="#d4342c" />
<polygon points="838.94,154.88 839.36,155.95 839.74,157.04 840.09,158.14 840.4,159.24 807,168 807,168 807,168 807,168 807,168" fill="#a40f25" />
<polygon points="871.1,150.6 871.5,152.15 871.86,153.71 872.19,155.28 872.48,156.86 807,168 807,168 807,168 807,168 807,168" fill="#fdc676" />
<polygon points="874.46,149.68 874.89,151.31 875.27,152.96 875.61,154.61 875.91,156.27 807,168 807,168 807,168 807,168 807,168" fill="#f5834e" />
<polygon points="858.3,154.07 858.62,155.31 858.91,156.56 859.17,157.82 859.41,159.08 807,168 807,168 807,168 807,168 807,168" fill="#dc402f" />
<polygon points="852.13,155.75 852.41,156.84 852.67,157.94 852.9,159.04 853.1,160.15 807,168 807,168 807,168 807,168 807,168" fill="#b81929" />
<polygon points="840.99,158.77 841.2,159.59 841.4,160.42 841.57,161.25 841.72,162.09 807,168 807,168 807,168 807,168 807,168" fill="#aa1126" />
<polygon points="879.21,155.06 879.74,158.52 880.11,162.01 880.31,165.51 880.35,169.01 807,168 807,168 807,168 807,168 807,168" fill="#fcb569" />
<polygon points="865,157.61 865.43,160.39 865.72,163.19 865.89,166 865.91,168.81 807,168 807,168 807,168 807,168 807,168" fill="#f78c52" />
<polygon points="857.04,159.03 857.41,161.43 857.67,163.85 857.81,166.27 857.83,168.7 807,168 807,168 807,168 807,168 807,168" fill="#df4632" />
<polygon points="849.95,160.3 850.27,162.36 850.49,164.44 850.61,166.52 850.63,168.6 807,168 807,168 807,168 807,168 807,168" fill="#c6272a" />
<polygon points="842.09,161.71 842.35,163.39 842.53,165.09 842.63,166.79 842.65,168.49 807,168 807,168 807,168 807,168 807,168" fill="#af1327" />
<ellipse cx="807" cy="168" rx="31" ry="30" fill="#9f0d24" />
</g>
<polygon points="701.25,113 705,111.12 715.31,110.19 716.25,106.44 729.38,107 748.12,120.88 755.62,115.81 769.69,126.12 784.69,143 778.12,150.5 773.44,158 744.38,165 745.31,187.5 755.62,202.5 742.5,210 731.25,218.44 725.62,221.25 710.62,214.12 710.62,189.38 712.5,168.75 711.56,158 702.19,155.19" fill="#f0784c" />
<polygon points="712.5,158 725.62,158 727.5,155.19 734.06,158 734.06,178.06 712.5,178.06" fill="#a3122a" />
<polygon points="712.5,165 730.31,165 730.31,181.88 725.62,182.81 725.62,193.12 720,193.12 720,188.44 712.5,187.5" fill="#a3122a" />
<polygon points="753.75,157.06 775.31,157.06 780,167.38 753.75,167.38" fill="#a3122a" />
<polygon points="729.38,182.81 740.62,183.75 740.62,191.25 729.38,191.25" fill="#c8282c" />
<polygon points="720,183.75 726.56,183.75 726.56,193.12 720,193.12" fill="#fed183" />
<polygon points="744.38,174.38 750.94,174.38 750.94,182.81 744.38,182.81" fill="#fed183" />
<polygon points="745.31,170.25 750,170.25 750,174.38 745.31,174.38" fill="#c8282c" />
<polygon points="745.31,158 752.81,158 752.81,167.38 745.31,167.38" fill="#fdc778" />
<polygon points="741.43,168.1 755.71,168.1 755.71,204.29 747.14,206.19 741.43,196.67" fill="#e24d35" />
<polygon points="752.86,170 777.62,168.1 780.48,185.24 777.62,196.67 768.1,202.38 758.57,200.48 752.86,189.05" fill="#a50f26" />
<polygon points="744.29,174.76 751.9,174.76 751.9,183.33 744.29,183.33" fill="#fdce7f" />
<polygon points="744.29,170 750.57,170 750.57,174.76 744.29,174.76" fill="#b21428" />
<polygon points="685.31,151.44 694.69,151.44 694.69,156.12 698.81,156.12 698.81,167.38 685.31,167.38" fill="#e8583a" />
<polygon points="704.06,156.12 712.5,156.12 712.5,167.38 704.06,167.38" fill="#fba862" />
<polygon points="750,214.69 758.44,219.38 757.5,230.62 742.5,243.75 727.5,263.44 721.88,258.75 720,251.25 720,236.25 731.25,223.12" fill="#6cc0a6" />
<polygon points="731.25,222.19 749.06,219.38 750,228.75 739.69,237.19 731.25,251.25 721.88,253.12 718.5,247.5 720.94,236.25" fill="#3c80c2" />
<polygon points="731.25,218.44 742.5,210 755.62,201.56 769.69,193.12 776.25,184.69 778.12,189.38 768.75,198.75 759.38,204.38 750,215.62 735,223.5 731.25,222.19" fill="#a3122a" />
<polygon points="729.38,106.44 737.81,99.88 745.31,102.69 755.62,114.88 748.12,120.88" fill="#4fa8b8" />
<polygon points="775.31,74.56 787.5,74.56 788.44,94.25 795.94,103.62 793.12,110.19 779.06,104 778.12,92.38" fill="#5db4ac" />
<polygon points="671.25,192.19 690,192.75 680.62,200.25" fill="#62b4aa" />
<polygon points="694.69,195.94 703.12,195.94 703.12,200.62 694.69,200.62" fill="#62b4aa" />
<polygon points="673.5,170.62 681.56,170.25 675.94,182.81" fill="#62b4aa" />
<polygon points="658.12,172.5 661.88,172.5 661.88,175.88 658.12,175.88" fill="#62b4aa" />
<polygon points="950,59 963.12,58.25 969.69,63.31 973.44,71.75 978.12,73.62 979.06,92.38 987.5,94.25 998.75,81.12 1003.44,83 1005.31,98 1008.12,113 1009.06,135.5 1008.5,150.5 996.88,158 983.75,155.19 978.12,152.38 973.44,158 968.75,169.25 963.12,178.06 961.25,165 961.25,180 953.75,180.94 952.81,165 950,158 931.25,160.81 921.88,158 920,150.5 905,148.62 890,149.56 876.88,146.75 882.5,135.5 893.75,128 905,116.75 914.38,103.62 905,101.75 910.62,96.12 935,87.69 931.25,80.19 920,78.31 931.25,71.75 942.5,60.5" fill="#6cc0a6" />
<polygon points="931.25,46.44 944.38,49.25 946.25,55.81 931.25,66.12 921.88,75.5 914.38,78.88 911.56,73.62 921.88,64.25 929.38,56.75" fill="#3c80c2" />
<ellipse cx="952" cy="149.5" rx="17" ry="8.5" fill="#4a8cc8" />
<polygon points="905,126.12 916.25,119.56 920.94,123.31 912.5,130.81 905.94,131.75" fill="#4a8cc8" />
<polygon points="984.69,139.25 995,137.38 994.06,148.62 983.75,150.5" fill="#4a8cc8" />
<polygon points="1003.44,116.75 1008.5,113 1008.5,131.75 1004.38,129.88" fill="#4a8cc8" />
<polygon points="806.56,211.88 815,210.94 814.06,221.25 818.75,236.25 821.56,247.5 834.69,253.12 840.31,273.75 824.38,274.69 811.25,270 813.12,247.5 805.62,236.25" fill="#6cbca8" />
<polygon points="845,226.88 856.25,220.31 863.75,230.62 852.5,237.19" fill="#6cbca8" />
<polygon points="849.69,180.94 863.75,187.5 860.94,194.06 848.75,187.5" fill="#6cbca8" />
<polygon points="877.81,200.62 886.25,199.69 885.31,207.19 878.75,207.19" fill="#58b0b0" />
<polygon points="861.88,172.5 867.5,172.5 867.5,180 861.88,180" fill="#6cbca8" />
<polygon points="920,203.44 938.75,202.5 935,213.75 929.38,221.25 920,219.38 923.75,211.88" fill="#6cbca8" />
<polygon points="864.69,202.5 870.31,201 888.12,219.38 887.19,225 882.5,224.06" fill="#f0784c" />
<polygon points="846.88,195 856.25,194.06 860,200.62 851.56,204.38 845.94,200.62" fill="#e8553a" />
<polygon points="882.5,230.62 890,229.69 895.62,236.25 895.62,243.75 888.12,241.88" fill="#f4885a" />
<polygon points="803.75,240 812.19,240 812.19,249.38 803.75,249.38" fill="#f4885a" />
<polygon points="774.38,221.25 789.38,219.38 790.31,234.38 775.31,235.31" fill="#f0784c" />
<polygon points="803.44,240 810,240 810,251.25 803.44,251.25" fill="#f4885a" />
<polygon points="999.69,180 1008.12,179.06 1008.12,184.69 999.69,185.62" fill="#f4885a" />
<polygon points="897.5,205.31 901.25,213.75 912.5,214.69 920,221.25 929.38,219.38 938.75,208.12 946.25,200.62 955.62,197.81 957.5,191.25 962.19,191.25 961.25,198.75 953.75,208.12 948.12,213.75 948.12,228.75 951.88,238.12 965,239.06 970.62,247.5 966.88,249.38 963.12,245.62 955.62,251.25 944.38,258.75 931.25,256.88 920,260.62 912.5,267.19 906.88,264.38 905,258.75 910.62,253.12 910.62,236.25 905,228.75 893.75,222.19 888.12,219.38 890,215.62 895.62,211.88" fill="#3c80c2" />
<rect x="896" y="275" width="113.5" height="26.5" fill="#e8eef2" fill-opacity="0.72"/>
<line x1="602.5" y1="60" x2="1009.25" y2="60" stroke="#b8b8a8" stroke-width="0.7" stroke-opacity="0.6"/>
<line x1="602.5" y1="132.25" x2="1009.25" y2="132.25" stroke="#b8b8a8" stroke-width="0.7" stroke-opacity="0.6"/>
<line x1="602.5" y1="205.5" x2="1009.25" y2="205.5" stroke="#b8b8a8" stroke-width="0.7" stroke-opacity="0.6"/>
<line x1="602.5" y1="275" x2="1009.25" y2="275" stroke="#b8b8a8" stroke-width="0.7" stroke-opacity="0.6"/>
<line x1="628.5" y1="40.5" x2="628.5" y2="301.25" stroke="#b8b8a8" stroke-width="0.7" stroke-opacity="0.6"/>
<line x1="709.75" y1="40.5" x2="709.75" y2="301.25" stroke="#b8b8a8" stroke-width="0.7" stroke-opacity="0.6"/>
<line x1="744.5" y1="40.5" x2="744.5" y2="301.25" stroke="#b8b8a8" stroke-width="0.7" stroke-opacity="0.6"/>
<line x1="789.5" y1="40.5" x2="789.5" y2="301.25" stroke="#b8b8a8" stroke-width="0.7" stroke-opacity="0.6"/>
<line x1="870.75" y1="40.5" x2="870.75" y2="301.25" stroke="#b8b8a8" stroke-width="0.7" stroke-opacity="0.6"/>
<line x1="978.25" y1="40.5" x2="978.25" y2="301.25" stroke="#b8b8a8" stroke-width="0.7" stroke-opacity="0.6"/>
<polyline points="603.75,41.75 633.75,42.12 661.88,64.25 697.5,83 712.5,96.12 731.25,107.38" fill="none" stroke="#8c8478" stroke-width="0.8" stroke-opacity="0.75" stroke-linejoin="round"/>
<polyline points="712.5,96.12 731.25,84.88 746.25,79.25 759.38,73.62 787.5,72.69 810,73.62" fill="none" stroke="#8c8478" stroke-width="0.8" stroke-opacity="0.75" stroke-linejoin="round"/>
<polyline points="705,41.75 706.88,56.75 714.38,71.75 723.75,81.12" fill="none" stroke="#8c8478" stroke-width="0.8" stroke-opacity="0.75" stroke-linejoin="round"/>
<polyline points="744.38,41.75 745.31,49.25 755.62,69.88 768.75,99.88 780,120.5 784.69,143" fill="none" stroke="#8c8478" stroke-width="0.8" stroke-opacity="0.75" stroke-linejoin="round"/>
<polyline points="712.5,71.75 731.25,54.88 746.25,48.31 787.5,41.75" fill="none" stroke="#8c8478" stroke-width="0.8" stroke-opacity="0.75" stroke-linejoin="round"/>
<polyline points="701.25,113 702.19,105.5 712.5,96.12" fill="none" stroke="#8c8478" stroke-width="0.8" stroke-opacity="0.75" stroke-linejoin="round"/>
<polyline points="603.75,143 618.75,146.75 633.75,150.5 660,150.5 675,159.88 684.38,167.38" fill="none" stroke="#8c8478" stroke-width="0.8" stroke-opacity="0.75" stroke-linejoin="round"/>
<polyline points="603.75,159.88 622.5,165.5 661.88,167.38 701.25,167.38 705,178.06" fill="none" stroke="#8c8478" stroke-width="0.8" stroke-opacity="0.75" stroke-linejoin="round"/>
<polyline points="690,84.88 680.62,94.25 678.75,101.75 688.12,113 693.75,122.38 690,135.5 680.62,143 675,150.5 675,167.38" fill="none" stroke="#8c8478" stroke-width="0.8" stroke-opacity="0.75" stroke-linejoin="round"/>
<polyline points="701.25,165 708.75,183.75 710.62,202.5 705,225 697.5,240 690,253.12 671.25,270 660,285 656.25,304.69" fill="none" stroke="#8c8478" stroke-width="0.8" stroke-opacity="0.75" stroke-linejoin="round"/>
<polyline points="603.75,241.88 615,228.75 628.12,221.25 622.5,234.38 637.5,236.25 645,247.5 660,240 675,243.75 690,256.88 705,253.12 720,266.25 742.5,273.75 761.25,280.31 810,277.5" fill="none" stroke="#8c8478" stroke-width="0.8" stroke-opacity="0.75" stroke-linejoin="round"/>
<polyline points="603.75,279.38 652.5,278.44 675,258.75 701.25,241.88 731.25,219.38" fill="none" stroke="#8c8478" stroke-width="0.8" stroke-opacity="0.75" stroke-linejoin="round"/>
<polyline points="669.38,300 680.62,285 688.12,275.62 712.5,270 718.12,262.5" fill="none" stroke="#8c8478" stroke-width="0.8" stroke-opacity="0.75" stroke-linejoin="round"/>
<polyline points="793.12,198.75 787.5,226.88 776.25,251.25 763.12,270 759.38,285 757.5,304.69" fill="none" stroke="#8c8478" stroke-width="0.8" stroke-opacity="0.75" stroke-linejoin="round"/>
<polyline points="800,72.69 828.12,78.31 856.25,83.94 897.5,83.94 920,78.31 953.75,58.62 987.5,41.75" fill="none" stroke="#8c8478" stroke-width="0.8" stroke-opacity="0.75" stroke-linejoin="round"/>
<polyline points="839.38,41.75 828.12,78.31 815,120.5 807.5,131.75" fill="none" stroke="#8c8478" stroke-width="0.8" stroke-opacity="0.75" stroke-linejoin="round"/>
<polyline points="800,109.25 815,113 837.5,116.75 856.25,126.12 871.25,150.5" fill="none" stroke="#8c8478" stroke-width="0.8" stroke-opacity="0.75" stroke-linejoin="round"/>
<polyline points="972.5,49.25 980,66.12 998.75,75.5 1004.38,86.75 1006.25,116.75" fill="none" stroke="#8c8478" stroke-width="0.8" stroke-opacity="0.75" stroke-linejoin="round"/>
<polyline points="837.5,143 875,116.75 905,92.38 920,78.31" fill="none" stroke="#8c8478" stroke-width="0.8" stroke-opacity="0.75" stroke-linejoin="round"/>
<polyline points="800,189.38 822.5,185.62 841.25,191.25 861.88,198.75 884.38,200.62 920,204.38 965,187.5 1010,168.75" fill="none" stroke="#8c8478" stroke-width="0.8" stroke-opacity="0.75" stroke-linejoin="round"/>
<polyline points="833.75,185.62 845,195 861.88,202.5 878.75,226.88 893.75,273.75 897.5,304.69" fill="none" stroke="#8c8478" stroke-width="0.8" stroke-opacity="0.75" stroke-linejoin="round"/>
<polyline points="800,277.5 837.5,278.44 875,277.5 905,270 920,260.62 961.25,251.25 976.25,236.25 993.12,174.38" fill="none" stroke="#8c8478" stroke-width="0.8" stroke-opacity="0.75" stroke-linejoin="round"/>
<polyline points="818.75,238.12 837.5,228.75 861.88,221.25 871.25,210" fill="none" stroke="#8c8478" stroke-width="0.8" stroke-opacity="0.75" stroke-linejoin="round"/>
<polyline points="968.75,232.5 987.5,236.25 1010,253.12" fill="none" stroke="#8c8478" stroke-width="0.8" stroke-opacity="0.75" stroke-linejoin="round"/>
<ellipse cx="808" cy="168" rx="33" ry="30" fill="none" stroke="#7a5a60" stroke-width="0.8" stroke-opacity="0.7"/>
<text x="735.5" y="136.5" font-size="10.6" text-anchor="middle" font-family='"DejaVu Sans", "Liberation Sans", sans-serif' fill="#222" textLength="48.5" lengthAdjust="spacingAndGlyphs" stroke="#fff" stroke-width="1.6" stroke-opacity="0.75" paint-order="stroke" stroke-linejoin="round">Industrial</text>
<text x="735.5" y="148.8" font-size="10.6" text-anchor="middle" font-family='"DejaVu Sans", "Liberation Sans", sans-serif' fill="#222" textLength="26" lengthAdjust="spacingAndGlyphs" stroke="#fff" stroke-width="1.6" stroke-opacity="0.75" paint-order="stroke" stroke-linejoin="round">Zone</text>
<text x="861.5" y="94.8" font-size="10.6" text-anchor="middle" font-family='"DejaVu Sans", "Liberation Sans", sans-serif' fill="#222" textLength="52" lengthAdjust="spacingAndGlyphs" stroke="#fff" stroke-width="1.6" stroke-opacity="0.75" paint-order="stroke" stroke-linejoin="round">University</text>
<text x="861.5" y="107.1" font-size="10.6" text-anchor="middle" font-family='"DejaVu Sans", "Liberation Sans", sans-serif' fill="#222" textLength="78.5" lengthAdjust="spacingAndGlyphs" stroke="#fff" stroke-width="1.6" stroke-opacity="0.75" paint-order="stroke" stroke-linejoin="round">Neighborhoods</text>
<text x="954" y="119" font-size="10.6" text-anchor="middle" font-family='"DejaVu Sans", "Liberation Sans", sans-serif' fill="#222" textLength="31.5" lengthAdjust="spacingAndGlyphs" stroke="#fff" stroke-width="1.6" stroke-opacity="0.75" paint-order="stroke" stroke-linejoin="round">Forest</text>
<text x="954" y="131.3" font-size="10.6" text-anchor="middle" font-family='"DejaVu Sans", "Liberation Sans", sans-serif' fill="#222" textLength="22" lengthAdjust="spacingAndGlyphs" stroke="#fff" stroke-width="1.6" stroke-opacity="0.75" paint-order="stroke" stroke-linejoin="round">Park</text>
<text x="916.5" y="172" font-size="10.6" text-anchor="middle" font-family='"DejaVu Sans", "Liberation Sans", sans-serif' fill="#222" textLength="57" lengthAdjust="spacingAndGlyphs" stroke="#fff" stroke-width="1.6" stroke-opacity="0.75" paint-order="stroke" stroke-linejoin="round">Residential</text>
<text x="916.5" y="184.3" font-size="10.6" text-anchor="middle" font-family='"DejaVu Sans", "Liberation Sans", sans-serif' fill="#222" textLength="78.5" lengthAdjust="spacingAndGlyphs" stroke="#fff" stroke-width="1.6" stroke-opacity="0.75" paint-order="stroke" stroke-linejoin="round">Neighborhoods</text>
<text x="863" y="245" font-size="10.6" text-anchor="middle" font-family='"DejaVu Sans", "Liberation Sans", sans-serif' fill="#222" textLength="52" lengthAdjust="spacingAndGlyphs" stroke="#fff" stroke-width="1.6" stroke-opacity="0.75" paint-order="stroke" stroke-linejoin="round">University</text>
<text x="863" y="257.3" font-size="10.6" text-anchor="middle" font-family='"DejaVu Sans", "Liberation Sans", sans-serif' fill="#222" textLength="42" lengthAdjust="spacingAndGlyphs" stroke="#fff" stroke-width="1.6" stroke-opacity="0.75" paint-order="stroke" stroke-linejoin="round">Campus</text>
<text x="929.5" y="234.5" font-size="10.6" text-anchor="middle" font-family='"DejaVu Sans", "Liberation Sans", sans-serif' fill="#222" textLength="24" lengthAdjust="spacingAndGlyphs" stroke="#fff" stroke-width="1.6" stroke-opacity="0.75" paint-order="stroke" stroke-linejoin="round">Lake</text>
<text x="929.5" y="246.8" font-size="10.6" text-anchor="middle" font-family='"DejaVu Sans", "Liberation Sans", sans-serif' fill="#222" textLength="24" lengthAdjust="spacingAndGlyphs" stroke="#fff" stroke-width="1.6" stroke-opacity="0.75" paint-order="stroke" stroke-linejoin="round">Area</text>
<text x="802" y="263.5" font-size="10.6" text-anchor="middle" font-family='"DejaVu Sans", "Liberation Sans", sans-serif' fill="#222" textLength="53" lengthAdjust="spacingAndGlyphs" stroke="#fff" stroke-width="1.6" stroke-opacity="0.75" paint-order="stroke" stroke-linejoin="round">Residential</text>
<text x="802" y="275" font-size="10.6" text-anchor="middle" font-family='"DejaVu Sans", "Liberation Sans", sans-serif' fill="#222" textLength="65" lengthAdjust="spacingAndGlyphs" stroke="#fff" stroke-width="1.6" stroke-opacity="0.75" paint-order="stroke" stroke-linejoin="round">Comm sceas</text>
<text x="808" y="159" font-size="10.8" text-anchor="middle" font-family='"DejaVu Sans", "Liberation Sans", sans-serif' fill="#f0e8e8" stroke="#5a1018" stroke-width="1.3" stroke-opacity="0.7" paint-order="stroke" stroke-linejoin="round">Central</text>
<text x="808" y="171.3" font-size="10.8" text-anchor="middle" font-family='"DejaVu Sans", "Liberation Sans", sans-serif' fill="#f0e8e8" stroke="#5a1018" stroke-width="1.3" stroke-opacity="0.7" paint-order="stroke" stroke-linejoin="round">Business</text>
<text x="808" y="183.6" font-size="10.8" text-anchor="middle" font-family='"DejaVu Sans", "Liberation Sans", sans-serif' fill="#f0e8e8" stroke="#5a1018" stroke-width="1.3" stroke-opacity="0.7" paint-order="stroke" stroke-linejoin="round">District</text>
<text x="1006.3" y="283.6" font-size="7" text-anchor="end" font-family='"DejaVu Sans", "Liberation Sans", sans-serif' fill="#222" textLength="86" lengthAdjust="spacingAndGlyphs">Measured LST (= 0.81°C)</text>
<text x="1003.8" y="291.1" font-size="7" text-anchor="end" font-family='"DejaVu Sans", "Liberation Sans", sans-serif' fill="#222" textLength="97" lengthAdjust="spacingAndGlyphs">Measured LST difference vs.</text>
<text x="1006.3" y="298.6" font-size="7" text-anchor="end" font-family='"DejaVu Sans", "Liberation Sans", sans-serif' fill="#222" textLength="97.5" lengthAdjust="spacingAndGlyphs">reference rural area (110°C)</text>
</g>
<rect x="602.5" y="40.5" width="406.75" height="260.75" fill="none" stroke="#3a4a50" stroke-width="1"/>
<line x1="599" y1="60" x2="602.5" y2="60" stroke="#222" stroke-width="0.9" />
<text x="596.5" y="63.5" font-size="9.3" text-anchor="end" font-family='"DejaVu Sans", "Liberation Sans", sans-serif' fill="#111">15</text>
<line x1="599" y1="132.25" x2="602.5" y2="132.25" stroke="#222" stroke-width="0.9" />
<text x="596.5" y="135.75" font-size="9.3" text-anchor="end" font-family='"DejaVu Sans", "Liberation Sans", sans-serif' fill="#111">10</text>
<line x1="599" y1="205.5" x2="602.5" y2="205.5" stroke="#222" stroke-width="0.9" />
<text x="596.5" y="209" font-size="9.3" text-anchor="end" font-family='"DejaVu Sans", "Liberation Sans", sans-serif' fill="#111">5</text>
<line x1="599" y1="275" x2="602.5" y2="275" stroke="#222" stroke-width="0.9" />
<text x="596.5" y="278.5" font-size="9.3" text-anchor="end" font-family='"DejaVu Sans", "Liberation Sans", sans-serif' fill="#111">0</text>
<line x1="602.5" y1="301.25" x2="602.5" y2="304.25" stroke="#222" stroke-width="0.9" />
<line x1="656.25" y1="301.25" x2="656.25" y2="304.25" stroke="#222" stroke-width="0.9" />
<line x1="709.75" y1="301.25" x2="709.75" y2="304.25" stroke="#222" stroke-width="0.9" />
<line x1="763.5" y1="301.25" x2="763.5" y2="304.25" stroke="#222" stroke-width="0.9" />
<line x1="817" y1="301.25" x2="817" y2="304.25" stroke="#222" stroke-width="0.9" />
<line x1="870.75" y1="301.25" x2="870.75" y2="304.25" stroke="#222" stroke-width="0.9" />
<line x1="924.5" y1="301.25" x2="924.5" y2="304.25" stroke="#222" stroke-width="0.9" />
<line x1="978.25" y1="301.25" x2="978.25" y2="304.25" stroke="#222" stroke-width="0.9" />
<text x="582.5" y="172" font-size="9.8" text-anchor="middle" font-family='"DejaVu Sans", "Liberation Sans", sans-serif' fill="#111" textLength="66" lengthAdjust="spacingAndGlyphs" transform="rotate(-90 582.5 172)">Northing (km)</text>
<rect x="1034.5" y="40.5" width="16.75" height="260.75" fill="url(#cbar)" stroke="#2a2a2a" stroke-width="0.8"/>
<line x1="1051.25" y1="51.75" x2="1055" y2="51.75" stroke="#222" stroke-width="0.9" />
<text x="1057.5" y="55.95" font-size="11" font-family='"DejaVu Sans", "Liberation Sans", sans-serif' fill="#111">12</text>
<line x1="1051.25" y1="94" x2="1055" y2="94" stroke="#222" stroke-width="0.9" />
<text x="1057.5" y="98.2" font-size="11" font-family='"DejaVu Sans", "Liberation Sans", sans-serif' fill="#111">10</text>
<line x1="1051.25" y1="135.75" x2="1055" y2="135.75" stroke="#222" stroke-width="0.9" />
<text x="1057.5" y="139.95" font-size="11" font-family='"DejaVu Sans", "Liberation Sans", sans-serif' fill="#111">8</text>
<line x1="1051.25" y1="177.25" x2="1055" y2="177.25" stroke="#222" stroke-width="0.9" />
<text x="1057.5" y="181.45" font-size="11" font-family='"DejaVu Sans", "Liberation Sans", sans-serif' fill="#111">6</text>
<line x1="1051.25" y1="218.75" x2="1055" y2="218.75" stroke="#222" stroke-width="0.9" />
<text x="1057.5" y="222.95" font-size="11" font-family='"DejaVu Sans", "Liberation Sans", sans-serif' fill="#111">4</text>
<line x1="1051.25" y1="260.25" x2="1055" y2="260.25" stroke="#222" stroke-width="0.9" />
<text x="1057.5" y="264.45" font-size="11" font-family='"DejaVu Sans", "Liberation Sans", sans-serif' fill="#111">2</text>
<line x1="1051.25" y1="301.25" x2="1055" y2="301.25" stroke="#222" stroke-width="0.9" />
<text x="1057.5" y="305.45" font-size="11" font-family='"DejaVu Sans", "Liberation Sans", sans-serif' fill="#111">0</text>
<text x="1082" y="172" font-size="10.4" text-anchor="middle" font-family='"DejaVu Sans", "Liberation Sans", sans-serif' fill="#111" textLength="93" lengthAdjust="spacingAndGlyphs" transform="rotate(-90 1082 172)">UHI Intensity (°C)</text>
<g clip-path="url(#lclip)">
<rect x="602.5" y="306.25" width="406.75" height="78.25" fill="#0c7c0c"/>
<polygon points="694.21,305.89 688.32,308.25 698.14,311.79 702.07,317.68 700.11,325.54 680.46,329.46 673.59,335.36 654.93,335.36 654.93,338.3 666.71,340.27 667.7,345.18 682.43,344.79 674.57,353.04 674.57,358.93 688.32,356.96 684.39,361.29 672.61,361.29 668.68,367.77 652.96,372.68 653.95,377 678.5,377.59 678.5,368.75 694.21,367.77 706,372.68 717.79,373.07 721.71,378.57 719.75,384.86 911.89,384.86 907.96,377.59 888.32,372.68 888.32,368.75 898.14,362.86 902.07,366.79 913.86,368.75 925.64,368.75 921.71,362.86 942.34,360.89 947.25,355.98 953.14,354.02 953.14,344.79 945.29,348.12 933.5,347.14 920.73,344.2 920.73,333.79 913.86,332.41 883.41,335.36 880.46,331.43 894.21,323.57 906,315.71 913.86,311.79 909.93,305.89" fill="#ffff00" />
<polygon points="602.88,329.86 609.75,329.46 611.71,332.41 609.75,334.96 603.86,333.79" fill="#ffff00" />
<polygon points="623.5,336.34 628.41,336.34 628.41,342.23 635.29,346.16 632.34,349.5 625.46,347.14 620.55,345.18 622.52,341.25" fill="#ffff00" />
<polygon points="650.02,347.14 654.93,345.57 663.77,347.14 663.77,351.07 652.96,351.07" fill="#ffff00" />
<polygon points="658.86,324.36 665.73,323.96 665.73,326.32 658.86,326.52" fill="#ffff00" />
<polygon points="673.59,324.75 681.45,324.55 681.45,326.12 673.59,326.12" fill="#ffff00" />
<polygon points="607.79,307.46 615.64,307.07 616.62,308.64 609.75,309.04" fill="#ffff00" />
<polygon points="609.75,373.66 625.46,369.14 627.43,371.7 619.57,376.61 610.73,377" fill="#ffff00" />
<polygon points="621.54,378.18 632.34,377.79 634.3,380.54 623.5,381.71" fill="#ffff00" />
<polygon points="646.09,366.79 652.96,366.79 655.91,369.14 647.07,369.93" fill="#ffff00" />
<polygon points="646.09,380.14 652.96,378.57 653.36,382.5 647.07,384.07" fill="#ffff00" />
<polygon points="962.96,344.2 968.86,342.82 974.75,345.57 973.77,349.11 964.93,350.29 961.98,347.14" fill="#ffff00" />
<polygon points="996.36,331.82 1009.12,329.86 1009.12,335.36 997.34,335.36" fill="#ffff00" />
<polygon points="999.3,347.14 1009.12,344.79 1009.12,350.09 1001.27,349.5" fill="#ffff00" />
<polygon points="710.91,340.27 733.5,340.27 735.46,343.61 768.86,343.61 776.71,331.43 778.68,329.46 790.46,324.55 794.39,329.46 816,323.57 816,360.89 810.11,361.29 804.21,366.79 792.43,367.77 790.46,373.07 782.61,373.07 778.68,368.75 772.79,368.75 766.89,364.82 759.04,370.71 753.14,367.77 745.29,364.82 729.57,367.18 711.89,364.82" fill="#ff0000" />
<polygon points="757.07,306.48 778.68,306.48 778.68,311.79 790.46,313.75 784.57,315.71 772.79,319.64 764.93,314.73 759.04,309.82" fill="#ff0000" />
<polygon points="703.05,315.32 713.86,308.84 716.8,313.75 706,317.29" fill="#ff0000" />
<ellipse cx="817.6" cy="339.5" rx="24.5" ry="20" fill="#ff0000" />
<polygon points="796,314.73 815.64,310.8 825.46,309.82 838.23,311.39 827.43,316.7 835.29,321.61 890.29,306.29 874.57,306.29 841.18,319.64 843.14,329.46 819.57,321.61 796,321.61" fill="#ff0000" />
<polygon points="835.29,321.61 890.29,306.29 894.21,308.84 843.14,331.43" fill="#ff0000" />
<polygon points="849.04,318.07 858.86,308.84 865.14,307.86 853.95,319.64" fill="#ff0000" />
<polygon points="839.21,333 870.64,330.45 880.46,336.34 860.82,339.29 841.18,346.16" fill="#ff0000" />
<polygon points="862.79,346.16 871.62,347.14 871.62,352.25 862.79,351.07" fill="#ff0000" />
<polygon points="845.11,355.39 860.82,358.93 860.82,362.07 845.11,358.93" fill="#ff0000" />
<polygon points="864.75,361.88 888.32,369.73 887.34,373.86 864.75,363.25" fill="#ff0000" />
<polygon points="796,355 807.79,356.96 809.75,364.82 796,369.14" fill="#ff0000" />
<polygon points="796,319.64 841.18,319.64 843.14,356.96 819.57,360.89 796,358.93" fill="#ff0000" />
<polygon points="775.71,320.57 792.86,315.57 814.29,314.14 820,310.57 831.43,312 825.71,317.71 840,320.57 840,330.57 780,330.57 782.86,326.29" fill="#ff0000" />
<polygon points="718.77,351.46 726.04,351.46 726.04,356.96 718.77,356.96" fill="#ffff00" />
<polygon points="744.7,347.14 752.16,347.14 752.16,351.46 744.7,351.46" fill="#ffff00" />
<polygon points="755.5,356.57 759.43,355.98 760.21,361.29 756.09,361.88" fill="#ffff00" />
<polygon points="785.55,326.52 790.46,325.14 794,329.46 787.52,330.64" fill="#ffff00" />
<polygon points="745.29,344.2 751.18,344.2 751.18,346.16 745.29,346.16" fill="#ffff00" />
<polygon points="840.2,352.05 851,347.14 860.82,349.11 860.82,354.02 845.11,355.98" fill="#ffff00" />
<polygon points="701.09,318.66 706,314.73 731.54,313.75 737.43,309.82 745.29,311.79 780.64,331.43 772.79,343.61 735.46,343.61 733.5,339.29 701.09,339.29" fill="#800080" />
<polygon points="685.38,335.36 701.09,335.36 701.09,343.61 685.38,343.61" fill="#800080" />
<polygon points="719.75,378.57 725.64,373.66 751.18,367.77 758.05,371.7 749.21,376.61 739.39,378.57 735.46,384.86 721.71,384.86" fill="#800080" />
<polygon points="778.68,305.89 786.54,305.89 786.54,312.57 778.68,312.18" fill="#546a66" />
<polygon points="694.21,306.48 706.98,306.48 704.04,309.82 696.18,309.43" fill="#b4b41c" />
<polygon points="806.18,367.77 812.07,364.82 816.98,365.8 816.98,378.57 808.14,377" fill="#0c7c0c" />
<polygon points="695.2,358.14 703.05,358.14 703.05,360.11 695.2,360.11" fill="#0c7c0c" />
<polygon points="806.8,367.77 814.66,366.39 815.64,373.66 819.18,378.57 812.7,380.93 805.82,377" fill="#0c7c0c" />
<polygon points="850.02,374.25 858.86,370.32 865.14,376.21 855.91,379.55" fill="#0c7c0c" />
<polygon points="849.43,352.64 854.93,350.68 862.79,353.43 859.84,357.36 851,355.98" fill="#0c7c0c" />
<polygon points="873.59,360.5 886.36,359.91 882.43,363.84" fill="#0c7c0c" />
<polygon points="882.43,377 889.89,376.61 891.27,381.52 885.38,382.11" fill="#ff9000" />
<polygon points="834.3,365.8 840.2,366.79 840.79,369.14 835.29,368.75" fill="#ffb400" />
<polygon points="888.32,368.75 898.14,362.86 902.07,366.79 913.86,368.75 921.71,369.14 949.21,361.29 959.04,355.98 961.39,358.93 949.21,366.79 948.23,377 970.82,380.54 970.82,384.86 911.89,384.86 907.96,377.59 888.32,372.68" fill="#1464c8" />
<line x1="602.5" y1="316.75" x2="1009.25" y2="316.75" stroke="#c8c8a0" stroke-width="0.6" stroke-opacity="0.55"/>
<line x1="602.5" y1="339.5" x2="1009.25" y2="339.5" stroke="#c8c8a0" stroke-width="0.6" stroke-opacity="0.55"/>
<line x1="602.5" y1="361.75" x2="1009.25" y2="361.75" stroke="#c8c8a0" stroke-width="0.6" stroke-opacity="0.55"/>
<line x1="628.5" y1="306.25" x2="628.5" y2="384.5" stroke="#c8c8a0" stroke-width="0.6" stroke-opacity="0.55"/>
<line x1="656.25" y1="306.25" x2="656.25" y2="384.5" stroke="#c8c8a0" stroke-width="0.6" stroke-opacity="0.55"/>
<line x1="709.75" y1="306.25" x2="709.75" y2="384.5" stroke="#c8c8a0" stroke-width="0.6" stroke-opacity="0.55"/>
<line x1="744.5" y1="306.25" x2="744.5" y2="384.5" stroke="#c8c8a0" stroke-width="0.6" stroke-opacity="0.55"/>
<line x1="763.5" y1="306.25" x2="763.5" y2="384.5" stroke="#c8c8a0" stroke-width="0.6" stroke-opacity="0.55"/>
<line x1="817" y1="306.25" x2="817" y2="384.5" stroke="#c8c8a0" stroke-width="0.6" stroke-opacity="0.55"/>
<line x1="870.75" y1="306.25" x2="870.75" y2="384.5" stroke="#c8c8a0" stroke-width="0.6" stroke-opacity="0.55"/>
<line x1="924.5" y1="306.25" x2="924.5" y2="384.5" stroke="#c8c8a0" stroke-width="0.6" stroke-opacity="0.55"/>
<line x1="978.25" y1="306.25" x2="978.25" y2="384.5" stroke="#c8c8a0" stroke-width="0.6" stroke-opacity="0.55"/>
<polyline points="602.48,339.29 619.57,342.23 660.82,344.2 686.36,342.23" fill="none" stroke="#8a8070" stroke-width="0.7" stroke-opacity="0.7"/>
<polyline points="602.48,382.5 619.57,374.64" fill="none" stroke="#8a8070" stroke-width="0.7" stroke-opacity="0.7"/>
<polyline points="713.86,306.88 745.29,319.64 772.79,333.39" fill="none" stroke="#8a8070" stroke-width="0.7" stroke-opacity="0.7"/>
<polyline points="676.54,384.07 700.11,374.64 710.91,364.82" fill="none" stroke="#8a8070" stroke-width="0.7" stroke-opacity="0.7"/>
<polyline points="776.71,384.07 790.46,358.93 800.29,355 808.14,356.96" fill="none" stroke="#8a8070" stroke-width="0.7" stroke-opacity="0.7"/>
<polyline points="860.82,344.2 921.71,351.07 953.14,352.64 992.43,347.14 1009.12,339.29" fill="none" stroke="#8a8070" stroke-width="0.7" stroke-opacity="0.7"/>
<polyline points="978.68,384.07 980.64,374.64 992.43,347.14 996.36,335.36" fill="none" stroke="#8a8070" stroke-width="0.7" stroke-opacity="0.7"/>
<polyline points="815.64,326.52 835.29,306.88" fill="none" stroke="#8a8070" stroke-width="0.7" stroke-opacity="0.7"/>
<ellipse cx="817.6" cy="339.5" rx="24.5" ry="15" fill="none" stroke="#c03030" stroke-width="0.7" stroke-opacity="0.8"/>
</g>
<rect x="602.5" y="306.25" width="406.75" height="78.25" fill="none" stroke="#223" stroke-width="1"/>
<line x1="599" y1="316.75" x2="602.5" y2="316.75" stroke="#222" stroke-width="0.9" />
<text x="596.5" y="320.25" font-size="9.3" text-anchor="end" font-family='"DejaVu Sans", "Liberation Sans", sans-serif' fill="#111">15</text>
<line x1="599" y1="339.5" x2="602.5" y2="339.5" stroke="#222" stroke-width="0.9" />
<text x="596.5" y="343" font-size="9.3" text-anchor="end" font-family='"DejaVu Sans", "Liberation Sans", sans-serif' fill="#111">10</text>
<line x1="599" y1="361.75" x2="602.5" y2="361.75" stroke="#222" stroke-width="0.9" />
<text x="596.5" y="365.25" font-size="9.3" text-anchor="end" font-family='"DejaVu Sans", "Liberation Sans", sans-serif' fill="#111">5</text>
<line x1="599" y1="384.5" x2="602.5" y2="384.5" stroke="#222" stroke-width="0.9" />
<text x="596.5" y="388" font-size="9.3" text-anchor="end" font-family='"DejaVu Sans", "Liberation Sans", sans-serif' fill="#111">0</text>
<line x1="602.5" y1="384.5" x2="602.5" y2="388" stroke="#222" stroke-width="0.9" />
<text x="602.5" y="397" font-size="9.3" text-anchor="middle" font-family='"DejaVu Sans", "Liberation Sans", sans-serif' fill="#111">0</text>
<line x1="656.25" y1="384.5" x2="656.25" y2="388" stroke="#222" stroke-width="0.9" />
<text x="656.25" y="397" font-size="9.3" text-anchor="middle" font-family='"DejaVu Sans", "Liberation Sans", sans-serif' fill="#111">2</text>
<line x1="709.75" y1="384.5" x2="709.75" y2="388" stroke="#222" stroke-width="0.9" />
<text x="709.75" y="397" font-size="9.3" text-anchor="middle" font-family='"DejaVu Sans", "Liberation Sans", sans-serif' fill="#111">4</text>
<line x1="763.5" y1="384.5" x2="763.5" y2="388" stroke="#222" stroke-width="0.9" />
<text x="763.5" y="397" font-size="9.3" text-anchor="middle" font-family='"DejaVu Sans", "Liberation Sans", sans-serif' fill="#111">6</text>
<line x1="817" y1="384.5" x2="817" y2="388" stroke="#222" stroke-width="0.9" />
<text x="817" y="397" font-size="9.3" text-anchor="middle" font-family='"DejaVu Sans", "Liberation Sans", sans-serif' fill="#111">8</text>
<line x1="870.75" y1="384.5" x2="870.75" y2="388" stroke="#222" stroke-width="0.9" />
<text x="870.75" y="397" font-size="9.3" text-anchor="middle" font-family='"DejaVu Sans", "Liberation Sans", sans-serif' fill="#111">10</text>
<line x1="924.5" y1="384.5" x2="924.5" y2="388" stroke="#222" stroke-width="0.9" />
<text x="924.5" y="397" font-size="9.3" text-anchor="middle" font-family='"DejaVu Sans", "Liberation Sans", sans-serif' fill="#111">12</text>
<line x1="978.25" y1="384.5" x2="978.25" y2="388" stroke="#222" stroke-width="0.9" />
<text x="978.25" y="397" font-size="9.3" text-anchor="middle" font-family='"DejaVu Sans", "Liberation Sans", sans-serif' fill="#111">14</text>
<text x="582.5" y="345.5" font-size="9.8" text-anchor="middle" font-family='"DejaVu Sans", "Liberation Sans", sans-serif' fill="#111" textLength="66" lengthAdjust="spacingAndGlyphs" transform="rotate(-90 582.5 345.5)">Northing (km)</text>
<text x="806" y="408.3" font-size="9.8" text-anchor="middle" font-family='"DejaVu Sans", "Liberation Sans", sans-serif' fill="#111" textLength="59.5" lengthAdjust="spacingAndGlyphs">Easting (km)</text>
<text x="1018.5" y="323" font-size="10.6" font-family='"DejaVu Sans", "Liberation Sans", sans-serif' fill="#111" textLength="84.5" lengthAdjust="spacingAndGlyphs">Land Cover Types</text>
<text x="1018.5" y="335" font-size="9" font-family='"DejaVu Sans", "Liberation Sans", sans-serif' fill="#111" textLength="50.5" lengthAdjust="spacingAndGlyphs">Categorical:</text>
<rect x="1019" y="339.7" width="16" height="6.3" fill="#ff0000" stroke="#333" stroke-width="0.6"/>
<text x="1040.5" y="346" font-size="8.4" font-family='"DejaVu Sans", "Liberation Sans", sans-serif' fill="#111" textLength="51.5" lengthAdjust="spacingAndGlyphs">Dense Urban</text>
<rect x="1019" y="351.25" width="16" height="6.3" fill="#800080" stroke="#333" stroke-width="0.6"/>
<text x="1040.5" y="357.55" font-size="8.4" font-family='"DejaVu Sans", "Liberation Sans", sans-serif' fill="#111" textLength="37.5" lengthAdjust="spacingAndGlyphs">Industrial</text>
<rect x="1019" y="362.8" width="16" height="6.3" fill="#ffff00" stroke="#333" stroke-width="0.6"/>
<text x="1040.5" y="369.1" font-size="8.4" font-family='"DejaVu Sans", "Liberation Sans", sans-serif' fill="#111" textLength="44" lengthAdjust="spacingAndGlyphs">Residential</text>
<rect x="1019" y="374.35" width="16" height="6.3" fill="#0c7c0c" stroke="#333" stroke-width="0.6"/>
<text x="1040.5" y="380.65" font-size="8.4" font-family='"DejaVu Sans", "Liberation Sans", sans-serif' fill="#111" textLength="48.5" lengthAdjust="spacingAndGlyphs">Parks/Forest</text>
<rect x="1019" y="385.9" width="16" height="6.3" fill="#1464c8" stroke="#333" stroke-width="0.6"/>
<text x="1040.5" y="392.2" font-size="8.4" font-family='"DejaVu Sans", "Liberation Sans", sans-serif' fill="#111" textLength="23.5" lengthAdjust="spacingAndGlyphs">Water</text>
</g>
<g id="bars">
<text x="22.5" y="445.3" font-size="17" font-family='"Liberation Serif", serif' font-weight="bold" fill="#111" textLength="47.5" lengthAdjust="spacingAndGlyphs">nature</text>
<text x="539.5" y="446" font-size="10.5" text-anchor="end" font-family='"Liberation Serif", serif' fill="#222" textLength="158.5" lengthAdjust="spacingAndGlyphs">Nature, Vol. 603, pp. 123–128, 2024</text>
<line x1="22" y1="450" x2="540" y2="450" stroke="#8a8a8a" stroke-width="1" />
<text x="122.5" y="478.3" font-size="13.5" font-family='"Liberation Sans", sans-serif' font-weight="bold" fill="#111" textLength="335.5" lengthAdjust="spacingAndGlyphs">Effect of Compound X on Target Protein Expression</text>
<rect x="101.25" y="588.75" width="50" height="148.25" fill="#9b9b9b" stroke="#3a3a3a" stroke-width="1"/>
<rect x="163" y="555.75" width="50" height="181.25" fill="#8ab9e8" stroke="#3a3a3a" stroke-width="1"/>
<rect x="224.5" y="526.25" width="50.5" height="210.75" fill="#0c63b1" stroke="#3a3a3a" stroke-width="1"/>
<rect x="322" y="622.5" width="50.75" height="114.5" fill="#d4d4d4" stroke="#3a3a3a" stroke-width="1"/>
<rect x="384.5" y="603.25" width="51" height="133.75" fill="#fc8b8b" stroke="#3a3a3a" stroke-width="1"/>
<rect x="448" y="580" width="53" height="157" fill="#a80204" stroke="#3a3a3a" stroke-width="1"/>
<line x1="126.25" y1="579" x2="126.25" y2="598.5" stroke="#222" stroke-width="1.1" />
<line x1="119.25" y1="579" x2="133.25" y2="579" stroke="#222" stroke-width="1.1" />
<line x1="119.25" y1="598.5" x2="133.25" y2="598.5" stroke="#222" stroke-width="1.1" />
<line x1="188" y1="537.5" x2="188" y2="574.25" stroke="#222" stroke-width="1.1" />
<line x1="181" y1="537.5" x2="195" y2="537.5" stroke="#222" stroke-width="1.1" />
<line x1="181" y1="574.25" x2="195" y2="574.25" stroke="#222" stroke-width="1.1" />
<line x1="249.75" y1="508.25" x2="249.75" y2="544.75" stroke="#222" stroke-width="1.1" />
<line x1="242.75" y1="508.25" x2="256.75" y2="508.25" stroke="#222" stroke-width="1.1" />
<line x1="242.75" y1="544.75" x2="256.75" y2="544.75" stroke="#222" stroke-width="1.1" />
<line x1="347.4" y1="616" x2="347.4" y2="628.5" stroke="#222" stroke-width="1.1" />
<line x1="340.4" y1="616" x2="354.4" y2="616" stroke="#222" stroke-width="1.1" />
<line x1="340.4" y1="628.5" x2="354.4" y2="628.5" stroke="#222" stroke-width="1.1" />
<line x1="410" y1="587.5" x2="410" y2="619" stroke="#222" stroke-width="1.1" />
<line x1="403" y1="587.5" x2="417" y2="587.5" stroke="#222" stroke-width="1.1" />
<line x1="403" y1="619" x2="417" y2="619" stroke="#222" stroke-width="1.1" />
<line x1="474.5" y1="564.5" x2="474.5" y2="595.5" stroke="#222" stroke-width="1.1" />
<line x1="467.5" y1="564.5" x2="481.5" y2="564.5" stroke="#222" stroke-width="1.1" />
<line x1="467.5" y1="595.5" x2="481.5" y2="595.5" stroke="#222" stroke-width="1.1" />
<text x="94.5" y="585.5" font-size="11.8" font-family='"Liberation Sans", sans-serif' fill="#111" textLength="22" lengthAdjust="spacingAndGlyphs">1.05</text>
<text x="132.75" y="585.5" font-size="11.8" font-family='"Liberation Sans", sans-serif' fill="#111" textLength="29.25" lengthAdjust="spacingAndGlyphs">±0.06</text>
<text x="126.25" y="578.6" font-size="15.7" text-anchor="middle" font-family='"Liberation Sans", sans-serif' fill="#111">*</text>
<text x="161.5" y="552" font-size="11.8" font-family='"Liberation Sans", sans-serif' fill="#111" textLength="22.75" lengthAdjust="spacingAndGlyphs">1.28</text>
<text x="194.75" y="552" font-size="11.8" font-family='"Liberation Sans", sans-serif' fill="#111" textLength="28.5" lengthAdjust="spacingAndGlyphs">±0.12</text>
<text x="188" y="537.1" font-size="15.7" text-anchor="middle" font-family='"Liberation Sans", sans-serif' fill="#111">**</text>
<text x="224" y="522.5" font-size="11.8" font-family='"Liberation Sans", sans-serif' fill="#111" textLength="22.75" lengthAdjust="spacingAndGlyphs">1.48</text>
<text x="257.5" y="522.5" font-size="11.8" font-family='"Liberation Sans", sans-serif' fill="#111" textLength="28.5" lengthAdjust="spacingAndGlyphs">±0.15</text>
<text x="249.75" y="507.85" font-size="15.7" text-anchor="middle" font-family='"Liberation Sans", sans-serif' fill="#111">***</text>
<text x="316.75" y="619.25" font-size="11.8" font-family='"Liberation Sans", sans-serif' fill="#111" textLength="22.75" lengthAdjust="spacingAndGlyphs">0.82</text>
<text x="354.5" y="619.25" font-size="11.8" font-family='"Liberation Sans", sans-serif' fill="#111" textLength="28.5" lengthAdjust="spacingAndGlyphs">±0.04</text>
<text x="347.4" y="615.6" font-size="15.7" text-anchor="middle" font-family='"Liberation Sans", sans-serif' fill="#111">*</text>
<text x="380" y="599.5" font-size="11.8" font-family='"Liberation Sans", sans-serif' fill="#111" textLength="22.5" lengthAdjust="spacingAndGlyphs">0.95</text>
<text x="416.5" y="599.5" font-size="11.8" font-family='"Liberation Sans", sans-serif' fill="#111" textLength="28" lengthAdjust="spacingAndGlyphs">±0.11</text>
<text x="410" y="587.1" font-size="15.7" text-anchor="middle" font-family='"Liberation Sans", sans-serif' fill="#111">**</text>
<text x="448" y="576" font-size="11.8" font-family='"Liberation Sans", sans-serif' fill="#111" textLength="22.5" lengthAdjust="spacingAndGlyphs">1.12</text>
<text x="482.5" y="576" font-size="11.8" font-family='"Liberation Sans", sans-serif' fill="#111" textLength="28.75" lengthAdjust="spacingAndGlyphs">±0.14</text>
<text x="474.5" y="564.1" font-size="15.7" text-anchor="middle" font-family='"Liberation Sans", sans-serif' fill="#111">***</text>
<line x1="298.25" y1="503" x2="298.25" y2="737" stroke="#222" stroke-width="1.1" stroke-dasharray="5.5 3.5"/>
<line x1="79" y1="501" x2="79" y2="737.5" stroke="#333" stroke-width="1.1" />
<line x1="78.5" y1="737" x2="525.75" y2="737" stroke="#333" stroke-width="1.1" />
<line x1="74.5" y1="737" x2="79" y2="737" stroke="#333" stroke-width="1" />
<text x="72.5" y="741.6" font-size="12.8" text-anchor="end" font-family='"Liberation Sans", sans-serif' fill="#111">0</text>
<line x1="74.5" y1="709.25" x2="79" y2="709.25" stroke="#333" stroke-width="1" />
<text x="72.5" y="713.85" font-size="12.8" text-anchor="end" font-family='"Liberation Sans", sans-serif' fill="#111">0.2</text>
<line x1="74.5" y1="681" x2="79" y2="681" stroke="#333" stroke-width="1" />
<text x="72.5" y="685.6" font-size="12.8" text-anchor="end" font-family='"Liberation Sans", sans-serif' fill="#111">0.4</text>
<line x1="74.5" y1="652.5" x2="79" y2="652.5" stroke="#333" stroke-width="1" />
<text x="72.5" y="657.1" font-size="12.8" text-anchor="end" font-family='"Liberation Sans", sans-serif' fill="#111">0.6</text>
<line x1="74.5" y1="625" x2="79" y2="625" stroke="#333" stroke-width="1" />
<text x="72.5" y="629.6" font-size="12.8" text-anchor="end" font-family='"Liberation Sans", sans-serif' fill="#111">0.8</text>
<line x1="74.5" y1="596" x2="79" y2="596" stroke="#333" stroke-width="1" />
<text x="72.5" y="600.6" font-size="12.8" text-anchor="end" font-family='"Liberation Sans", sans-serif' fill="#111">1.0</text>
<line x1="74.5" y1="567.5" x2="79" y2="567.5" stroke="#333" stroke-width="1" />
<text x="72.5" y="572.1" font-size="12.8" text-anchor="end" font-family='"Liberation Sans", sans-serif' fill="#111">1.2</text>
<line x1="74.5" y1="538.5" x2="79" y2="538.5" stroke="#333" stroke-width="1" />
<text x="72.5" y="543.1" font-size="12.8" text-anchor="end" font-family='"Liberation Sans", sans-serif' fill="#111">1.4</text>
<line x1="74.5" y1="509.5" x2="79" y2="509.5" stroke="#333" stroke-width="1" />
<text x="72.5" y="514.1" font-size="12.8" text-anchor="end" font-family='"Liberation Sans", sans-serif' fill="#111">1.6</text>
<text x="43.8" y="619.5" font-size="12.3" text-anchor="middle" font-family='"Liberation Sans", sans-serif' fill="#111" textLength="182" lengthAdjust="spacingAndGlyphs" transform="rotate(-90 43.8 619.5)">Relative protein expression (a.u.)</text>
<rect x="315.5" y="487.5" width="205" height="62.5" fill="#fff" stroke="#222" stroke-width="1"/>
<text x="319.5" y="502.5" font-size="11.8" font-family='"Liberation Sans", sans-serif' fill="#111" textLength="98.5" lengthAdjust="spacingAndGlyphs">Group A: Wild-type</text>
<text x="431.5" y="502.5" font-size="11.8" font-family='"Liberation Sans", sans-serif' fill="#111" textLength="86.5" lengthAdjust="spacingAndGlyphs">Group B: Mutant</text>
<rect x="322" y="507.2" width="10" height="9.6" fill="#9b9b9b" stroke="#333" stroke-width="1"/>
<text x="336.5" y="516.5" font-size="11.8" font-family='"Liberation Sans", sans-serif' fill="#111">Control</text>
<rect x="434.3" y="507.2" width="10" height="9.6" fill="#d4d4d4" stroke="#333" stroke-width="1"/>
<text x="448.8" y="516.5" font-size="11.8" font-family='"Liberation Sans", sans-serif' fill="#111">Control</text>
<rect x="322" y="521" width="10" height="9.6" fill="#8ab9e8" stroke="#333" stroke-width="1"/>
<text x="336.5" y="530.3" font-size="11.8" font-family='"Liberation Sans", sans-serif' fill="#111">Treatment 1</text>
<rect x="434.3" y="521" width="10" height="9.6" fill="#fc8b8b" stroke="#333" stroke-width="1"/>
<text x="448.8" y="530.3" font-size="11.8" font-family='"Liberation Sans", sans-serif' fill="#111">Treatment 1</text>
<rect x="322" y="534.8" width="10" height="9.6" fill="#0c63b1" stroke="#333" stroke-width="1"/>
<text x="336.5" y="544.1" font-size="11.8" font-family='"Liberation Sans", sans-serif' fill="#111">Treatment 2</text>
<rect x="434.3" y="534.8" width="10" height="9.6" fill="#a80204" stroke="#333" stroke-width="1"/>
<text x="448.8" y="544.1" font-size="11.8" font-family='"Liberation Sans", sans-serif' fill="#111">Treatment 2</text>
<text x="188" y="752.7" font-size="12.3" text-anchor="middle" font-family='"Liberation Sans", sans-serif' fill="#111" textLength="106" lengthAdjust="spacingAndGlyphs">Group A: Wild-type</text>
<text x="408.8" y="752.7" font-size="12.3" text-anchor="middle" font-family='"Liberation Sans", sans-serif' fill="#111" textLength="93" lengthAdjust="spacingAndGlyphs">Group B: Mutant</text>
<rect x="120" y="761.8" width="10.3" height="10" fill="#9b9b9b" stroke="#333" stroke-width="1"/>
<text x="134.3" y="771.3" font-size="12.5" font-family='"Liberation Sans", sans-serif' fill="#111" textLength="41" lengthAdjust="spacingAndGlyphs">Control</text>
<rect x="197.5" y="761.8" width="10.3" height="10" fill="#0c63b1" stroke="#333" stroke-width="1"/>
<text x="211.8" y="771.3" font-size="12.5" font-family='"Liberation Sans", sans-serif' fill="#111" textLength="113.5" lengthAdjust="spacingAndGlyphs">Treatment 1 (10 µM)</text>
<rect x="349.2" y="761.8" width="10.3" height="10" fill="#a80204" stroke="#333" stroke-width="1"/>
<text x="363.5" y="771.3" font-size="12.5" font-family='"Liberation Sans", sans-serif' fill="#111" textLength="114" lengthAdjust="spacingAndGlyphs">Treatment 2 (50 µM)</text>
<text x="18.5" y="791.7" font-size="10.3" font-family='"Liberation Sans", sans-serif' fill="#111" textLength="523" lengthAdjust="spacingAndGlyphs"><tspan font-weight="bold">Fig. 3. Compound X enhances target protein expression in wild-type but not mutant cells.</tspan> Western blot data (panel b, not</text>
<text x="18.5" y="803.2" font-size="10.3" font-family='"Liberation Sans", sans-serif' fill="#000" textLength="523" lengthAdjust="spacingAndGlyphs">shown here but implied as a source) were quantified, and relelative protein expression was normalized to GAPDH. Data are</text>
<text x="18.5" y="814.7" font-size="10.3" font-family='"Liberation Sans", sans-serif' fill="#000" textLength="504" lengthAdjust="spacingAndGlyphs">presented as mean ± s.d. (n=5 biological replicates). Statistical analysis by two-sided Student’s t-test (*<tspan font-style="italic">P</tspan> &lt; 0.05, **<tspan font-style="italic">P</tspan> &lt; 0.01,</text>
<text x="18.5" y="826.2" font-size="10.3" font-family='"Liberation Sans", sans-serif' fill="#000" textLength="217" lengthAdjust="spacingAndGlyphs">***<tspan font-style="italic">P</tspan> &lt; 0.001 compared to control within each group).</text>
</g>
<g id="volcano">
<rect x="618.75" y="461.5" width="473.75" height="325.25" fill="#fff"/>
<line x1="852.5" y1="461.5" x2="852.5" y2="786.75" stroke="#d0d0d0" stroke-width="1.2" />
<line x1="618.75" y1="774.5" x2="1092.5" y2="774.5" stroke="#b8b8b8" stroke-width="1" />
<path d="M851.74 771.19h0M852.28 772.06h0M847.35 765.27h0M829.46 716.25h0M834 767.41h0M851.69 772.05h0M833.27 767.38h0M847.16 759.68h0M888.96 762.31h0M840.78 757.28h0M833.79 739.28h0M880.77 735h0M880.33 704.79h0M864.55 738.69h0M887.47 759.69h0M838.9 758.91h0M876.01 763.69h0M865.21 766.56h0M900.14 746.26h0M860.52 753.1h0M856.5 772.03h0M826.33 761.85h0M865.87 745.51h0M838.46 764.96h0M865.76 764.18h0M834.43 743.86h0M828.38 754.06h0M859.66 763.88h0M872.48 759.03h0M816.84 735.55h0M849.26 767.96h0M842.33 755.4h0M816.14 760.99h0M828.48 723.88h0M843.11 754.18h0M882.24 761.25h0M834.56 740.67h0M869.08 720.86h0M831.83 768.17h0M827.89 711.72h0M880.79 747.43h0M847.44 757.12h0M847.63 767.5h0M883.48 733.66h0M881.65 752.67h0M829.07 731.48h0M850.01 770.82h0M856.94 763.82h0M858.74 752.81h0M875.04 708.18h0M859.98 758.76h0M866.96 750.83h0M849.96 765.11h0M830.28 724.04h0M844.92 742.53h0M868.09 766.34h0M890.23 745.05h0M853.86 771.47h0M830.48 727.17h0M868.11 745.13h0M865.2 773.21h0M846.47 769.02h0M909.88 753.16h0M871.42 737.55h0M818.38 712.78h0M881.34 757.83h0M865.88 766.19h0M886.78 761.62h0M839.98 772.08h0M853.34 773.32h0M855.62 760.01h0M866.77 760.41h0M841.04 763.65h0M887.91 748.15h0M847.08 756.11h0M847.08 765.67h0M844.77 756.73h0M843.02 746.96h0M845.38 750.47h0M878.98 735.48h0M872.07 731.05h0M896.97 737.3h0M860.53 767.18h0M861.84 769.76h0M828.85 719.92h0M853.28 772.61h0M881.14 724.24h0M858.05 759.34h0M847.14 771.69h0M873.88 750.5h0M799.81 737.72h0M859.94 751.12h0M860.08 772.18h0M838.68 726.46h0M846.96 773.63h0M856.19 770.62h0M868.64 769.84h0M842.86 759.29h0M827.57 672.9h0M823.28 729.09h0M834.92 769.96h0M838.85 742.12h0M878.41 749.07h0M868.28 716.34h0M868.64 739.01h0M866.04 745.37h0M834.53 746.66h0M846.98 751.9h0M869.79 771.15h0M852.39 772.5h0M870.99 740.32h0M846.91 767.27h0M870.2 737.24h0M846.1 756.62h0M823.22 769.55h0M881.91 703.47h0M831.35 751.04h0M869.59 743.39h0M852.58 773.74h0M827.13 764.16h0M829.39 753.21h0M872.76 741.02h0M833.89 737.49h0M871.93 741.54h0M879.97 699.78h0M845.39 765.32h0M852.18 773.02h0M858.63 756.14h0M888.85 764.86h0M862.26 741.69h0M843.55 772.51h0M835.35 736.95h0M885.96 696.36h0M853.38 771.42h0M848.99 760.84h0M829.72 750.97h0M861.75 750.75h0M826.76 703.35h0M882.25 696.47h0M853.45 773.31h0M830.69 688h0M860.93 763.89h0M853.97 767.27h0M862.94 764.85h0M866.77 752.83h0M872.67 734.32h0M857.95 772.94h0M862.89 749.94h0M899.89 763.13h0M860.41 752.25h0M871.38 702.72h0M845.21 761.66h0M850.42 773.84h0M829.46 703.27h0M826.03 707.74h0M869.3 757.33h0M859.23 766.52h0M833.33 708.82h0M829.67 757.89h0M824.55 723.26h0M835.97 743.1h0M852.36 773h0M849.3 773.6h0M858.59 762.72h0M854.7 771.88h0M762.65 735.43h0M862.69 759.85h0M871.07 761.52h0M864.9 762.6h0M871.83 754.44h0M843.47 762.56h0M869.06 753.24h0M854.9 764.71h0M865.78 768.7h0M824.7 739.89h0M856.33 764.63h0M864.46 754.3h0M841.04 754.83h0M845.93 769.52h0M850.3 766.31h0M886.07 746.94h0M817.12 689.15h0M883.11 754.55h0M843.69 746.92h0M833.88 761.43h0M866.68 763.48h0M827.03 736.93h0M854.63 773.65h0M843.63 751.82h0M865.17 772.39h0M873.64 746.57h0M832.53 728.99h0M836.71 755.19h0M820.21 715.52h0M818.95 766.68h0M882.34 749.82h0M843.68 756.1h0M841.17 765.93h0M881.42 757.39h0M886.43 694.71h0M839.57 738.72h0M851.09 772.42h0M841.93 766.84h0M867.8 748.9h0M845.62 751.94h0M885.46 724.06h0M850.13 772.56h0M841.15 772.48h0M847.72 769.6h0M837.93 771.92h0M839.6 763.14h0M856.45 763.28h0M828.72 735.09h0M811.93 732.95h0M822.61 731.73h0M832.67 767.07h0M783.7 750.2h0M843.26 742.68h0M872.82 718.18h0M847.05 767.5h0M824.72 753.39h0M849.09 771.52h0M849.23 770.61h0M878.27 689.83h0M826.7 761.42h0M843.82 757.61h0M848.14 771.58h0M858.86 754.89h0M849.75 768.21h0M824.68 747.06h0M868.96 745.48h0M858.32 767.36h0M863.98 756.6h0M872.87 757.75h0M881.79 730.99h0M833.05 706.25h0M873.82 732.22h0M852.28 772.71h0M844.32 772.66h0M835.3 763.13h0M806.1 744.9h0M878.35 750.18h0M855.52 771.11h0M868.86 750.5h0M878.26 770.44h0M890.23 753.69h0M856.45 757.25h0M834.96 756.11h0M869.67 713.12h0M856.24 770.48h0M831.37 727.51h0M898.15 758.64h0M868.25 765.71h0M872.62 705.73h0M866.73 756.16h0M848.96 773.85h0M870.54 762.13h0M815.99 733.23h0M875.71 751.3h0M885.52 766.13h0M821.68 758.72h0M820.38 731.29h0M845.58 770.78h0M862.73 729.32h0M859.75 750.08h0M881.3 742.77h0M848.77 773.84h0M845.33 761.46h0M855.45 766.53h0M860.9 768.55h0M847.55 764.38h0M842.95 769.45h0M888.67 742.62h0M843.33 763.8h0M869.05 766.06h0M863.64 765.79h0M861.4 753.67h0M846.25 766.36h0M848.96 767.56h0M882.71 713.57h0M844.36 767.17h0M882.25 751.03h0M813.72 747.23h0M822.4 697.04h0M877.17 709.71h0M849.15 770.94h0M864.61 758.58h0M853.46 769.09h0M846.57 762.78h0M857.75 752.22h0M807.48 749.7h0M881 756.47h0M831.21 764.71h0M873.1 762.17h0M868.13 746.73h0M859.62 772.26h0M854.88 766.68h0M879.84 732.98h0M837.32 766.62h0M864.05 756.72h0M831.97 753.25h0M861.4 752.7h0M844.49 742.17h0M881.44 695.12h0M859.54 768.52h0M872.86 761.9h0M887.17 743.11h0M845.19 768.24h0M871.22 751.94h0M842.97 771.94h0M836.84 737.19h0M879.3 747.74h0M851.55 773.87h0M835.82 758.81h0M882.84 760.35h0M858.31 763.96h0M852.61 773.38h0M862.93 754.15h0M868.8 769.05h0M839.54 752.25h0M838.77 760.85h0M872.77 764.31h0M891.06 753.93h0M905.57 739.81h0M873.54 735.58h0M845.51 769.29h0M845.16 751h0M849.33 772.73h0M865.42 761.18h0M884.77 741.27h0M880.89 734.4h0M856.25 764.81h0M880.99 737.06h0M856.82 764.22h0M867.71 746.92h0M820.9 735.66h0M881.03 742.89h0M865.51 763.72h0M853.62 773.38h0M839.06 759.61h0M844.64 740.34h0M837.09 744.28h0M851.36 771.45h0M806.76 751.67h0M806.28 739.43h0M837.29 749.32h0M867.62 764.57h0M846.84 765.09h0M880.19 762.79h0M856.8 771.8h0M848.58 773.81h0M861.72 766.4h0M835.68 753.22h0M876.15 721h0M860.15 764.46h0M827.18 745.72h0M833.84 748.33h0M838.93 747.82h0M842.53 767.12h0M852.78 773.1h0M834.12 718.9h0M881.23 751.26h0M848.72 770.76h0M869.29 756.45h0M877.85 751.01h0M837.61 741.22h0M880.13 733.25h0M849.45 769.94h0M846.53 756.96h0M900.34 732.08h0M841.88 758.72h0M871.84 733.2h0M848.34 770.38h0M830.67 713.21h0M871.47 770.45h0M859.66 757.3h0M858.41 750.29h0M844.67 759.08h0M884.65 725.8h0M838.66 761.12h0M876.55 767.62h0M878.5 759.57h0M847.38 771.48h0M825.51 741.01h0M886.62 766.87h0M830.28 720.89h0M852.78 772.86h0M841.12 750.69h0M847.26 769.44h0M835.64 726.87h0M862.6 744.38h0M855.32 763.24h0M835.73 761.32h0M820.51 754.69h0M838.27 768.51h0M885.95 699.1h0M848.5 764.02h0M880.31 706.87h0M840.58 773.16h0M871.64 733.31h0M862.52 765.95h0M884.53 763.54h0M898.58 761.73h0M859.19 765.55h0M880.96 696.57h0M855.13 773.4h0M807.81 734.86h0M853.91 774.03h0M889.55 750.63h0M859.95 763.45h0M839.52 755.71h0M834.86 747.75h0M834.09 757.66h0M859.54 766.58h0M833.86 725.88h0M869.93 759.31h0M862.69 757.82h0M867.83 755.47h0M832.95 719.01h0M827.79 720.35h0M864.92 753.9h0M869.44 735.92h0M865.74 748.31h0M837.39 752.62h0M843.06 771.82h0M848.42 769.53h0M864.53 749.13h0M879.23 749.76h0M854.42 773.06h0M813.57 733.07h0M844.82 770.76h0M873.2 706.97h0M856.31 773.3h0M848.47 770.33h0M806.62 749.9h0M894.91 748.31h0M854.32 773.95h0M821.15 738.2h0M859.55 753.39h0M837.29 753.38h0M869.45 767.25h0M848.79 763.51h0M840.52 745.09h0M829.96 765.52h0M841.14 766.58h0M860.89 773.07h0M832.6 768.33h0M846.77 765.81h0M816.86 729.62h0M860.06 756.5h0M834.65 736.35h0M826.17 714.44h0M832.26 749.86h0M873.84 727.27h0M859.06 773.09h0M853.63 773.35h0M838.13 770.54h0M828.47 714.64h0M895.63 764.69h0M864.76 755.68h0M854.83 773.89h0M881.08 765.96h0M818.24 725.81h0M864.73 757.73h0M849.9 770.14h0M829.6 716.34h0M830.21 738.08h0M816.32 764.99h0M867.49 723.71h0M827.1 729.24h0M830.31 724.17h0M864.8 771.97h0M886.85 698.8h0M838.32 771.69h0M850.92 773.31h0M823.3 741.4h0M854.09 774.1h0M851.84 771.07h0M834.18 702.91h0M848.36 772.98h0M881.5 706.1h0M855.44 772.54h0M850.08 764.01h0M860.49 763.22h0M822.32 746.49h0M844.43 773.12h0M882.64 708.79h0M819.84 704.27h0M843.11 772.77h0M814.92 746.92h0M865 759.66h0M841.14 756.22h0M837.17 740.05h0M863.49 748.03h0M830.01 746.87h0M879.7 679.66h0M850.99 773.05h0M856.49 766.77h0M856.26 772.3h0M864.84 750.95h0M844.18 744.15h0M843.19 754.16h0M831.06 751.2h0M845.38 762.41h0M805.31 762.87h0M886.85 760.89h0M866.66 728.02h0M830.98 735.4h0M837.76 757.08h0M825.26 754.92h0M933.05 731.11h0M855.37 772.05h0M861.16 763.1h0M868.03 771.38h0M896.3 741.12h0M826.75 766.43h0M926.83 737.08h0M840.97 755.55h0M860.88 765.27h0M847.31 766.74h0M883.27 730.49h0M823.53 722.34h0M886.93 733.43h0M855.11 771.88h0M856.85 774.02h0M838.86 762.22h0M850.68 768.61h0M862.44 757.35h0M821.68 656.48h0M817.67 734.55h0M875.28 764.6h0M837.88 733.59h0M868.32 760.29h0M847.39 767.47h0M847.92 766.24h0M832.27 769.82h0M842.59 753.11h0M859.44 765.03h0M858.67 752.57h0M832.28 717.3h0M873.03 730.68h0M866.72 749.43h0M824.72 767.7h0M841.51 738.49h0M867.07 740.08h0M839.94 772.94h0M863.84 763.82h0M829.15 756.03h0M806.29 743.61h0M842.41 731.78h0M836.24 766.81h0M842.15 752.95h0M835.91 753.84h0M843.33 769.46h0M826.34 764.49h0M852.34 773.77h0M868.24 738.25h0M849.23 771.68h0M888.16 728.26h0M876.79 740.17h0M866.04 759.91h0M878.21 763.04h0M836.2 769.54h0M852.71 771.72h0M876.09 763.25h0M867.26 762.02h0M856.43 766.86h0M877.76 741.13h0M857.62 771.73h0M868.71 728.11h0M867.74 745.9h0M856.33 773.7h0M839.53 762.95h0M869.41 766.77h0M887.05 768.04h0M869.26 738.57h0M847.65 770.89h0M820.49 730.12h0M854.04 769.48h0M859.27 759.78h0M833.96 712.7h0M873.89 722.51h0M826.26 711.41h0M888.37 753.87h0M883.3 766.26h0M853.21 773.69h0M874.41 753h0M861.18 763.16h0M823.55 743.78h0M875.42 740.23h0M855.79 772.1h0M839.16 743.14h0M846.86 765.41h0M797.28 756.61h0M864.23 739.98h0M834.62 743.77h0M857.78 764.48h0M885.37 651.83h0M849.17 770.26h0M879.43 694.71h0M863.09 754.98h0M857.86 752.6h0M873.42 746.13h0M840.23 753.58h0M854.49 773.2h0M861.98 758.72h0M817.44 749.92h0M880.32 750.42h0M871.36 725.22h0M876.53 732.56h0M836.88 766.99h0M859.78 753.83h0M827.06 763.15h0M840.36 764.25h0M859.94 768.08h0M840.42 735.93h0M880.53 710.49h0M850.66 773.52h0M846.53 768.33h0M837.42 756.37h0M861.53 748.56h0M855.32 767.22h0M838.78 755.39h0M870.37 741.99h0M850.46 766.41h0M859.52 750.03h0M874.47 704.19h0M843.61 759.34h0M883.17 740.7h0M857.74 765.09h0M813.74 763.05h0M838.83 761.44h0M868.8 759.5h0M822.12 696.85h0M853.98 774.09h0M838.63 762.08h0M848.96 762.21h0M868.33 729.13h0M842.78 753.97h0M879.62 761.48h0M883.01 716.23h0M836.78 741.23h0M844.2 772.4h0M849.55 772.47h0M856.24 768.7h0M856.41 767.7h0M826.69 761.78h0M838.25 763.12h0M868.12 759.59h0M850.46 769.48h0M821.86 713.41h0M796.45 742.96h0M845.58 762.7h0M866.12 754.12h0M843.39 762.52h0M858.29 761.27h0M846.77 772.68h0M840.76 752.86h0M872.03 753.2h0M841.62 739.14h0M871.74 762.19h0M850.44 773.94h0M850.97 771.58h0M870.58 742.78h0M833.65 743.49h0M841.51 754.33h0M842.5 768.29h0M843.98 757.37h0M868.36 762.27h0M828.42 765.76h0M816.2 756.14h0M868.14 740.08h0M850.38 769.31h0M831.68 721.7h0M833.79 751.95h0M855.72 768.51h0M856.04 769.43h0M867.52 752.35h0M863.8 763.45h0M848.87 769.27h0M868.29 742.23h0M841.12 758.16h0M824.72 749.45h0M826.25 720.01h0M806.85 747.5h0M871.83 721.18h0M858.75 769.77h0M854.9 770.94h0M840.39 749.2h0M849.59 770.21h0M855.37 772.8h0M887.46 671.59h0M896.96 743.76h0M867.15 764.12h0M839.51 771.85h0M837.61 739.89h0M840.67 770.29h0M841.06 754.35h0M832.87 715.35h0M844.77 758.99h0M852.63 772.22h0M832.72 752.82h0M822.25 756.27h0M881.21 721.19h0M827.44 688.77h0M833.61 754.88h0M849.46 765.14h0M855.08 771.62h0M853.98 766.59h0M857.2 767.86h0M872.28 756.05h0M829.52 755.29h0M822.09 699.35h0M831.75 731.05h0M842.18 762.73h0M854.71 772.09h0M822.9 708.65h0M862.03 747.01h0M837.01 759.79h0M882.23 748.39h0M888.14 722.73h0M867.14 738.2h0M851.16 767.67h0M900.8 752.85h0M878.98 731.77h0M863.51 747.01h0M838.08 743.91h0M852.1 774.12h0M883.58 738.55h0M820.3 724.33h0M861.13 753.05h0M845.45 772.5h0M852.65 773.65h0M832.45 768.81h0M847.16 758.06h0M860.14 741.15h0M869.85 760.89h0M879.61 731.16h0M849.95 770.53h0M888.29 714.07h0M883.85 763.76h0M834.68 767.63h0M828.93 722.68h0M841.63 745.65h0M890.64 755.67h0M880.54 747.34h0M852.51 772.83h0M832.81 750.57h0M851.01 771.5h0M851.52 767.75h0M849.57 771.29h0M830.3 718.09h0M874.51 741.56h0M831.51 755.75h0M806.81 751.41h0M861.27 749.42h0M869.22 748.91h0M846.01 748.74h0M848.73 768.14h0M845.8 770.66h0M836.61 769.63h0M870.67 749.87h0M874.2 763.13h0M845.21 753.24h0M884.06 768.02h0M847.13 765.35h0M882.13 723.86h0M825.62 747.09h0M825.05 729.34h0M839.57 722.93h0M844.55 751.16h0M860.26 770.92h0M868.5 714.62h0M856.14 766.44h0M883.31 734.31h0M808.53 743.04h0M862.48 757.83h0M834.9 742.82h0M859.19 769.13h0M869.12 730.99h0M841.95 762.42h0M853.03 770h0M887.26 724.32h0M820.68 703.43h0M867.4 741.08h0M856.71 769.8h0M870.47 771.11h0M870.74 721.24h0M856.41 764.9h0M880.69 656.81h0M817.18 747.04h0M861.68 753.15h0M841.74 755.9h0M844.15 765.81h0M816.91 704.35h0M828.69 710.86h0M857.4 760.52h0M878.11 758.66h0M861.49 764.89h0M824.02 720.09h0M879.27 702.55h0M841.36 767.55h0M861.24 772.69h0M839.07 768.88h0M832.54 758.83h0M840.5 770.67h0M876.18 710.86h0M793.22 740.07h0M835.54 762.1h0M851.93 772.07h0M818.67 726.38h0M892.99 760.15h0M875 766.29h0M887.06 765.49h0M867.78 745.85h0M834.92 740.27h0M854.64 772.98h0M848.95 767.59h0M867.56 764.49h0M880.58 734.52h0M841.01 745.27h0M845.35 761.05h0M871.59 770.85h0M829.93 760.1h0M826.64 722.16h0M848.41 759.87h0M878.28 736.12h0M853.31 769.01h0M839.02 770.73h0M844.08 752.66h0M860.3 759.95h0M847.35 773.43h0M872.9 748.27h0M837.68 752.19h0M853.98 772.59h0M869.62 718.08h0M843.37 773.12h0M836.63 766.75h0M821.44 752.81h0M846.11 765.9h0M851.68 770.14h0M839.64 762.27h0M831.49 736.48h0M855.41 766.51h0M865.53 759.45h0M829.51 694.09h0M789.18 751.86h0M865.94 737.28h0M823.05 699.93h0M826.84 720.3h0M847.08 763.57h0M850.24 770.58h0M845.7 773.26h0M867.61 753.74h0M874.34 760.81h0M851.55 773.13h0M836.99 720.41h0M850.38 772.09h0M868.41 766.52h0M846.24 768.53h0M869.7 772.05h0M845.51 769.41h0M933.74 741.56h0M839.76 731.13h0M865.81 772.56h0M872.55 708.03h0M856.42 756.89h0M862.04 759.13h0M849.54 763.62h0M834.25 764.89h0M850.14 771.14h0M849.81 770.03h0M868.25 722.57h0M842.47 730.09h0M852.73 773.47h0M861.78 763.34h0M871.12 755.03h0M813.88 763.2h0M882.36 676.88h0M841.34 736.89h0M874.19 722.01h0M860.57 766.16h0M879.74 666.92h0M827.96 676.49h0M850.71 770.76h0M874.57 722.86h0M894.99 758.83h0M871.59 738.84h0M862.27 763.96h0M845.69 773.87h0M838.34 752.16h0M866.79 738.69h0M844.44 762.22h0M861.39 773.66h0M855.58 772.25h0M851.7 770.35h0M809.51 746.45h0M822.63 737.22h0M882.45 735.15h0M872.5 734.08h0M861.76 747.65h0M874.95 717.99h0M839.42 750.21h0M807.3 751.17h0M823.84 745.41h0M870.88 771.55h0M875.3 758.91h0M828.73 727.54h0M855.04 761.03h0M862.89 739.75h0M835.03 739.23h0M874.93 765.47h0M842.72 739.56h0M848.5 765.42h0M865.33 748.02h0M849.24 767.14h0M855.31 760.57h0M847.73 755.22h0M862.26 731.45h0M871.48 750.61h0M863.49 748.12h0M834.45 734.56h0M822.14 728.73h0M846.57 757.64h0M875.51 742.03h0M836.26 766.3h0M879.58 737.21h0M853.13 772.28h0M841.55 747.28h0M873.35 761.47h0M829.71 763.74h0M861.76 748.39h0M828.26 699.98h0M857.37 766.71h0M857.55 766.4h0M822.77 758.82h0M841.58 730h0M836.21 764h0M853.36 773.9h0M850.93 772.36h0M823.68 713.02h0M841.62 773.56h0M909.93 743.66h0M839.45 758.34h0M884.02 761.05h0M850.86 773.6h0M869.38 770.67h0M861.32 765.3h0M874.23 747.22h0M822.32 698.47h0M848.97 769.68h0M863.9 758.53h0M872.19 765.85h0M865.96 760.26h0M848.71 765.45h0M878.15 747.59h0M837.79 744.05h0M856.88 771.85h0M827.18 729.62h0M886.81 668.15h0M869.58 721.85h0M846.04 767.97h0M833.96 694.27h0M859.65 757.01h0M818.45 687.04h0M848.05 772.24h0M867.49 742.21h0M837.91 763.37h0M833.07 735.48h0M849.49 770.18h0M817.13 756.75h0M840.07 766.67h0M863.5 756.54h0M826.56 699.88h0M827.61 747.22h0M844.44 772.43h0M823.53 686.54h0M877.49 762.47h0M820.8 737.98h0M855.47 760.4h0M873.23 728.85h0M818.92 755.67h0M821.52 755.26h0M885.43 718.99h0M877.26 719.86h0M824.95 717.59h0M824.99 710.16h0M856.14 771.88h0M915.65 735.96h0M836.93 766.4h0M898.26 742.68h0M848.82 761.77h0M841.03 759.65h0M858 767.32h0M845.33 749.43h0M852.7 774.07h0M818.76 701.14h0M846.13 773.85h0M855.75 761.01h0M889.21 730.39h0M825.72 706.89h0M839.74 773.18h0M829.43 769.77h0M834.86 698.09h0M941.07 734.3h0M838.3 748.16h0M848.95 770.55h0M883.53 736.82h0M873.62 747.75h0M852.91 771.53h0M865.93 768.27h0M844.58 752.1h0M830.63 736.54h0M855.91 774.04h0M824.37 748.3h0M885.55 741.09h0M830.7 740.18h0M850.73 773.97h0M862.6 770.98h0M839.33 752.66h0M834.57 755.01h0M831.52 730.4h0M847.54 770.23h0M834.71 770.97h0M845.01 750.04h0M821.73 739.8h0M859.35 771.96h0M873.64 754.93h0M841.72 762.5h0M867.31 759.32h0M834.74 770.01h0M833.61 767.95h0M871.06 746.64h0M864.76 726.29h0M879.24 748.58h0M880.55 713.37h0M854.05 773.51h0M813.92 732.34h0M817.28 720.37h0M823.61 757.73h0M848.48 762.6h0M861.26 753.98h0M931.12 739.07h0M864.44 765.64h0M877.52 746.73h0M834.12 741.41h0M880.34 713.37h0M860.99 749.2h0M860.41 754.36h0M843.36 760.63h0M885.74 741.18h0M882.4 743.9h0M835.97 756h0M863.6 746.85h0M878 739.16h0M857.83 769.99h0M873.37 771.61h0M820.34 766.78h0M831.27 771.33h0M849.46 770.21h0M877.28 727.16h0M848.49 769.41h0M841.52 746.06h0M883.54 676.95h0M865.35 760.84h0M817.22 755.71h0M849.85 764.4h0M826.26 701.04h0M856.84 762.2h0M849.57 771.05h0M824.31 728.91h0M877.35 697.15h0M772.27 731.23h0M820.72 646.55h0M837.71 772.2h0M863.12 750.35h0M885.4 714.35h0M844.22 743.78h0M840.52 761.06h0M848.83 756.09h0M830.38 719.04h0M870.87 770.06h0M851.69 774.06h0M844.85 770.57h0M838.45 737.26h0M884.28 760.67h0M865.87 754.27h0M913.74 741.78h0M879.76 759.74h0M827.79 706.35h0M867.77 718.73h0M848.19 758.9h0M860.28 764.02h0M870.11 750.09h0M858.98 757.92h0M847.92 760.67h0M832.92 752.04h0M822.69 692.88h0M831.02 719.94h0M851.74 772.48h0M816.32 758.1h0M837.35 730.65h0M863.35 760.71h0M863.57 749.6h0M815.77 747.55h0M848.43 770.96h0M834.58 725.97h0M860.26 768.43h0M842.62 769.8h0M875.79 746.16h0M850.38 765.32h0M841.71 737.8h0M864.57 772.28h0M818.24 661.2h0M829.71 742.55h0M849.74 767.65h0M863.99 772.16h0M924.34 731.37h0M833.98 760.4h0M875.36 741.75h0M851.26 773.85h0M843.17 768.87h0M835.86 766.87h0M840.21 736.46h0M822.2 730.27h0M857.86 773.24h0M845.22 771.51h0M842.73 769.66h0M868.69 722.82h0M879.34 769.4h0M857.27 765.59h0M839.89 740.32h0M851.59 773.58h0M881.22 726.86h0M821.68 759.73h0M816.36 758.16h0M865.17 764.35h0M858.34 747.8h0M841.45 768.21h0M868.54 751.62h0M798.07 742.58h0M841.27 753.31h0M870.45 769.8h0M850.98 766.86h0M868.48 747.2h0M890.28 750.03h0M838.16 770.08h0M852.28 772.38h0M804.16 739.69h0M830.71 747.22h0M825.73 765.84h0M845.08 763.68h0M828.93 715.09h0M833.94 735.72h0M860.43 758.25h0M852.8 773.79h0M837.91 771.9h0M854.85 772.66h0M869.87 753.12h0M855.58 772.42h0M857.23 760.72h0M849.91 772.48h0M871.7 724.24h0M829.16 727.56h0M865.76 758.85h0M867 745.6h0M850.98 770.24h0M884.06 657.58h0M842.33 768.79h0M826.79 704.05h0M848.86 771.44h0M832.99 694.31h0M863.75 764.37h0M818.64 758.56h0M863.46 772.56h0M826.91 732.21h0M854.58 771.08h0M836.35 742.3h0M883.36 713.83h0M880.12 718.79h0M863 749.18h0M819.59 749.65h0M908.84 752.83h0M816.7 746.45h0M863.81 772.63h0M901.3 754.31h0M865.65 745.41h0M849.8 769.18h0M784.79 737.66h0M842.21 741.36h0M861.32 760.46h0M829.8 693.07h0M833.54 760.01h0M859.58 748.84h0M863.97 739.91h0M848.83 773.54h0M839.28 770.83h0M852.62 773.99h0M795.89 754.49h0M838.39 767.94h0M870.03 770.3h0M852.65 772.73h0M891.14 752.45h0M856.1 759.16h0M848.35 768.83h0M871.99 716.84h0M832.87 739.85h0M863.08 764.46h0M838.65 751.28h0M866.1 766.38h0M887.02 756.49h0M883.84 746.5h0M820.79 715.52h0M836.93 752.7h0M842.43 762.53h0M874.67 731.92h0M836.31 749.12h0M881.96 701.75h0M869.93 771.2h0M859.56 763.97h0M858.36 770.83h0M819.32 747.36h0M862.16 755.42h0M869.3 711.56h0M866.61 725.23h0M858.02 772.95h0M817.98 741.6h0M840.36 751.09h0M784.96 736.89h0M867.9 742.26h0M851.77 773.25h0M850.24 768.77h0M865.96 756.84h0M873.49 735.24h0M863.86 727.55h0M864.3 749.14h0M876.19 758.49h0M835.27 765.8h0M870.2 766.59h0M885.18 751.22h0M889.65 750.18h0M862.12 768.38h0M841.42 747.32h0M824.22 756.05h0M838.2 765.14h0M848.19 766.44h0M819.61 753.99h0M843.65 760.08h0M861.26 762.5h0M858.77 755.16h0M862.33 758.19h0M845.6 767.93h0M842.08 772.29h0M854.7 767.09h0M863.58 769.04h0M843.34 754.03h0M856.62 772.35h0M849.23 763.24h0M871.55 717.14h0M855.4 763.78h0M857.01 770.74h0M830.23 766.03h0M847.15 755.39h0M831.07 741.22h0M842.79 767.52h0M876.88 687.22h0M850.12 763.27h0M814.85 767.23h0M853.64 773.73h0M853.51 773.9h0M844.19 773.59h0M832.06 732.2h0M865.51 763.8h0M865.71 743.45h0M851.95 772.5h0M861.52 752.49h0M852.03 772.45h0M836.52 761.28h0M830.42 741.71h0M868.7 772.38h0M871.54 729.65h0M828.66 721.74h0M867.9 769.29h0M879.72 746.25h0M875.62 724.89h0M868.08 757.18h0M827.48 721.16h0M871.55 721.58h0M882.47 698.68h0M886.27 724.62h0M896.69 751.13h0M844.12 767.62h0M870.44 746.63h0M883.26 734.66h0M838.53 752.92h0M874.09 740.17h0M874.95 738.66h0M855.25 771.63h0M877.37 719.45h0M855.64 772.72h0M853.09 773.37h0M823.78 739.73h0M835.42 765.98h0M854.43 767.21h0M844.3 738.12h0M811.32 756.38h0M849.42 771.43h0M817.18 755.45h0M881.65 703.45h0M855.14 767.79h0M863.99 772.26h0M866.56 750.38h0M877.47 738.06h0M827 698.01h0M832.33 745.12h0M867.67 760.51h0M841.59 750.54h0M846.25 744.6h0M843.12 771.68h0M874.79 719.15h0M866.01 772.47h0M872.97 706.16h0M862.3 758.62h0M818.2 728.65h0M870.27 760.22h0M848 770.76h0M848.59 769.09h0M859.61 765.9h0M867.94 767.53h0M875.28 750.11h0M830.33 724.6h0M838.32 747.03h0M840.85 765.93h0M830.52 768.75h0M839.58 752.7h0M882.19 702h0M842.83 752.76h0M860.01 762.77h0M857.54 767.66h0M860.92 762.92h0M881.5 756.74h0M826.33 754.09h0M856.34 773.61h0M889.71 730.43h0M817.28 699.48h0M840.99 747.12h0M839.68 719.89h0M886.59 699.49h0M878.9 732.31h0M893.97 750.89h0M836.89 742.08h0M839.68 763.76h0M819.56 649.82h0M875.62 741.02h0M851.02 774h0M878.97 747.37h0M839.94 740.99h0M848.54 757.83h0M847.01 768.21h0M880.48 757.66h0M831.93 713.28h0M863.96 757.53h0M830.24 747.72h0M863.52 757.15h0M868.17 769.5h0M860.93 759.92h0M854.1 768.95h0M836.23 725.9h0M820.33 756.46h0M854.99 769.26h0M866.34 752.05h0M842.65 755.91h0M834.35 717.08h0M844.69 773.68h0M816.04 761.99h0M839.77 759.56h0M845.54 758.7h0M853.09 773.69h0M863.17 752.04h0M845.82 761.22h0M877.54 768.63h0M856.8 772.51h0M845.2 761.28h0M868.39 728.65h0M871.21 760.75h0M877.28 715.54h0M867.71 746.07h0M821.96 729.47h0M864.79 753.62h0M862.36 754.08h0M836.52 761.48h0M860.81 768.86h0M822.82 727.09h0M837.1 764.57h0M846.59 762.15h0M851.41 773.15h0M786.71 747.22h0M870.18 762.86h0M834.28 743h0M855.01 772.44h0M849.94 772.5h0M882.74 712.31h0M824.8 764.02h0M859.9 743h0M860.15 771.93h0M856.92 766.49h0M822.57 699.9h0M854.94 773.17h0M862.84 749.76h0M841 755.73h0M786.69 753.25h0M889.38 737.34h0M911.31 733.06h0M848.75 769.7h0M877.58 764.69h0M863.25 747.72h0M870.01 725.55h0M842.26 737.5h0M813 749.86h0M859.49 768.45h0M846.18 753.07h0M849.18 771.09h0M869.03 770.52h0M828.51 745.92h0M849.69 762.84h0M849.6 773.06h0M843.9 756.67h0M857.95 769.04h0M867.38 759.77h0M835.56 742.3h0M836.15 726.13h0M841.75 761.67h0M838.66 754.62h0M873.91 721.74h0M861.59 766.2h0M842.67 773.43h0M867.46 754.49h0M848.91 769.91h0M852.02 771.26h0M887.87 724.08h0M871.85 761.85h0M853.52 771.33h0M851.33 773.42h0M847.14 766.5h0M902.17 741.13h0M839.06 748.38h0M846.71 754.31h0M830 769.34h0M864.06 772.63h0M904.46 750.33h0M820.81 709.23h0M859.22 765.04h0M860.96 761.2h0M821.62 760.63h0M828.98 752.55h0M829.16 739h0M852.8 773.37h0M820.63 708.03h0M822.08 712.7h0M842.99 769.27h0M871.43 762.37h0M891.02 732.34h0M854.17 765.93h0M886.69 697.34h0M868.69 772.31h0M852.22 772.08h0M883.77 753.99h0M854.85 769.51h0M847.85 772.83h0M850.04 769.71h0M854.93 766.66h0M818.78 710.8h0M830.27 723.7h0M848.49 755.25h0M844.34 762.35h0M899.31 763.37h0M850.14 766.48h0M876.68 712.5h0M839.69 732.29h0M868.64 759.88h0M880.83 737.06h0M843.82 753.94h0M840.89 748.59h0M845.45 753.29h0M862.37 744.94h0M830.37 713.07h0M863.62 765.12h0M871.09 714.65h0M779.41 732.57h0M863.55 769.32h0M869.51 769.3h0M837.48 746.07h0M885.07 739.06h0M875.11 748.4h0M887.86 763.25h0M856 763.35h0M869.92 747.77h0M861.76 750.48h0M871.49 761.75h0M836.59 766.22h0M868.32 757.89h0M855.99 772.84h0M855.47 768.53h0M827.62 753.04h0M849.68 770.88h0M848.62 762.21h0M844.5 767.48h0M807.53 763.91h0M851.09 768.22h0M829.2 757.65h0M830.05 745.9h0M861.34 753.02h0M853.55 773.88h0M872.46 721.51h0M868.34 726.77h0M921.53 740.56h0M859.45 756.47h0M876.1 724.07h0M828.45 710.21h0M881.36 689.91h0M823.19 699.64h0M851.75 770.31h0M846.56 766.54h0M876.02 735.71h0M841.53 749.83h0M851.67 773.53h0M845.92 747.21h0M873.18 747.03h0M842.31 769.47h0M828.97 704.29h0M871.98 771.97h0M868.93 758.89h0M878.54 729.57h0M842.41 758.4h0M825.43 706.88h0M860.18 761.44h0M870.92 760.44h0M856.82 770.1h0M846.96 749.32h0M852.19 770.89h0M836.27 771.21h0M821.97 742.16h0M859.7 771.15h0M854.72 771.16h0M821.58 761.52h0M839.04 732.3h0M859.55 763.3h0M872.19 763.9h0M849.8 767.56h0M862.23 762.67h0M847.54 765.61h0M845.06 751.87h0M849.21 772.67h0M872.31 726.02h0M850.81 773.3h0M828.43 760.67h0M847.96 764.71h0M875.53 732.22h0M880.04 762.62h0M890.43 764.34h0M844.12 770.5h0M898.87 734.19h0M854.84 770.02h0M876.7 749.79h0M836.35 758.02h0M849.64 772.2h0M878.02 739.96h0M853.92 771.52h0M882.59 751.3h0M850.97 770.38h0M876.04 765.37h0M820.76 756.34h0M864.95 773.08h0M879.51 761.53h0M817.89 743.52h0M836.25 735.87h0M872.43 752.01h0M811.39 757.93h0M849.11 766.21h0M876.46 731.27h0M836.65 739.48h0M845.36 766.63h0M845.83 773.45h0M837.98 759.46h0M878.28 744.4h0M850.21 761.96h0M881.23 709.08h0M837.94 758.09h0M862.77 764.33h0M880.62 742.37h0M818.77 748.76h0M857.74 765.55h0M838.44 758.64h0M841.78 758.7h0M860.74 772.66h0M836.09 757.48h0M840.51 768.31h0M846.9 770.27h0M838.06 748.7h0M855.71 773.92h0M855.03 774.09h0M883.25 753.22h0M861.9 752.51h0M845.16 773.65h0M860.94 767.09h0M886.76 761.98h0M828.86 714.1h0M881.52 723.73h0M825.78 724.48h0M857.87 760.61h0M897.4 741.8h0M859.66 750.6h0M861.93 756.31h0M885.27 727.49h0M826.91 740.58h0M822.46 725.43h0M873.45 750.66h0M870.91 766.54h0M840.29 762.67h0M895.64 748.7h0M843.56 749.02h0M858.61 756.55h0M871.24 758.65h0M857.97 763.9h0M883.56 732.65h0M839.24 757.51h0M852.02 773.19h0M862.15 746.72h0M855.9 772.57h0M865.57 744.03h0M849.14 767.68h0M846.12 768.17h0M860.11 760.4h0M832.73 752.18h0M842.8 771.82h0M826.49 759.89h0M825.31 768.52h0M851.7 773.25h0M849.36 771.29h0M860.78 748.23h0M847.47 773.8h0M841.71 747.23h0M939.47 735.63h0M883.14 767.99h0M876.9 731.71h0M864.59 751.35h0M858.01 772.12h0M836.46 719.31h0M846.24 761.67h0M847.09 766.76h0M880.01 720.26h0M859.23 766.16h0M863.9 747.24h0M859.03 764.44h0M850.91 767h0M853.4 768.71h0M864.14 767.37h0M837.18 754.77h0M816.18 755.11h0M846.5 768.67h0M920.95 739.21h0M850.45 772.5h0M880.03 741.66h0M840.43 754.66h0M829.12 738.49h0M904.14 760.58h0M858.59 764.72h0M840.67 771.59h0M849.13 763.93h0M817.03 741.89h0M875.19 740.19h0M881.86 762.81h0M874.24 747.2h0M825.9 769.57h0M830.38 755.71h0M864.97 753.1h0M844.53 749.6h0M871.44 767.17h0M809.93 752.02h0M838.91 766.47h0M836.33 741.43h0M860.44 767.4h0M854.75 765.75h0M860.61 766.89h0M865.88 759.88h0M861.37 760.22h0M863.55 735.36h0M849.77 761.59h0M850.32 770.27h0M857.98 772.84h0M864.19 769.87h0M872.43 700.53h0M841.77 772.09h0M852.04 770.78h0M871.26 706.66h0M846.38 757.5h0M836.51 743.04h0M861.93 771.54h0M860.87 742.85h0M862.12 763.83h0M847.02 770.65h0M836.82 728.81h0M844.41 757.01h0M848.08 768.23h0M878.71 701.75h0M887.51 659.95h0M843.86 767.98h0M891.34 731.67h0M863.92 746.17h0M871.4 765.77h0M892.34 766.66h0M835.93 753.99h0M837.25 742.85h0M838.1 770.55h0M845.4 748.4h0M874.69 755.99h0M852.11 772.09h0M833.42 756h0M831.4 753.42h0M865.57 769.54h0M866.91 769.18h0M808.87 759.63h0M848.14 764.42h0M832.82 738.5h0M870.23 758.65h0M811.8 738.91h0M838.44 735.28h0M818.69 752.25h0M833.82 765.49h0M835.36 722.9h0M872.93 770.84h0M859.64 773.81h0M854.52 767.64h0M837.78 767.81h0M892.19 763.99h0M836.47 763.22h0M817.93 651.32h0M879.88 769.56h0M834.8 766.26h0M839.54 758.7h0M824.39 746.99h0M877.97 766.13h0M858.94 771.62h0M864.89 772.86h0M836.07 719.17h0M887.49 733.3h0M852.94 772.16h0M829.19 759.37h0M875.03 770.54h0M858.42 768.55h0M883.46 766.44h0M854.51 770.79h0M829.07 766.24h0M831.37 702.29h0M866.52 746.89h0M828.88 712.59h0M827.54 713.76h0M810.28 740.67h0M831.52 759.29h0M848.56 764.59h0M833.93 749.64h0M864.61 771.06h0M853.2 773.43h0M819.95 711.37h0M853.07 772.11h0M827.43 733.47h0M836.73 771.46h0M849.09 756.72h0M878.05 739.34h0M871.46 723.94h0M871.84 762.96h0M838.33 743.34h0M849.65 769h0M818.81 747.59h0M832.43 734.61h0M818.06 766.83h0M888.17 758.2h0M826.5 699.12h0M845.07 746.68h0M850.02 772.24h0M879.04 715.03h0M857.35 764.5h0M853.02 772.63h0M871.06 743.88h0M851.19 769.26h0M875.35 764.95h0M817.08 627.76h0M826.84 701.53h0M879.47 766.08h0M887.18 755.46h0M853.37 772.37h0M845.95 773.04h0M879.73 727.49h0M843.33 769.06h0M836.73 719.31h0M870.39 722.55h0M846.1 772.26h0M824.03 692.3h0M865.97 748.4h0M823.87 750.82h0M859.88 760.53h0M869.72 764.22h0M831.45 697.45h0M846.6 766.28h0M851.78 773.16h0M854.72 766.99h0M881.19 724.24h0M874.59 764.25h0M819.16 736.81h0M869.45 731h0M842.42 752.91h0M845.03 770.57h0M839.19 754.9h0M840.54 741.72h0M857.65 773.91h0M829.87 762.6h0M831.57 698.29h0M827.38 724.83h0M879.07 695.98h0M849.64 772.04h0M837.83 734.44h0M848.2 769.27h0M866.48 762.09h0M849.05 764.54h0M874.35 767.08h0M871.31 748.44h0M839.1 767.75h0M872.37 730.89h0M891.42 730.37h0M849.31 765.6h0M821.18 732.4h0M866.73 739.64h0M856.56 772h0M869.99 747.41h0M875.6 752.85h0M818.63 749.51h0M819.49 768.3h0M837.76 749.72h0M820.82 760.39h0M836.9 763.48h0M840.2 744.93h0M842 766.69h0M885.87 727.06h0M826.4 770.31h0M802.02 731.97h0M821.17 744.14h0M864.86 728.75h0M839.54 715.58h0M854.13 772.52h0M860.44 752.1h0M834.81 716.72h0M916.25 740.39h0M881.31 693.45h0M853.56 768.37h0M896.35 739.75h0M824.76 720.97h0M832.22 758.42h0M875.45 714.2h0M884.7 710.69h0M836.88 735.08h0M834.08 711.94h0M860.28 762.5h0M842.88 749.51h0M844.08 753.1h0M876.91 765.79h0M821.29 708.76h0M847.7 762.81h0M844.6 756.62h0M879.48 734.43h0M907.95 736.06h0M846.79 752.03h0M847.93 773h0M836.69 767.85h0M856.49 767.07h0M841.28 766.92h0M836.93 766.2h0M852.02 772.76h0M881.33 763.15h0M846.47 762.25h0M843.12 731.33h0M814.91 739.66h0M850.29 773.69h0M849.22 765.15h0M853.49 771.19h0M870.14 768.54h0M874.45 736.78h0M857.97 764.62h0M858.6 764.94h0M838.33 751.28h0M850.97 770.52h0M855.33 772.25h0M865.1 771.41h0M843.48 742.83h0M875.91 733.94h0M886.43 761.56h0M859.36 773.21h0M874.6 758.68h0M856.32 768.58h0M832.74 706.46h0M840.32 753.53h0M873.59 755.06h0M828.38 736.69h0M907.37 736.72h0M824.11 767.97h0M874.26 765.77h0M885.19 741.65h0M884.45 710.79h0M818.67 749.67h0M840.75 737.91h0M895.87 762.03h0M872.95 752.42h0M867.67 764.13h0M820.68 704.74h0M841.41 771.39h0M842.93 764.74h0M880.28 766.15h0M849.84 761.74h0M833.35 757.63h0M854.87 771.98h0M852.99 773.16h0M824.21 751.71h0M819.34 755.13h0M826.82 770.29h0M806.61 733.54h0M847.02 770.69h0M851.2 773.32h0M854.77 772.26h0M856.35 771.35h0M873.29 715.28h0M825.52 752.55h0M872.88 743.86h0M842.3 730.66h0M891.09 736.16h0M826.09 749.23h0M830.91 734.2h0M876.59 764.98h0M866.49 740.5h0M828.05 727.99h0M869.42 771.65h0M856.2 773.99h0M821.42 742.04h0M876.91 731.18h0M853.35 773.37h0M834.68 741.53h0M845.73 773.3h0M831.96 739.08h0M828.48 706.83h0M831.98 770.93h0M839.7 771h0M851.55 773.47h0M817.46 749.61h0M860.59 769.31h0M854.24 774.07h0M831.87 767.85h0M858.44 770.12h0M864.57 771.36h0M854.92 772.75h0M856.53 771.92h0M878.29 742.72h0M827.88 717.52h0M840.87 770.02h0M848.18 766.31h0M840.99 735.42h0M866.01 767.06h0M850.38 769.89h0M867.21 736.24h0M824.67 730.28h0M827.63 709.02h0M852.85 772.81h0M871.57 753.31h0M843.67 746.02h0M862.25 750h0M860.41 757.21h0M831.01 754.8h0M871.71 750.66h0M822.07 660.76h0M875.29 711.62h0M822.76 750.11h0M868.17 747.28h0M858.35 756.91h0M846.29 762h0M863.9 764.6h0M859.41 769.15h0M822.92 737.8h0M838.46 764.28h0M869.5 765.29h0M860.08 765.69h0M862.22 748.8h0M858.6 762.33h0M844.36 753.19h0M860.28 767.41h0M836.62 721.66h0M877.58 708.57h0M872.49 734.97h0M861.74 760.36h0M819.42 758.1h0M820.49 733.41h0M871.77 771.78h0M877.1 722.82h0M857.41 771.31h0M846.05 770.27h0M872.11 757.38h0M854.85 769.61h0M868.11 746.5h0M843.4 772.99h0M821.64 746.84h0M880.3 696.11h0M860.87 771.68h0M822.32 719.92h0M855.54 772.34h0M832.37 733.52h0M837.4 753.2h0M872.21 719.71h0M831.06 737.19h0M847.86 769.67h0M859.22 766.42h0M817.8 751.74h0M827.25 759.04h0M836.1 768.03h0M849 771.56h0M831.3 718.9h0M826.05 728.42h0M836.31 718.25h0M863.67 763.23h0M868.33 726.79h0M804.24 742.17h0M847.37 761.59h0M850.77 770.15h0M860.91 765.71h0M836.51 750.7h0M897.74 736.65h0M824.78 732.97h0M828.07 703.72h0M872.23 742.39h0M852.55 773.13h0M857.64 752.37h0M877.41 728.17h0M890.05 750.27h0M869.34 729.34h0M863.85 746.71h0M837.77 765.09h0M910.4 751.33h0M852.45 774.04h0M830.39 735.6h0M841.68 759.96h0M844.62 750.24h0M853.22 773.92h0M860.97 761.28h0M886.45 686.49h0M819.57 744.03h0M862.63 764.62h0M886.07 759.38h0M876.31 765.39h0M810.93 749.62h0M860.38 769.66h0M862.87 772.77h0M871.83 710.35h0M826.83 724.39h0M831.67 771.98h0M833.12 767.09h0M867.98 764.5h0M778.27 734.63h0M867.58 751.6h0M866.38 768.34h0M886.57 715.57h0M862.62 752.73h0M843.53 759.17h0M857.72 770.33h0M854.2 769.28h0M822.49 699.1h0M876.54 718.13h0M843.67 763.23h0M865.13 763.66h0M836.5 757.72h0M821.84 736.45h0M827.68 697.9h0M844.68 765.24h0M871.29 755.64h0M832.06 765.93h0M842.01 751.86h0M834.88 764.78h0M847.89 752.68h0M903.47 735.44h0M831.8 742.28h0M860.69 759.63h0M816.65 751.05h0M869.94 758.74h0M878.14 724.75h0M831.74 755.88h0M835.22 758.61h0M810.43 753.61h0M784.45 750.27h0M854.19 772.73h0M828.68 744.71h0M888.4 753.72h0M856.94 773.35h0M875.82 711.62h0M832.22 754.28h0M875.2 708.57h0M864.33 765.81h0M860.08 768.26h0M834.49 758.87h0M828.53 757.71h0M890.6 758.05h0M853.63 769.46h0M844.95 760h0M884.63 715.24h0M849.64 767.27h0M850.95 771.35h0M827.44 767.98h0M817.86 705.18h0M844.7 771.42h0M903.86 751.03h0M865.46 737.83h0M835.85 738.85h0M848.24 764.25h0M865.11 759.4h0M864.34 766.9h0M850.32 773.69h0M785.58 749.2h0M855.1 773.57h0M839.34 738.05h0M817.7 759.98h0M801.24 730.65h0M838.94 760.65h0M822.65 706.52h0M865.8 773.21h0M870.84 751.59h0M865.1 772.38h0M843.62 764.79h0M866.99 760.58h0M875.44 769.29h0M871.13 724.83h0M825.39 722.61h0M838.9 730.23h0M829.84 740.69h0M847.68 751.49h0M862.53 773.33h0M838.98 754.77h0M808.66 738.42h0M856.55 768.96h0M839.83 756.67h0M845.36 754.21h0M876.07 768.51h0M872.5 699.24h0M826.52 735.85h0M832.84 762.79h0M844.87 771.89h0M867.1 770.83h0M840.11 741.43h0M848.66 758.72h0M843.6 740.69h0M834.18 713.84h0M872.86 753.7h0M881.4 730.08h0M875.36 723.96h0M818.17 700.67h0M876.42 740.86h0M864.13 760.88h0M856.88 759.81h0M796.53 736.26h0M843.57 738.52h0M878.87 697.28h0M875.82 749.99h0M833.49 711.14h0M804.16 752.51h0M865.95 720.52h0M869.85 713.62h0M844.58 769.69h0M833.44 728.4h0M863.88 742.55h0M844.31 764.75h0M826.98 712.38h0M818.5 752.92h0M899.96 751.76h0M827.09 756.52h0M829.6 738.19h0M846.5 768.09h0M873.1 759.81h0M850.03 768.51h0M891.47 737.81h0M879.57 732.1h0M859.34 768.32h0M827.67 717.78h0M815.43 760.96h0M867.56 746.94h0M832.95 738.12h0M859.92 766.7h0M851.08 768.01h0M880.31 689.6h0M884.79 710.22h0M876.46 716.19h0M852.75 773.77h0M848.61 759.6h0M859.87 753.88h0M845.29 753.78h0M848.31 772.74h0M841.39 761.5h0M839.76 767.3h0M872.35 726.68h0M899.59 760.71h0M854.76 768.36h0M867.93 740.93h0M835.33 770.25h0M847.15 772.48h0M836.14 771.5h0M849.08 769.76h0M830.27 766.72h0M846.8 771h0M868.85 738.62h0M886.49 750.07h0M822.61 729.43h0M833.67 743.46h0M838.26 753.54h0M865.15 760.82h0M820.31 683.19h0M871.28 710.5h0M829.84 732.47h0M860.65 768.97h0M843.73 759.52h0M826.01 734.38h0M889.62 744.97h0M850.03 773.92h0M844.31 740.98h0M872.06 712.57h0M873.11 741.35h0M830.51 728.26h0M838.42 757.02h0M874.5 762.15h0M846.66 754.82h0M855.32 763.1h0M866.53 748.98h0M821.63 744.91h0M819.65 713.17h0M847.47 753.52h0M850.09 764.97h0M872.11 750.23h0M847.25 762.39h0M885.27 736.85h0M814.46 742.27h0M813.87 746.23h0M866.62 729.98h0M825.15 753.23h0M866.39 740.76h0M820.08 767.55h0M853.9 773.75h0M844.69 747.41h0M864.29 772.37h0M857.87 758.4h0M869.7 767.75h0M872.03 767.91h0M829.58 696.91h0M850.37 767.77h0M812.52 733.95h0M840.46 769.6h0M871.19 701.09h0M833.28 728.65h0M818.27 756.48h0M853.53 770.22h0M821.6 689.43h0M870.68 744.79h0M843.57 744.37h0M907.61 742.24h0M849.96 768.57h0M826.16 740.89h0M855.39 771.36h0M862.78 743.39h0M848 762.26h0M832.23 741.74h0M881.16 703.16h0M827.61 758.41h0M862.68 765.35h0M858.25 761.13h0M868.98 728.85h0M813.21 765.33h0M879.99 691.29h0M841.04 767.72h0M820.08 693.89h0M838.75 746.8h0M856.89 766.78h0M828.33 755.75h0M851.38 771.57h0M851.55 771.2h0M833.48 753.78h0M822 739.04h0M869.51 710.57h0M836.46 735.32h0M856.6 772.81h0M831.48 729.06h0M855.1 774.03h0M852.89 773.78h0M860.56 768.16h0M842.69 762.57h0M833.37 703.15h0M870.41 731.12h0M833.37 761.46h0M820.98 724.84h0M867.28 761.58h0M877.49 767.01h0M862.12 743.54h0" stroke="#dbdbd7" stroke-width="4.6" stroke-linecap="round" fill="none"/>
<path d="M815.34 701.12h0M793.15 698.06h0M807.29 701.52h0M815.54 694.83h0M814.05 703.44h0M801.23 704.08h0M794.06 698.23h0M795.05 703.61h0M798.71 697.22h0M773.87 694.67h0M802.29 695.32h0M807.38 697.27h0M781.87 694.48h0M790.34 697.92h0M787.93 697.99h0M795.78 702.78h0M813.46 694.19h0M789.98 701.23h0M805.75 697.72h0M808.9 698.73h0M798.78 696.72h0M750.06 681.16h0M791.81 696.69h0M787.1 694.5h0M806.36 703.16h0M758.42 697.12h0M800.39 699.7h0M792.46 699.81h0M791.64 699.64h0M794.71 700.94h0M813.56 704.1h0M805.11 696.01h0M788.22 704h0M799.34 702.76h0M773.88 697.88h0M799.35 696.07h0M786.13 699.69h0M798.62 701.58h0M810.81 703.04h0M814.84 703.8h0M794.19 699.45h0M755.66 688.82h0M808.35 695.21h0M810.31 699.44h0M806.47 699.66h0M806.47 698.09h0M790.01 694.72h0M813.81 696.33h0M800.97 703.85h0M805.06 701.7h0M808.1 698.28h0M815.33 696.4h0M797.43 704.11h0M808.2 696.59h0M777.36 698.01h0M809.18 700.1h0M813.02 697.96h0M800.31 702.77h0M811.21 696.69h0M798.91 698.37h0M815.47 701.5h0M806.41 697.32h0M809.57 700.98h0M810.44 698.86h0M808.52 695.35h0M801.97 699.62h0M815.67 702.55h0M803.39 698.93h0M800.03 694.58h0M805.9 702.09h0M773.17 693.91h0M794.36 697.46h0M814.7 697.06h0M814.39 698.69h0M806.49 696.34h0M814.15 695.45h0M790.55 699.69h0M812.44 694.86h0M808.2 700.92h0M799.51 700.19h0M813.36 703.78h0M785.27 702.98h0M785.89 698.89h0M814.2 694.46h0M808.3 701.17h0M813.62 701.26h0M803.32 696.32h0M794.57 703.58h0M810.37 697.41h0M787.09 695.53h0M793.19 702.4h0M798.37 702.69h0M774.67 702.17h0M801.34 701.87h0M789.06 701.1h0M796.86 695.47h0M805.56 700.08h0M812.71 701.99h0M809.2 695.31h0M810.87 699.47h0M815.32 699.27h0M813.73 696.3h0M813.2 697.47h0M776.09 702.02h0M811.44 700.23h0M780.03 696.53h0M773.71 696.58h0M784.78 697.16h0M799.09 701h0M748.25 679.77h0M795.93 695.56h0M797.83 693.73h0M807.94 703.3h0M775.63 694.2h0M811.89 697.2h0M804.73 693.76h0M793.66 695.73h0M803.13 703.03h0M779.7 694.63h0M803.47 701.76h0M808.38 701.51h0" stroke="#7ee323" stroke-width="4.7" stroke-linecap="round" fill="none"/>
<path d="M765.11 673.32h0M783.36 678.36h0M793.71 677.4h0M766.41 672.8h0M775.67 674.63h0M782.37 675.08h0M782.5 681.75h0M804.67 676.4h0M803.89 680.33h0M804.98 679.55h0M810.39 677.75h0M789.19 673.78h0M773.68 682.64h0M812.16 681.28h0M785.63 681.71h0M757.08 671.15h0M813.48 676.9h0M803.73 675.87h0M798.24 676.29h0M812.86 674.23h0M798.62 672.29h0M796.65 677.48h0M798.98 676.32h0M813.73 681.06h0M780.39 673.83h0M808.27 676.04h0M793.04 673.19h0M812.91 677.21h0M813.75 680.21h0M756.67 669.47h0M802.35 677.04h0M788.32 675.93h0M783.25 672.2h0M799.13 681.86h0M772.94 674.03h0M799.61 676.39h0M793.03 675.99h0M774.11 676.25h0M781.78 679.97h0M803.2 680.17h0M789.49 678.48h0M771.93 677.39h0M771.17 676.52h0M797.55 674.67h0M781.83 677.69h0M810.75 672.49h0M792.27 677.63h0M801.92 681h0M771.33 676.86h0M790.76 681.15h0M778.78 675.45h0M813.72 682.73h0M800.22 679.74h0M809.93 682.66h0M799.37 676.27h0M754.62 664.28h0M800.71 676.46h0M812.78 672.18h0M780.96 675.9h0M806.24 676.01h0M765.29 677.49h0M790.97 678.27h0M806.49 681.99h0M812.94 679.02h0M798.52 676.42h0M802.13 674.84h0M793.85 676.74h0M812.37 677.89h0M813.69 676.71h0M778.27 681.91h0M804.7 676.3h0M799.71 682.77h0M795.74 673.35h0M803.76 682.12h0M778.37 675.52h0M790.61 674.58h0M804.32 676.83h0M802.57 681.58h0M808.9 672.32h0M785.97 675.18h0M796.86 676.01h0M809.21 677.04h0M784.46 677.88h0M812.26 680.82h0M808.35 681.83h0M812.06 681.99h0M799.65 675.54h0M807.42 676.42h0M809.71 677.64h0M807.35 676.87h0M788.87 678.51h0M804.04 681.9h0M805.06 674.6h0M801.76 674.53h0M758.57 675.49h0M780.21 672.89h0M772.28 680.32h0M752.05 665.54h0M789.4 674.96h0M795.5 678.98h0M782.75 680.58h0M783.63 672.74h0M810.14 682.09h0M809.28 681.42h0M805.15 678.47h0M805.12 678.9h0M770.02 679.79h0M815.14 672.8h0M795.1 672.31h0M790.22 675.52h0M809.57 676.62h0M792.78 680.13h0M813.98 678.36h0M797.61 673.04h0M781.45 676.2h0M761.73 678.41h0" stroke="#6de028" stroke-width="4.7" stroke-linecap="round" fill="none"/>
<path d="M814.67 661.59h0M805.28 663.63h0M794.88 661.88h0M806.94 661.7h0M811.39 664.53h0M770.54 661.57h0M784.97 666.18h0M810.35 667.4h0M809.05 664.11h0M800.75 664.67h0M807.98 667.62h0M783.07 662.08h0M808.22 664.95h0M752.85 658.95h0M796.24 666.02h0M768.4 665.57h0M790.36 664.96h0M801.68 665.63h0M811.5 663.29h0M799.64 662.7h0M768.82 661.44h0M799.91 667.46h0M806.94 668.37h0M811.89 670.14h0M799.81 661.74h0M801.59 662.21h0M812.83 667.99h0M790.59 666.15h0M805.7 662.52h0M813.02 670.14h0M787.5 668.64h0M801.33 663.79h0M762.16 664.3h0M769.63 667.52h0M787.17 666.21h0M806.05 664.11h0M814.66 670.63h0M774.92 667.85h0M805.46 669.4h0M802.32 665.55h0M791.74 664.27h0M784.91 669.16h0M785.04 671.57h0M808.43 664.82h0M782.56 664.43h0M800.95 666.42h0M815.37 666.41h0M785.46 664.36h0M783.39 663.94h0M781.75 668.79h0M785.33 669.67h0M774.34 664.69h0M811.04 667.64h0M782.2 670.86h0M792.44 670.08h0M795.11 663.77h0M804.27 671.34h0M809.67 663.51h0M806.47 670.66h0M813.01 661.31h0M795.01 664.46h0M803.83 671.45h0M780.08 664.65h0M751.77 656.89h0M813.79 669.43h0M759.89 663.78h0M776.46 663.67h0M761.67 663.72h0M774.61 661.48h0M814.21 667.46h0M758.79 664.37h0M784.44 670.09h0M768.92 668.83h0M784.66 671.73h0M787.17 661.82h0M772.3 667.91h0M802.5 664.9h0M778.11 668.61h0M787.67 671.62h0M776.04 665.97h0M805.37 669.42h0M797.87 665.11h0M789.28 666.58h0M784.39 666.13h0M793.75 668.14h0M785.44 667.35h0M813.24 665.26h0M796.61 667.64h0M812.78 664.57h0M802.54 667.45h0M811.88 667.37h0M801.11 663.85h0M810.32 664.3h0M773.34 671.21h0M803.16 662.9h0M782.95 663.98h0M800.26 662.01h0M758.83 665.4h0M745.04 643.15h0M800.46 670.88h0M803.01 664.13h0M793.65 670.42h0M777.16 662.97h0M772.61 668.14h0M799.33 669.7h0M793.98 665.52h0M784.93 666.68h0M771.44 664.46h0M788.89 667.71h0M785.39 665.15h0" stroke="#63dc2b" stroke-width="4.7" stroke-linecap="round" fill="none"/>
<path d="M784.19 726.97h0M809.6 725.99h0M798.89 726.79h0M797.6 728.65h0M806.77 727.1h0M812.76 725.74h0M809.07 727.59h0M807.19 726.87h0M793.29 726.81h0M809.91 726.58h0M809.48 727.33h0M813.11 727.8h0M804.37 727.65h0M796.17 728.31h0M802.92 727.8h0M804.42 728.05h0M792.79 726.56h0M797.03 725.4h0M793.47 725.92h0M800.59 727.39h0M811.19 728.48h0M811.49 727.61h0M782.36 726.91h0M785.3 725.48h0M806.05 728.19h0M808.1 728.67h0M813.2 726.9h0M812.46 726.05h0M770.28 727.82h0M787.69 728.15h0M809.96 725.99h0M814.79 726.98h0M779.25 727.72h0M801.7 726.65h0M809.76 727.23h0M803.43 726.15h0M801.59 727.65h0M805.11 725.59h0M815.31 728.37h0M811.91 727.02h0M813.05 726.28h0M787.17 726.36h0M803.71 725.75h0M789.6 725.08h0M792.83 725.13h0M814.11 727.82h0M800.21 728.58h0M813.82 725.65h0M788.92 727.32h0M789.83 725.87h0M808.17 725.4h0M808.29 725.48h0M813.83 726.55h0M801.2 726.67h0M812.05 727.1h0M767.26 728.07h0M788.34 725.19h0M794.34 725.93h0M813.63 728.69h0M784.41 728.12h0M805.53 728.71h0M786.95 727.02h0M810.39 726.95h0M810.46 725.82h0M807.17 728.32h0M813.64 725.25h0M813.05 727.37h0M805.53 727.9h0M814.1 727.17h0M774.91 728.57h0M802.4 728.38h0M793.44 728.33h0M800.62 727.99h0M807.53 727.02h0M813.5 726.05h0M808.29 725.95h0M806.57 725.31h0M799.44 727.27h0M806.41 725.45h0M790.4 726.42h0M804.57 728.67h0M815.3 726.97h0M811.07 726.11h0M789.77 727.42h0M807.69 725.32h0M811.21 725.43h0" stroke="#98e81c" stroke-width="4.7" stroke-linecap="round" fill="none"/>
<path d="M815.24 713.75h0M813.55 707.72h0M790.52 712.03h0M807.1 706.95h0M805.17 704.4h0M803.45 704.74h0M813.85 705.93h0M811.78 707.77h0M800.64 712.42h0M796.07 711.41h0M810.99 713.47h0M808.76 710.75h0M795.44 713.17h0M805.77 711.03h0M808.24 708.74h0M779.03 708.9h0M780.43 706.34h0M813.68 713.28h0M787.31 710.58h0M801.76 713.45h0M798.27 708.36h0M815.04 711.97h0M813.31 712.19h0M792.69 713.78h0M808.37 714.51h0M776.4 709.08h0M791.68 711.57h0M793.33 704.37h0M814.31 709.63h0M790.12 710.52h0M798.85 713.07h0M804.79 709.22h0M814.61 709.21h0M808.52 709.71h0M758.86 710.79h0M794.18 706.42h0M792.31 712.16h0M805.79 711.12h0M797.46 710.53h0M776.77 706.74h0M807.9 704.48h0M815.08 706.47h0M799.96 707.18h0M803.05 706.19h0M810.08 706.87h0M806.26 710.63h0M812.5 704.43h0M809.86 706.02h0M810 712.85h0M782.63 713.85h0M811.98 712.82h0M813.52 714.24h0M801.87 711.22h0M806.41 713.84h0M806.37 710.11h0M800.82 706.96h0M814.03 707.78h0M782.46 710.02h0M812.65 704.8h0M775.21 707.73h0M781.7 707.33h0M808.46 710.17h0M786.1 707.37h0M788.71 713.39h0M808.57 706.84h0M804.14 704.69h0M803.52 707.17h0M808.36 708.17h0M800.96 712.92h0M802.09 711.34h0M787.6 706.25h0M814.04 704.42h0M781.67 706.44h0M813.2 708.07h0M791.97 708.23h0M807.06 709.84h0M812.2 711.43h0M805.9 711.59h0M814.28 713.16h0M814.47 708.24h0M811.13 712.49h0M815.2 712h0M792.94 713.27h0M808.57 713.93h0M797.65 712.49h0M808.39 714.27h0M809.13 707.83h0M807.61 709.39h0M813.48 707.85h0M815.31 713.98h0M789.89 712.03h0M791.6 712.78h0M813.94 706.12h0M776.06 704.59h0M812.28 706.34h0M778.35 704.71h0M778.66 709.49h0M807.09 714.25h0M776.44 714.06h0M813.42 710.57h0M814.87 705.69h0M797.51 713.11h0M805.73 713.29h0M799.48 708.96h0M792.31 709.53h0M810.62 705.32h0M786.49 707.35h0M806.25 705.78h0M790.4 710.85h0M810.11 707.54h0M812.84 713.49h0M812.81 705.61h0M798.77 711.89h0M805.93 706.3h0M806.27 711.79h0M810.85 707.77h0M797.59 708.62h0M811.82 706.4h0M791.52 706.67h0M797.46 706.66h0M812.77 709.46h0M809.42 711.99h0M781.93 710.98h0M806.88 713.76h0M800.66 710.82h0M786.3 706.05h0M801.31 712.42h0M806.42 707.98h0M795.88 708.78h0M801.89 707.57h0M793.39 705.12h0M809.47 706.83h0M794.58 705.85h0M780.5 709.37h0M810.41 708.31h0M780.62 705.51h0M777.94 712.76h0M808.63 709.7h0M802.67 709.88h0M801.18 712.77h0M807.34 706.55h0M798.02 712.81h0M799.3 711.42h0M807.75 712.21h0M783.9 713.01h0M797.81 709.6h0M813.21 712.58h0M785.93 712.46h0M788.89 708.84h0M806.91 710.42h0M815.01 705.54h0M804.71 707.11h0M813.65 710h0M801.12 704.9h0" stroke="#87e521" stroke-width="4.7" stroke-linecap="round" fill="none"/>
<path d="M813.58 716.98h0M811.33 717.35h0M812.29 719.91h0M791.77 721.06h0M797.62 720.75h0M773.7 723.25h0M811.88 723.74h0M807.24 724.45h0M813.11 723.02h0M801.18 723.08h0M798.41 724h0M793.26 717.87h0M788.63 717.5h0M805.59 715.27h0M808.27 721.54h0M808.47 715.92h0M809.32 715.3h0M751.03 709.12h0M810.6 721.24h0M792.57 725h0M792.34 720.27h0M810.5 716.39h0M794.97 718.07h0M806.46 721.67h0M813.27 715.59h0M808.16 720.51h0M813.16 720.64h0M811.99 724.27h0M809.48 725.04h0M815.14 719.49h0M793.69 723.34h0M798.37 724.11h0M795.66 714.83h0M746.7 691.01h0M814.26 724.55h0M806.08 720.21h0M813.21 718.42h0M805.08 719.21h0M808.29 720.72h0M812.53 720.17h0M791.49 716.55h0M810.23 722.62h0M790.84 714.86h0M808.44 720.58h0M809.06 719.62h0M810.78 715.08h0M809.84 723.6h0M813.2 718.3h0M769.51 722.57h0M802.23 716.91h0M792.31 715.41h0M814.04 718.91h0M801.97 715.14h0M792.13 722.36h0M803.28 722.42h0M813.5 715.29h0M814.07 716.69h0M796.25 715.67h0M794.04 722.51h0M808.98 719.78h0M809.14 724.34h0M810.51 717.13h0M800.26 718.74h0M797.24 723.88h0M774.75 724.06h0M801.5 720.65h0M810.22 717.64h0M815.51 724.23h0M811.79 722.03h0M801.52 723h0M806.83 724.58h0M810.58 717.33h0M810.83 720.72h0M788.97 718.5h0M770.24 722.09h0M808.7 721.27h0M806.53 718.83h0M802.15 715.89h0M792.48 724.57h0M798.21 724.59h0M808.8 723.81h0M813.92 724.88h0M793.64 724.08h0M804.88 720.82h0M814.49 724.17h0M812.39 718.03h0M763.46 718.05h0M800.22 721.31h0M814.4 715.17h0M789.45 720.16h0M809.46 722.15h0M803.22 722.95h0M809.36 722.94h0M812.81 722.37h0M779.2 718.4h0M799.11 720.63h0M810.94 718.67h0M779.11 717.04h0M804.36 724.82h0M805.78 721.23h0M813.24 715.55h0M810.77 717.94h0M804.34 718.57h0M794.52 716.45h0M810.07 723.73h0M796.27 723.15h0M805.04 719.21h0M812.87 718.89h0M795.68 717.18h0M807.17 720.56h0M814.08 723.18h0M802.98 722.68h0M787.75 724.88h0M809.52 720.85h0M813.55 720.27h0M796.88 723.09h0M801 722.09h0M792.22 719.19h0M806.84 719.17h0M790.5 721.48h0M794.36 716.46h0M807.44 724.81h0M807.38 718.91h0M793.06 719.8h0M806.45 722.27h0M812.67 719.77h0M805.19 723.35h0M797.7 720.45h0M801.22 724.76h0M813.26 718.14h0M794.76 720.34h0M815.06 718.83h0M805.3 717.43h0M814 716.93h0M782.45 721.47h0M807.27 721.82h0M778.04 722.53h0M805.41 716.88h0M793.97 718.45h0M789.99 722.34h0M808.27 715.87h0M794.4 716h0M786.28 718.46h0M801.41 718.48h0M802.35 715.65h0M803.15 719.42h0M796.19 720.13h0M783.28 715.74h0M789.38 722.88h0M778.74 719.31h0M809.01 716.92h0M806.59 724.46h0M808.13 720.1h0M807.05 722.79h0M786.35 719.45h0M801.09 717.7h0M788.87 723.65h0M813.53 723.68h0M810.9 718.46h0M806.06 715.75h0M803.25 722.88h0M815.2 721.89h0M809.23 717.49h0M803.07 716.45h0M813.5 723.69h0M811.36 719.8h0M807.83 719.44h0M814.3 722.29h0M803.57 717.8h0M787.6 717.07h0M808.93 722.92h0M800.4 722.08h0M801.49 718.47h0M782.1 720.06h0M810.79 719.98h0M811.87 721h0M800.44 717.84h0M781.13 723.34h0M783.9 715.26h0M808.91 717.71h0M775.97 716.03h0M803.6 723.03h0" stroke="#8fe61e" stroke-width="4.7" stroke-linecap="round" fill="none"/>
<path d="M780.1 645.02h0M813.41 648.26h0M764.2 648.14h0M764 646.99h0M779.49 649.15h0M814 645.95h0M756.09 637.69h0M785.63 648.19h0M765.26 648.93h0M782.45 645.34h0M788.28 649.73h0M813.9 648.29h0M791.14 642.66h0M800.41 642.99h0M809.85 642.29h0M798.57 646.25h0M779.08 648.73h0M809.9 640.92h0M781.1 639.44h0M784.06 648.26h0M771.54 644.25h0M786.04 646.8h0M811.45 647.83h0M807.35 644.82h0M795.75 644.94h0M783.14 645.03h0M807.87 642.33h0M793.69 641.81h0M812.25 640.34h0M796.52 643.18h0M801.39 641.85h0M785.42 645.78h0M800.54 648.26h0M780.6 643.21h0M806.68 649.81h0M799.76 649.02h0M810.42 649.2h0M788.42 649.99h0M779.5 640.2h0M790.09 646.19h0M753.36 637.79h0M774.43 640.45h0M779.43 649.68h0M786.36 643.6h0M760.95 641.98h0M757.14 645.76h0M763.11 646.53h0M811.25 645.53h0M788.94 648.02h0M808.12 643.86h0M807.47 648.92h0M756.3 640.61h0M787.23 642h0M767.96 641.88h0M747.45 619.23h0M762.7 642.03h0M755.89 640.02h0M806.14 645.2h0M795.99 642.13h0M766.47 639.55h0M797.58 649.59h0M781.43 641.66h0M810.29 642.27h0M783.97 643.96h0M753.16 636.52h0M780.31 648.14h0M810.52 647.09h0M799.15 644.59h0M806.04 648.5h0M801.19 642.92h0M781.29 645.21h0M787.14 640.58h0M773.14 642.3h0M810.88 645.68h0M802.47 648.46h0M766.42 639.35h0M811.54 639.74h0M780 648.82h0M795.42 649.25h0M797.71 645.94h0M784.96 644.37h0" stroke="#4ed630" stroke-width="4.7" stroke-linecap="round" fill="none"/>
<path d="M795.78 692.9h0M791.77 687.94h0M797.77 691.89h0M778.76 692.51h0M807.85 684.33h0M802.08 692.6h0M752.07 670.77h0M812.94 682.95h0M779.79 690.73h0M796.31 692.49h0M789.34 693.62h0M800.45 690.89h0M811.39 686.91h0M785.62 689.71h0M809.1 684.56h0M802.39 686.97h0M810.09 692.41h0M791.74 689.31h0M804.89 683.93h0M811.44 692.45h0M750.92 667.56h0M812.54 689.34h0M789.13 683.33h0M801.83 686.09h0M800.92 684.16h0M789.19 689.31h0M767.9 687.98h0M804.26 690.21h0M782.92 685.94h0M802.7 682.85h0M787.96 688.7h0M812.38 691.55h0M806.91 685.87h0M773.22 685.77h0M799.26 691.86h0M804.39 693.63h0M813.98 687.44h0M794.07 690.09h0M803.85 690.96h0M793.92 689.93h0M778.67 687.76h0M809.9 684.1h0M782.33 683.29h0M782.22 689.42h0M809.73 686.04h0M797.47 685.7h0M789.2 691.94h0M777.49 684.75h0M809.17 692.16h0M807.54 691.33h0M763.8 688.36h0M803.62 689.65h0M799.19 689.52h0M814.42 689.16h0M811.18 685.08h0M801.02 687.04h0M806.65 687.78h0M806.9 684.92h0M815.6 687.49h0M811.68 692.76h0M811.5 692.69h0M813.7 686.54h0M801.27 686.24h0M795.26 688.18h0M771.54 691.53h0M790.2 688.17h0M795.31 688.23h0M794.48 693.63h0M806.43 693h0M813.49 690.52h0M807.2 690.77h0M803.03 687.45h0M789.14 690.21h0M798.74 693.49h0M797.32 683.16h0M783.72 690.13h0M800.8 686.12h0M806.41 684.49h0M801.06 689.66h0M802.65 688.46h0M810.54 688.89h0M808.26 689.8h0M806.61 687.17h0M809.6 683.93h0M787.25 686.34h0M801.93 687.67h0M790.28 690.02h0M814.53 688.75h0M806.58 690.32h0M797.86 689.42h0M814.61 692.34h0M811.68 692.04h0M770.4 688.15h0M786.84 683.7h0M791.33 688.96h0M799.7 689.71h0M797.17 691.85h0M797.28 686.94h0M814.01 684.84h0M812.68 692.93h0M801.36 690.43h0M781.43 691.88h0M812.2 683.88h0M812.6 689.3h0M804.1 690.53h0M814.2 691.14h0M788.73 683.31h0M787.06 684.45h0M805.63 683.33h0M799.82 692.89h0M810.36 690.53h0M811.42 686.73h0" stroke="#76e126" stroke-width="4.7" stroke-linecap="round" fill="none"/>
<path d="M784.65 654.22h0M789.27 657.61h0M806.15 659.11h0M795.07 652.57h0M782.14 659.26h0M800.28 651.63h0M768.4 653.39h0M785.63 658.79h0M797.62 656.2h0M768.49 650.32h0M813.44 652.14h0M803.78 657.63h0M815.52 655.56h0M810.23 650.46h0M801.45 658.47h0M787.65 659.5h0M788.12 655.23h0M777.86 650.67h0M806.44 656.8h0M805.26 655.76h0M784.88 657.73h0M776.36 657.08h0M800.73 655.64h0M778.77 659.6h0M797.07 656.03h0M771.87 658.91h0M787.46 652.18h0M799.55 660.83h0M804.34 651.75h0M802.41 653.33h0M780.6 657.05h0M782.99 651.77h0M810.07 655.17h0M758.84 654.45h0M812.09 661.04h0M797.73 653.67h0M804.64 651.71h0M765.91 659.64h0M772.42 657.64h0M801.85 651.26h0M795.43 654.37h0M799.56 657.05h0M756.34 652.18h0M806.16 659.51h0M800.97 658.49h0M795.21 655.17h0M787.78 650.39h0M757.5 655.48h0M772.48 650.58h0M789.31 651.97h0M815.18 655.15h0M768.92 658.35h0M785.58 650.69h0M793.79 650.85h0M799.25 651.08h0M781.59 656.71h0M778.69 659.08h0M805.91 652.66h0M785.14 653.4h0M796.9 657.64h0M803.41 660.01h0M781.4 657.79h0M786.57 654.16h0M786.74 655.75h0M807.56 658.77h0M797.59 659.94h0M785.27 657.27h0M815.39 654.93h0M785.91 653.24h0M794.42 659.66h0M809.39 658.93h0M796.92 660.66h0M807.84 651.9h0M814.09 653.05h0M759.72 650.75h0M771.21 659.42h0M805.65 655.24h0M807.72 653.23h0M796.8 651.24h0M811.07 658.63h0M805.18 659.98h0M813.06 656.31h0M768.18 652.91h0M794.92 660.68h0M791.58 657.54h0M765.61 650.87h0M815.53 650.14h0M799.88 660.68h0M788.95 655.03h0M795.71 650.8h0M813.24 654.74h0M797.19 652.64h0M750.49 637.94h0M806.91 658.07h0M812.13 660.3h0M794.98 659.89h0M808.97 661.04h0M811.08 660.04h0M776.1 650.65h0M810.93 660.2h0M807.06 659.32h0M763.27 657.12h0M795.53 654.71h0M801.6 658.14h0M809.55 652.98h0M791.72 650.25h0" stroke="#59d92d" stroke-width="4.7" stroke-linecap="round" fill="none"/>
<path d="M808.32 598.25h0M762.22 597.15h0M808.76 601.76h0M794.3 597.37h0M807.35 604.15h0M811.78 600.11h0M801.37 595.06h0M805.06 602.05h0M810.32 605.05h0M803.57 602.95h0M802.94 596.6h0M765.71 603.1h0M759.8 601.04h0M801.52 598.41h0M760.94 595.92h0" stroke="#2ecc36" stroke-width="4.7" stroke-linecap="round" fill="none"/>
<path d="M796.51 625.54h0M795.25 623.21h0M775.48 621.67h0M753.11 612.63h0M800.78 622.4h0M796.29 623.42h0M797.84 621.73h0M773.76 624.5h0M803.69 626.46h0M809.86 626.61h0M797.5 625.53h0M803.12 626.69h0M788.01 623.43h0M772.63 624.86h0M802.13 625.63h0M787.24 626.64h0M753.49 608.43h0M781.53 625.3h0M789.09 620.02h0M788.09 620.34h0M795.39 624.61h0M805.4 628.05h0M803.42 624.73h0M769.85 623.1h0M815.07 628.09h0" stroke="#3bd034" stroke-width="4.7" stroke-linecap="round" fill="none"/>
<path d="M806.15 630.62h0M801.63 638.33h0M768.84 630.41h0M770.27 634.59h0M776.31 629.8h0M798.64 633.66h0M786.99 635.87h0M806.75 638.47h0M760.41 630.62h0M794.41 636.27h0M792.38 639.17h0M796.22 630.33h0M771.04 638.45h0M782.76 632.68h0M781.36 633.46h0M773.82 632.1h0M804.33 631.36h0M790.48 637.25h0M783.3 637.76h0M774.05 633.3h0M792.19 632.12h0M762.92 638.72h0M804.48 637.63h0M811.58 635.72h0M809.52 634.02h0M787.02 636.14h0M804.63 638.5h0M792.72 632.98h0M789.9 637.1h0M792 634.59h0M752 616.51h0M791.72 635.96h0M794.01 636.85h0M765.48 636.16h0M751.79 617.4h0M790.84 629.36h0M802.85 628.72h0" stroke="#44d332" stroke-width="4.7" stroke-linecap="round" fill="none"/>
<path d="M800.36 581.7h0M803.02 579.31h0M762.38 578.31h0M762.6 573.94h0M796.96 575.64h0M792.43 578.23h0M801.83 576.2h0M792.44 578.38h0" stroke="#22c838" stroke-width="4.7" stroke-linecap="round" fill="none"/>
<path d="M792.56 610.55h0M797.16 611.77h0M812.1 612.48h0M810.31 613.95h0M755.85 610.03h0M805.91 609.73h0M799.24 609.53h0M807.16 608.92h0M759.78 606.83h0M805.14 607.49h0M808.81 612.73h0M775.97 609.05h0M794.9 614.86h0M800.12 614.54h0M773.47 605.55h0M813.36 610.89h0M796 612.9h0M804.41 608.6h0" stroke="#35ce35" stroke-width="4.7" stroke-linecap="round" fill="none"/>
<path d="M792.89 589.02h0M789.33 585.87h0M811.44 590.98h0M766.03 593.38h0M792.87 590.04h0M784.01 586.49h0M777.1 592.04h0M759.6 587.78h0M766.82 593.52h0" stroke="#28ca37" stroke-width="4.7" stroke-linecap="round" fill="none"/>
<path d="M913.69 635.6h0M912.78 660.07h0M915.07 684.09h0M917.18 696.63h0M918.07 715.61h0M917.13 710.58h0M910.49 641.35h0M916 675.69h0M917.14 707.99h0M913.35 661.86h0M912.36 673.13h0M915.78 666.41h0M905.74 592.66h0M915.02 719.12h0M915.1 712.71h0M913.84 655.53h0M918.22 663.21h0M910.1 639.79h0M914.32 679.91h0M918.72 728.17h0M917.35 670.12h0M915.66 680.06h0M915.39 649.38h0M913.95 724.56h0M917.26 725.83h0M915.29 654.54h0M902.02 590.05h0M913.46 702.54h0M912.78 718.6h0M912.41 672.87h0M914.57 672.96h0M913.39 691.68h0M912.72 727.82h0M915.89 710.46h0M912.2 715.6h0M914.59 728.13h0M909.82 616.79h0M913.23 692.04h0M909.06 618.08h0M913.39 633.2h0M911.34 639.17h0M909.4 623.9h0M901.9 598.18h0M914.07 687.51h0M912.98 672.73h0M918.06 677.7h0M915.74 676.55h0M917.57 679.09h0M910.35 652.37h0M912.64 684.56h0M917.32 723.23h0M917.87 713.77h0M908.78 643.91h0M917.75 667.32h0M912.7 685.98h0M916.96 699.58h0M917.36 659.37h0M916.84 655.71h0M912.49 672.75h0M913.47 719.44h0M917.73 697.29h0M917.28 691.06h0M916.13 675.55h0M915.1 726.04h0M912.32 692.99h0M912.39 693.13h0M903.78 606.68h0M912.68 705.42h0M916.36 666.09h0M898.77 562.51h0M916.77 657.9h0M917.47 701.3h0M914.11 674.77h0M918.44 697.59h0M917.17 660.39h0M908.91 645.16h0M914.11 688.81h0M913.38 677.08h0M914.47 653.36h0M908.48 642.03h0M915.56 701.62h0M917.7 674.62h0M914.14 694.99h0M914.86 703.91h0M914.59 680.57h0M918.36 698.59h0M918.43 721.9h0M914.51 717.17h0M916.84 690.7h0M908.22 608.42h0M915.08 659.62h0M916.54 682.85h0M913.45 708.58h0M915.91 725.04h0M906.62 623.25h0M914.51 725.07h0M916.34 706.53h0M915.5 682h0M915.58 701.03h0M913.27 647.59h0M918.44 722.81h0M912.53 718.36h0M916.84 662.63h0M912.43 712.37h0M912 662.07h0M918.29 676.83h0M912.17 703.11h0M905.24 617.11h0M915.02 706.63h0M901.74 597.36h0M913.38 701.98h0M915.32 712.34h0M905.78 615.32h0M915.17 706.69h0M912.34 682.47h0M915.39 725.55h0M916.1 728.15h0M916.27 719.95h0M911.68 651.28h0M902.85 581.58h0M907.27 605.75h0M912.57 679.64h0M899.38 558.3h0M902.89 593.35h0M911.22 651.13h0M918.47 693.51h0M916.4 721.23h0M914.02 678.34h0" stroke="#0e7b83" stroke-width="4.7" stroke-linecap="round" fill="none"/>
<path d="M937.63 661.92h0M921 586.13h0M938.17 721.05h0M935.67 720.86h0M924.79 610.96h0M934 678.02h0M931.62 638.51h0M933.08 713.04h0M923.02 571.96h0M926.06 621.66h0M936.85 708.79h0M928.76 609.23h0M933.02 693.26h0M933.43 670.79h0M928.86 606.46h0M935.8 677.62h0M934.85 714.9h0M938.46 666.39h0M937.87 673.11h0M937.47 668.47h0M932.53 675.58h0M934.3 685.47h0M934.57 651.49h0M926.87 628.99h0M933.04 644.95h0M921.73 570.85h0M932.12 646.22h0M931.94 642.86h0M934.26 656.41h0M931.32 652.97h0M937.96 659.81h0M936.5 695.22h0M913.37 545.31h0M934.82 671.61h0M935.93 646.47h0M936.65 711.77h0M937.97 708.14h0M935.04 651.63h0M914.65 541.25h0M937.93 664.46h0M935.84 694.37h0M930.23 631.46h0M919.17 576.67h0M932.34 660.13h0M934.66 653.55h0M930.25 649.82h0M932.97 666.33h0M932.78 725.97h0M935.85 687.12h0" stroke="#13688a" stroke-width="4.7" stroke-linecap="round" fill="none"/>
<path d="M910.13 714.39h0M907.05 689.57h0M909.14 670.85h0M911.88 711.54h0M906.22 671.56h0M903.46 643.38h0M909.04 656.28h0M908.47 725.85h0M903.95 647.54h0M911.55 667.03h0M890.74 573.55h0M906.32 710.42h0M907.09 677.9h0M906.35 719.44h0M905.68 682.29h0M900.54 629.91h0M906.86 644.44h0M908.93 702.94h0M909.31 651.34h0M907.56 711.2h0M906.74 688.88h0M905.97 675.07h0M911.44 683.48h0M907.42 699.01h0M911.16 678.18h0M910.79 669.67h0M906.73 669.28h0M903.12 644.89h0M904.04 637.5h0M905.78 727.27h0M907.83 714.2h0M906.58 673.34h0M905.97 724.54h0M911 662.76h0M910.62 724.18h0M907.44 722.11h0M908.88 658.26h0M910.08 656.35h0M900.67 616.14h0M910.17 677.59h0M907.75 725.77h0M909.84 712.77h0M907.18 709.59h0M910.73 715.21h0M911.08 687.8h0M909.69 718.86h0M908.08 710.52h0M909.28 700.25h0M906.04 725.84h0M910.69 725.52h0M911.74 689.03h0M906.24 630.08h0M906.93 717.44h0M905.53 722.35h0M909.91 655.68h0M911.63 716.26h0M892.87 557.25h0M910.65 683.53h0M910.24 706.67h0M907.34 667.92h0M908.53 696.84h0M907.97 723.81h0M906.8 716.77h0M909.03 649.59h0M911.21 675.25h0M904.33 633.78h0M908.81 727.39h0M906.63 648.9h0M907.17 678.28h0M908.04 708.08h0M911.02 725.96h0M906.9 723.84h0M906.48 659.73h0M908.29 728.69h0M909.42 659.62h0M907.51 721.83h0M908.54 698.54h0M907.51 725.61h0M910.31 698.36h0M910.37 699.21h0M907.7 712.74h0M908.29 666.12h0M908.53 646.58h0M909.22 691.05h0M906.48 684.57h0M909.4 714.41h0M911.84 700.42h0M909.42 691.89h0M901.04 615.88h0M908.8 710.36h0M910.38 666.36h0M906.56 693.08h0M909.03 724.09h0M902.8 642.27h0M906.13 720.25h0M910.69 691.82h0M908.2 668.86h0M909.21 676.22h0M906.45 657.89h0M907.14 698.52h0M910.18 663.19h0M905.76 723.1h0M908.73 689.76h0M909.67 727.59h0M905.77 637.65h0M905.47 653.07h0M905.5 659.71h0M907.59 700.38h0M903.34 633.45h0M908.02 662.94h0M900.68 621.74h0M907.73 650.64h0M905.89 710.33h0M909.83 680.12h0M908.55 718.07h0M905.7 679.35h0M909.93 723.55h0M911.16 705.15h0M906.79 642.64h0M906 672.6h0M907.42 703.14h0M902.32 645.87h0M907.77 680.02h0M910.97 711.61h0M909.32 647.74h0M907.55 678.12h0M911.02 663.87h0M907.26 722.06h0M895.25 586.75h0M904.44 643.48h0M908.34 654.2h0M908.23 719.12h0M910.17 683.13h0M907.15 722.36h0M908.48 719.14h0M909.37 724.75h0M911.28 693.97h0M905.9 723.18h0M908.62 722.27h0M906.85 711.36h0M911.12 672.88h0M909.28 708.45h0M906.55 659.38h0M903.81 625.68h0M907.85 660.38h0M908.92 727.26h0M908.02 727.59h0M906.56 680.68h0M907.11 726.41h0M907.95 695.48h0M907.63 719.05h0M911.29 722.47h0M911.02 722.17h0M910.63 714.33h0M905.37 703.04h0M906.76 714.53h0M899.72 627.65h0M909.63 683.95h0M909.45 667.7h0M907.96 698.56h0M902.05 637.17h0M909.69 721.08h0M910.37 695.26h0M906.24 726.69h0M906.94 676.27h0M908.75 664.51h0M908.11 655.68h0M908.5 727.68h0M896.13 603.13h0M906.03 633.13h0M911.65 726.12h0M906.39 670.89h0M911.62 667.17h0M906.58 728.6h0M906.28 720.73h0M910.44 689.01h0M906.72 639.33h0M910.97 726.24h0M907.84 724.24h0M908.94 719.74h0M911.11 715.94h0M909.64 650.62h0M912.04 702.14h0M906.76 707.33h0M910.28 655.95h0M911.68 698.44h0M903.29 646.64h0M905.45 718.75h0M906.26 666.89h0" stroke="#0c817d" stroke-width="4.7" stroke-linecap="round" fill="none"/>
<path d="M902.03 650.58h0M901.18 706.72h0M900.47 666.35h0M902.85 675.66h0M901.59 699.68h0M903.76 665.9h0M901.55 723.78h0M904.24 664.7h0M903.77 721.25h0M902.39 667.3h0M902.96 653.69h0M900.89 723.02h0M902.91 724.01h0M900.36 651.25h0M896.27 635.98h0M900.14 696.96h0M905.06 693.54h0M894.08 600.96h0M899.17 726h0M891.75 587.11h0M902.07 689.73h0M897.72 641.01h0M904.2 705.08h0M893.2 626.91h0M899.68 660.89h0M901.37 718.12h0M901.07 684.78h0M902.34 725.51h0M895.54 634.65h0M901.19 707.28h0M902.3 728.19h0M899.43 716.22h0M904.21 675.92h0M901.93 714.96h0M899.09 727.43h0M902.04 670.79h0M903.51 711.14h0M897.66 647.79h0M901.28 698.8h0M899.36 698.42h0M904.05 708.89h0M902.97 711.6h0M899.41 719.32h0M903.84 707.62h0M904.91 674.38h0M899.06 692.7h0M894.94 631.5h0M905.26 675.27h0M905.35 707.86h0M903.37 720.2h0M899.02 705.42h0M899.66 674.17h0M899.64 698.95h0M902.12 667.89h0M898.31 652.44h0M898.94 717.5h0M899.7 725.83h0M895.76 642.52h0M900.8 725.57h0M905.19 710.3h0M904.51 724.78h0M901.94 656.65h0M905.12 728.62h0M901.35 699.53h0M900.1 664.98h0M893.76 630.77h0M899.48 672.65h0M898.89 685.89h0M900.61 688.49h0M901.23 696.54h0M898.99 657.43h0M902.4 728.18h0M901.51 721.61h0M896.16 642.58h0M904.27 716.49h0M903.3 723h0M898.05 632.79h0M903.47 657.13h0M900.39 641.96h0M897.3 652.66h0M905.03 726.88h0M903.58 712.27h0M901.41 721.7h0M904.75 721.74h0M903.09 690.37h0M901.81 702.86h0M902.15 668.85h0M899.24 635.58h0M905.35 669.89h0M904.71 667.28h0M899.13 694.23h0M903.54 715.1h0M901.9 704.37h0M904.89 700.42h0M901.2 696.09h0M902.16 652.47h0M900.7 683.54h0M904.27 708.21h0M899.27 708.06h0M900.88 654.08h0M903.08 723.8h0M899.27 676.76h0M899.38 694.52h0M903.05 713.77h0M900.43 681.71h0M903.68 692.5h0M899.85 661.74h0M903.02 661.14h0M904.52 714.75h0M901.31 722.99h0M899.74 702.9h0M901.19 675.43h0M900.07 640.25h0M902 654.22h0M902.12 674.52h0M899.36 727.03h0M899.23 706.48h0M904.44 725.62h0M899.49 686.95h0M898.98 664.43h0M899.04 718.64h0M901.77 654.06h0M901.09 676.55h0M902.84 685.75h0M901.99 726.66h0M903.17 680.75h0M903.62 720.46h0M905.07 718.6h0M901.17 725.96h0M901.61 719.74h0M903.68 718.51h0M900.04 704.34h0M904.67 718.99h0M900.86 720.87h0M903.35 688.15h0M902.7 693.55h0M900.3 666.04h0M903.11 708.89h0M901.21 696.55h0M902.41 722.05h0M898.69 693.76h0M901.51 699.84h0M897.89 649.32h0M897.19 646.56h0M902.24 681.6h0M899.05 643.97h0M903.21 665.95h0M899.6 678.07h0M904.85 705.85h0M897.39 645.91h0M896.02 611.88h0M902.95 700.78h0M904.91 728.31h0M900.69 648.59h0M901.25 643.61h0M900.85 699.94h0M904.93 727.43h0M904.48 691.9h0M900.43 726.24h0M902.95 661.84h0M902.26 697.72h0M902.89 726.01h0M891.94 606.49h0M903.41 720.16h0M899.37 669.48h0M901.65 661.54h0M897.99 657.13h0M903.06 710.35h0M899 721.23h0M893.01 630.86h0M903.72 725.11h0M904.09 673.48h0M890.07 585.63h0M897.32 652.2h0M902.57 727.2h0M897.89 637.04h0M902.65 708.87h0M900.95 682.86h0M904.34 686.7h0M903.75 724.43h0M901.07 716.35h0M901.8 706.23h0M898.84 687.81h0M903.55 688.27h0M901.25 693.42h0M901.63 708.21h0M896.63 647.32h0M900.92 727.26h0M904.71 711.94h0M905.11 720.99h0M898.73 726.44h0M899.33 684.58h0M904.03 715.06h0M901.16 648.01h0M902.5 659.19h0M901.63 654.84h0M903.44 726.66h0M904.06 711.81h0M902.19 711.85h0M900.52 725.77h0M901.89 701.98h0M904.66 715.98h0M903.79 671.35h0M902.23 679.19h0M900.7 674.75h0M902.88 709.96h0M903.91 698.4h0M903.32 717.04h0M901.5 659.95h0M901.77 711.47h0M902.63 726.09h0M901.73 714.73h0M905.35 670.48h0M904.31 680.46h0M902.87 719.08h0M904.84 671.62h0M899.72 663.36h0M899.67 727.13h0M902.86 727.2h0M901.33 679.75h0M899.05 655.45h0M904.44 719.78h0M900.52 665.08h0M898.93 720.78h0M905 717.65h0M904.03 662.09h0M899.95 701.5h0M899.35 705.92h0M897.01 640.72h0M904.42 664.96h0M904.22 725.46h0M898.13 624.09h0M902.19 674.96h0M904.63 667.59h0M900.62 646.05h0" stroke="#0b8777" stroke-width="4.7" stroke-linecap="round" fill="none"/>
<path d="M896.27 678.35h0M896.13 724.52h0M897.14 727.96h0M896.16 708.07h0M897.4 703.01h0M894.2 688.79h0M895.04 724.46h0M896.8 671.4h0M894.75 715.09h0M896.47 676.35h0M892.27 724.77h0M895.55 725.69h0M892.15 672.3h0M893.58 647.05h0M897.71 676.61h0M893.52 667.06h0M893.81 676.55h0M894.78 728.79h0M895.84 685.79h0M897.73 699.15h0M893.6 693.92h0M896.74 665.12h0M892.01 657.32h0M896.75 664.91h0M892.75 713.6h0M894.79 718.54h0M892.62 727.54h0M896.64 699.66h0M896.75 678.82h0M894.44 683.55h0M892.54 714.82h0M898.29 707.43h0M892.87 708.78h0M892.35 702.11h0M893.83 678.65h0M896.42 713.23h0M897.08 697.04h0M893.67 697.12h0M894.82 695.63h0M892.02 704.42h0M894.3 698.38h0M893.54 692.75h0M898.33 683.22h0M893.03 716.07h0M892.55 706.03h0M894.76 725.48h0M895.43 650.23h0M898.57 724.18h0M896.6 723.17h0M896.13 686.21h0M897.03 693.83h0M893.45 676.82h0M895.48 667.44h0M897.41 667.94h0M892.4 674.6h0M895.05 728.21h0M898.48 710.61h0M894.09 722.16h0M896.85 680.19h0M889.59 645.61h0M897.31 716.03h0M898.01 705.44h0M894.63 675.59h0M897.65 711.3h0M895.16 698.54h0M896.13 687.63h0M894.7 698.82h0M897.63 689.01h0M894.14 707.89h0M894.16 708.9h0M893.25 713.12h0M894.88 670.09h0M892.53 722.76h0M893.59 642.78h0M897.88 703.39h0M897.52 692.09h0M898.17 709.69h0M895.2 672.1h0M894.49 685.81h0M892.92 636.67h0M898.56 720.84h0M892.73 672.44h0M898.42 724.14h0M897.98 714.25h0M893.08 677.9h0M894.66 700.52h0M895.99 724.93h0M892.37 683.79h0M892.01 694.04h0M898.44 725.86h0M893.45 677.73h0M893.53 722.43h0M896.15 724.37h0M894.88 693.12h0M894.88 667.73h0M890.93 650.32h0M897.06 706.82h0M892.46 655.88h0M894.12 684.81h0M892.22 682.83h0M896.89 723.86h0M895.73 714.89h0M892.77 717.09h0M895.02 721.83h0M890.48 654.21h0M897.05 664.66h0M897.06 704.77h0M894.08 691.24h0M897.44 693.95h0M892.23 665.44h0M895.28 696.15h0M895.2 672.95h0M897.18 692.15h0M897.78 720.02h0M892.33 677.22h0M897.33 717.59h0M897.58 667.25h0M892.31 654.06h0M894.26 709.24h0M894.08 716.24h0M892.7 655.06h0M898.46 695.5h0M895.26 657.91h0M895.02 722.02h0M893.12 682.73h0M894.02 660.41h0M895.36 723.28h0M897.55 722.67h0M892.12 679.2h0M893.88 726.18h0M897.36 705.09h0M896.81 697.26h0M897.23 676.8h0M892.26 704.02h0M892.97 705.87h0M898.38 718.55h0M895.8 708.23h0M892.51 703.57h0M897.71 693.54h0M892.25 721.38h0M893.42 727.69h0M892.69 669.61h0M892.7 667.87h0M897.41 668.42h0M895.65 706.71h0M895.83 688.8h0M894.14 706.71h0M897.73 721.75h0M891.38 654.47h0M892.68 724.05h0M897.7 706.68h0M894.97 723.2h0M893.45 697.5h0M895.72 686.65h0M893.9 696.85h0M890.73 646.91h0M893.19 679.8h0M894.62 719.47h0M890.89 636.48h0M895.14 703.57h0M896.44 723.69h0M893.86 690.64h0M897.36 674.15h0M897.39 669.82h0M895.44 700.67h0M893.13 714.4h0M895.41 707.26h0M898.63 684.91h0M893.78 677.24h0M896.64 726.07h0M893.82 714.77h0M896.79 697.72h0M893.33 678.19h0M893.04 707.94h0M898.4 688.8h0M894.41 718.29h0M894.67 668.74h0M894.67 677.25h0M894.26 705.56h0M894.12 724.19h0M898.42 695.16h0M898.28 697.54h0M895.17 709.36h0M892.48 656.07h0M892.96 706.7h0M896.31 661.78h0M894.78 722.3h0M898.2 686.48h0M895.66 727.97h0M895.09 728.32h0M893.17 728.63h0M898.42 689.38h0M895.94 670.54h0M894.78 651.16h0M892.7 708.73h0M896.72 697.29h0M898.63 708.28h0M897.76 709.84h0M891.97 691.71h0M897.7 688.45h0M892.93 697.37h0M893.84 696.13h0M894.73 697.96h0M893.07 713.58h0M895.27 717.06h0M896.71 676.13h0M896.05 670.22h0M896.98 721.14h0M895.39 659.35h0M893.94 680.16h0M892.36 700.27h0M895.61 724.62h0M897.13 676.9h0M894.64 712.69h0M895.51 726.64h0M897.55 688.44h0M897.54 699.66h0M894.9 715.82h0M895.6 707.67h0M896.63 674.36h0M894.09 658.65h0M894.75 692.43h0M892.26 657.25h0M898.63 724.5h0M892.77 727.16h0M892.33 646.51h0M896.7 724.76h0M895.91 700.74h0M897.15 678.83h0M896.04 718.82h0M895.42 712.68h0M894.66 706.48h0M894.73 672.37h0M896.65 697.78h0M893.47 713.26h0M894 712.34h0M898.16 713.82h0M897.64 667.03h0M892.55 702.85h0M898.25 698.66h0M893.57 672.51h0M893.37 717.17h0" stroke="#098c72" stroke-width="4.7" stroke-linecap="round" fill="none"/>
<path d="M926.77 683.04h0M930.37 672.34h0M925.72 686.45h0M926.07 654.91h0M927.83 713.7h0M914.86 585.37h0M925.77 688.72h0M928.77 685.76h0M930.58 709.85h0M929.9 664.5h0M929.93 703.79h0M916.95 609.05h0M925.92 638.42h0M923.01 644.65h0M927.5 663.13h0M931.4 665.56h0M926.76 669.41h0M931.87 726.39h0M926.43 714.8h0M927.09 709.28h0M927.95 660.47h0M930.16 654.51h0M922.35 616.06h0M931.32 705.87h0M927.35 638.56h0M928.15 722.47h0M924.63 649.2h0M929.07 689.68h0M925.86 724.74h0M926.89 684.86h0M923.75 646.48h0M924.89 652.81h0M920.21 632.22h0M923.89 616.78h0M928.77 671.58h0M926.78 654.71h0M929.79 669.14h0M928.28 708.06h0M927.66 721.12h0M925.6 647.63h0M927.36 652.02h0M931.87 675.04h0M926.35 705.25h0M926.22 704.67h0M926.68 705.51h0M925.55 659.78h0M926.87 712.63h0M926.56 684.58h0M926.7 673.36h0M930.41 722.99h0M928.79 650.98h0M921.67 610.65h0M929.94 688.35h0M924.87 641.09h0M930.17 666.43h0M920.94 628.11h0M910.69 541.15h0M925.63 661.22h0M925.89 659.31h0M929.81 685.88h0M926.14 704.45h0M910.73 564.06h0M913.6 577.24h0M929.52 681.24h0M925.5 663.51h0M932.12 686.09h0M926.18 656.66h0M931.47 715.6h0M926.58 700.93h0" stroke="#116f88" stroke-width="4.7" stroke-linecap="round" fill="none"/>
<path d="M934.83 616.15h0M938.97 712.29h0M943.43 673.79h0M937.61 629.58h0M942.11 668.32h0M942.59 660.62h0M932.97 621.17h0M942.36 668.6h0M944.17 655.21h0M937.92 648.84h0M923.26 570.96h0M936.47 637.53h0M944.26 678.44h0M940.82 639.47h0M940.59 683.22h0M940.15 632.71h0M936.05 639.43h0M924.79 569.66h0M940.97 645.4h0M942.09 666.12h0M934.62 617.4h0M939.12 642.31h0M944.91 714.6h0M944 677.33h0M936.4 638.32h0M930.5 604.12h0M940.56 719.47h0M934.93 621.51h0M937.61 638.35h0M930.53 606.6h0M939.05 656.97h0M937.54 634.93h0M935.57 629.07h0" stroke="#14618c" stroke-width="4.7" stroke-linecap="round" fill="none"/>
<path d="M914.37 619.59h0M923.88 656.64h0M919.89 659.72h0M918.27 622.58h0M919.24 701.24h0M901.79 539.79h0M918.87 666.84h0M924.7 680.03h0M922.6 727h0M923.36 665.22h0M914.36 605.85h0M925.33 723.26h0M916.46 644.32h0M922.23 676.68h0M922.81 650.6h0M915.97 622.35h0M923.44 696.75h0M924.29 672.68h0M924.51 718.57h0M921.23 647.82h0M920.75 710.27h0M922.55 655.24h0M921.82 668.03h0M907.13 586.63h0M910.7 579.95h0M917.32 650.24h0M924.09 708.53h0M917.76 653.12h0M920.06 712.9h0M907.36 592.28h0M908.37 583.43h0M918.56 649.58h0M920.96 682.36h0M922.04 679.51h0M920.81 725.22h0M924.18 677.23h0M925.04 700.01h0M923.76 718.68h0M922.41 704.09h0M922.93 702.23h0M923.48 715.95h0M924.75 663.52h0M924.43 658.46h0M923.37 656.7h0M920.04 689.84h0M921.03 682.39h0M900.67 551.76h0M919.22 698.38h0M919.84 675.29h0M924.13 718.98h0M924.5 714.73h0M919.36 639.6h0M916.25 647.9h0M917.78 652.42h0M922.92 698.59h0M922.56 676.12h0M910.16 613.36h0M919.76 717.1h0M921.1 652.94h0M920.05 721.25h0M924.7 707.88h0M915.45 640.72h0M920.09 666.51h0M920.06 721.17h0M922.12 723.37h0M921.38 703.49h0M920.13 694.37h0M919.97 639.79h0M919.56 681.13h0M919.38 710.43h0M911.07 589.16h0M921.13 704.05h0M920.37 716.81h0M919.78 639.03h0M907.21 572.78h0M920.27 706.78h0M921.81 659.24h0M922.26 721.73h0M920.02 676.28h0M918.99 659.03h0M925.3 715.37h0M922.7 677.39h0M920.63 698.81h0M924.08 714.16h0M917.01 619.94h0M919.38 709.44h0M911.45 582.51h0M921.61 712.2h0M923.64 697.12h0M919.14 678.19h0M924.41 692.01h0M908.93 596.02h0M919.11 696.82h0M918.98 671.8h0M919.24 720.76h0M918.98 638.65h0M919.88 661.01h0M916.5 646.58h0M919.17 691.03h0M924.54 676.63h0M916.65 624.32h0M915.15 609.16h0M922.93 699.93h0M913.2 621.14h0M918.76 651.67h0M921.32 719.66h0M920.96 685.18h0M922.27 696.11h0M925.45 678.06h0M913.94 616.7h0M920.09 651.39h0M918.89 714.65h0" stroke="#0f7586" stroke-width="4.7" stroke-linecap="round" fill="none"/>
<path d="M964.25 665.78h0M952.87 624.3h0M954.04 633.8h0M952.7 624.05h0M951.62 617.05h0M959.41 635.48h0M964.99 682.65h0M944.05 546.03h0M948.76 587.66h0M960.15 661.25h0M964.35 673.39h0M956.99 636.18h0" stroke="#18488c" stroke-width="4.7" stroke-linecap="round" fill="none"/>
<path d="M890.58 714.58h0M891.09 702.06h0M890.75 720.56h0M890.37 717.79h0M889.94 710.58h0M890.67 711.34h0M890.39 682.16h0M889.93 727.14h0M889.55 662.62h0M889.67 683.61h0M890.03 684.73h0M891.04 725.93h0M890.84 679.45h0M889.63 722.23h0M891.43 713.84h0M889.9 709.46h0M890.35 711.09h0M889.85 670.45h0M890.7 726.86h0M891.76 727.57h0M891.04 714.37h0M891.55 667.45h0M890.25 721.58h0M889.54 707.74h0M890.54 677.21h0M891.27 669.48h0M891.69 672.52h0M890.41 728.48h0M891.08 679.86h0M891.26 672.43h0M889.46 716.37h0M891.4 708.23h0M890.42 725.97h0M890.19 698.38h0M891.12 720.31h0M889.79 720.34h0M889.36 720.55h0M889.97 658.09h0M891.56 716.44h0M891.73 726.72h0M891.05 723.56h0M889.98 717.53h0M889.68 672.85h0M891.92 709.87h0M891.22 710.04h0M890.18 707.75h0M890.45 691.7h0M891.35 712.16h0M890.12 704.94h0M890.76 688.28h0M890.86 673.11h0M891.5 721.37h0M889.91 727.79h0M891.37 675.33h0M890.52 664.29h0M889.52 658.69h0M891.7 674.28h0M890.89 726.57h0M891.31 685.08h0M890.1 712.92h0M890.59 706.8h0M891.48 665.37h0M890.81 704.88h0M891.06 717.34h0M891.86 703.51h0M889.89 701.65h0M891.72 706.52h0M889.46 707.45h0M890.02 677.96h0M891.18 722.58h0M891.94 699.88h0M891.48 698.79h0M891.01 691.27h0M889.5 708.89h0M891.4 700.83h0M889.85 716.63h0M891.9 704.5h0M890.43 684.58h0M889.85 651.97h0M891.83 705.81h0M891.34 687.22h0M889.73 725.22h0M889.65 666.27h0M891.59 668.27h0M891.78 701.88h0M891.32 671.31h0M891.37 694.8h0M890.65 661.57h0M891.85 712.57h0M891.79 709.32h0M891.67 699.75h0" stroke="#08926c" stroke-width="4.7" stroke-linecap="round" fill="none"/>
<path d="M935.67 604.45h0M941.79 640.14h0M946.35 655.08h0M945.21 643.6h0M943.73 646.93h0M950.93 658.89h0M946.27 661.15h0M940.98 625.62h0M938.88 609.48h0M946.3 662.08h0M943.75 643.68h0M950.35 660.72h0M935.82 602.2h0M950.33 669.01h0M937.53 588.3h0M949.02 665.13h0M948.47 717.04h0M946.72 646.55h0M950.67 667.41h0M943.87 648.29h0M943.79 617.8h0M938.26 596.94h0M945.98 667.52h0M944.87 630.96h0M950.59 700.85h0M930.97 570.88h0" stroke="#15598c" stroke-width="4.7" stroke-linecap="round" fill="none"/>
<path d="M956.21 606.19h0M964.36 650.88h0" stroke="#143c8c" stroke-width="4.7" stroke-linecap="round" fill="none"/>
<path d="M953.69 660.19h0M948.31 621.01h0M942.41 586.98h0M952.73 647h0M940.96 560.6h0M943.03 590.21h0M948.71 631.29h0M952.88 637.39h0M955.8 670.89h0M949.61 638.6h0M940.35 583.19h0M952.81 664.42h0" stroke="#17508c" stroke-width="4.7" stroke-linecap="round" fill="none"/>
<path d="M915.67 518.83h0" stroke="#0f7686" stroke-width="4.8" stroke-linecap="round" fill="none"/>
<path d="M928.31 511.45h0" stroke="#126d89" stroke-width="4.8" stroke-linecap="round" fill="none"/>
<path d="M937.34 525.8h0" stroke="#155e8c" stroke-width="4.8" stroke-linecap="round" fill="none"/>
<path d="M955.38 514.73h0M964.41 529.9h0M966.94 525.8h0M969.83 566.39h0M971.63 589.36h0M973.43 596.65h0" stroke="#0e2d8c" stroke-width="4.8" stroke-linecap="round" fill="none"/>
<path d="M906.65 539.33h0M903.04 549.48h0" stroke="#0e7a84" stroke-width="4.8" stroke-linecap="round" fill="none"/>
<path d="M928.31 543.43h0M924.7 555.52h0" stroke="#13688a" stroke-width="4.8" stroke-linecap="round" fill="none"/>
<path d="M915.67 549.08h0M917.48 560.35h0" stroke="#107187" stroke-width="4.8" stroke-linecap="round" fill="none"/>
<path d="M937.34 549.08h0M993.29 652.54h0" stroke="#16528c" stroke-width="4.8" stroke-linecap="round" fill="none"/>
<path d="M948.16 548.27h0M946.36 558.34h0M942.75 559.54h0M951.77 572.42h0" stroke="#153e8c" stroke-width="4.8" stroke-linecap="round" fill="none"/>
<path d="M977.05 614.88h0" stroke="#18468c" stroke-width="4.8" stroke-linecap="round" fill="none"/>
<path d="M1002.32 621.76h0" stroke="#174c8c" stroke-width="4.8" stroke-linecap="round" fill="none"/>
<path d="M977.05 646.04h0M969.83 670.85h0M975.24 668.95h0M964.41 678.45h0" stroke="#16588c" stroke-width="4.8" stroke-linecap="round" fill="none"/>
<path d="M930.12 550.29h0" stroke="#14648c" stroke-width="4.8" stroke-linecap="round" fill="none"/>
<path d="M790.41 556.33h0M769.47 572.42h0M782.11 578.46h0M792.93 577.25h0M762.25 585.31h0M756.84 589.36h0M751.42 593.41h0M778.5 594.62h0" stroke="#2bcb37" stroke-width="4.8" stroke-linecap="round" fill="none"/>
<path d="M801.96 581.28h0M755.03 620.95h0M758.64 628.83h0" stroke="#3cd034" stroke-width="4.8" stroke-linecap="round" fill="none"/>
<path d="M800.15 586.52h0" stroke="#59d92d" stroke-width="4.8" stroke-linecap="round" fill="none"/>
<path d="M729.76 628.83h0M713.51 652.92h0M727.95 662.1h0M740.59 687.95h0M755.03 701.25h0M747.81 693.65h0M756.84 713.94h0" stroke="#80e323" stroke-width="4.8" stroke-linecap="round" fill="none"/>
<path d="M721.82 698.59h0" stroke="#86e521" stroke-width="4.8" stroke-linecap="round" fill="none"/>
<path d="M746 647.95h0M744.2 667.05h0" stroke="#74e126" stroke-width="4.8" stroke-linecap="round" fill="none"/>
<path d="M753.23 604.75h0" stroke="#33cd35" stroke-width="4.8" stroke-linecap="round" fill="none"/>
<path d="M747.81 651.77h0" stroke="#67de2a" stroke-width="4.8" stroke-linecap="round" fill="none"/>
<circle cx="949.5" cy="489.5" r="3.3" fill="#0a2a94"/>
<text x="950.75" y="486.3" font-size="13" font-family='"DejaVu Sans", "Liberation Sans", sans-serif' font-style="italic" fill="#1f2f85" textLength="41.3" lengthAdjust="spacingAndGlyphs">FOSL1</text>
<circle cx="963.5" cy="505.5" r="3.3" fill="#0a2a94"/>
<text x="964.3" y="502.5" font-size="13" font-family='"DejaVu Sans", "Liberation Sans", sans-serif' font-style="italic" fill="#1f2f85" textLength="55" lengthAdjust="spacingAndGlyphs">CDKN1A</text>
<circle cx="991.75" cy="526" r="3.3" fill="#0a2a94"/>
<text x="992.5" y="522.3" font-size="13" font-family='"DejaVu Sans", "Liberation Sans", sans-serif' font-style="italic" fill="#1f2f85" textLength="38.5" lengthAdjust="spacingAndGlyphs">MMP1</text>
<circle cx="978.75" cy="577.5" r="3.3" fill="#0a2a94"/>
<text x="980" y="573.5" font-size="13" font-family='"DejaVu Sans", "Liberation Sans", sans-serif' font-style="italic" fill="#1f2f85" textLength="31.7" lengthAdjust="spacingAndGlyphs">ATF3</text>
<circle cx="772" cy="544.5" r="3.3" fill="#28c83c"/>
<text x="741.75" y="541.8" font-size="13" font-family='"DejaVu Sans", "Liberation Sans", sans-serif' font-style="italic" fill="#2a7a22" textLength="28.7" lengthAdjust="spacingAndGlyphs">MYC</text>
<circle cx="753" cy="568" r="3.3" fill="#28c83c"/>
<text x="705" y="565.3" font-size="13" font-family='"DejaVu Sans", "Liberation Sans", sans-serif' font-style="italic" fill="#2a7a22" textLength="46" lengthAdjust="spacingAndGlyphs">CCND1</text>
<circle cx="750" cy="595.75" r="3.3" fill="#28c83c"/>
<text x="698" y="593.5" font-size="13" font-family='"DejaVu Sans", "Liberation Sans", sans-serif' font-style="italic" fill="#2a7a22" textLength="49.5" lengthAdjust="spacingAndGlyphs">BCL2L1</text>
<circle cx="748" cy="621" r="3.3" fill="#28c83c"/>
<text x="714" y="619" font-size="13" font-family='"DejaVu Sans", "Liberation Sans", sans-serif' font-style="italic" fill="#2a7a22" textLength="32" lengthAdjust="spacingAndGlyphs">E2F1</text>
<line x1="817" y1="461.5" x2="817" y2="786.75" stroke="#3c3c3c" stroke-width="1.25" stroke-dasharray="4.6 2.6"/>
<line x1="888.75" y1="461.5" x2="888.75" y2="786.75" stroke="#3c3c3c" stroke-width="1.25" stroke-dasharray="4.6 2.6"/>
<line x1="618.75" y1="730" x2="1092.5" y2="730" stroke="#3c3c3c" stroke-width="1.25" stroke-dasharray="4.6 2.6"/>
<rect x="624.25" y="467" width="235.25" height="53.5" rx="2" fill="#fff" fill-opacity="0.85" stroke="#d4d4d4" stroke-width="1"/>
<circle cx="639.5" cy="477.25" r="2.9" fill="#0a1f96"/>
<text x="659.5" y="480.95" font-size="10.3" font-family='"DejaVu Sans", "Liberation Sans", sans-serif' fill="#111" textLength="166.5" lengthAdjust="spacingAndGlyphs">Upregulated (Blue, log<tspan baseline-shift="-2.5" font-size="7.2">2</tspan>FC &gt; 1)</text>
<circle cx="639.5" cy="493.5" r="2.9" fill="#2fe02f"/>
<text x="659.5" y="497.2" font-size="10.3" font-family='"DejaVu Sans", "Liberation Sans", sans-serif' fill="#111" textLength="196.5" lengthAdjust="spacingAndGlyphs">Downregulated (Green, log<tspan baseline-shift="-2.5" font-size="7.2">2</tspan>FC &lt; -1)</text>
<circle cx="639.5" cy="510" r="2.9" fill="#dcdcd8"/>
<text x="659.5" y="513.7" font-size="10.3" font-family='"DejaVu Sans", "Liberation Sans", sans-serif' fill="#111" textLength="79" lengthAdjust="spacingAndGlyphs">Not Significant</text>
<rect x="618.75" y="461.5" width="473.75" height="325.25" fill="none" stroke="#2a2a2a" stroke-width="1.1"/>
<line x1="635.9" y1="786.75" x2="635.9" y2="790.75" stroke="#2a2a2a" stroke-width="1" />
<text x="635.9" y="806.5" font-size="13" text-anchor="middle" font-family='"DejaVu Sans", "Liberation Sans", sans-serif' fill="#111">−6</text>
<line x1="708.1" y1="786.75" x2="708.1" y2="790.75" stroke="#2a2a2a" stroke-width="1" />
<text x="708.1" y="806.5" font-size="13" text-anchor="middle" font-family='"DejaVu Sans", "Liberation Sans", sans-serif' fill="#111">−4</text>
<line x1="780.3" y1="786.75" x2="780.3" y2="790.75" stroke="#2a2a2a" stroke-width="1" />
<text x="780.3" y="806.5" font-size="13" text-anchor="middle" font-family='"DejaVu Sans", "Liberation Sans", sans-serif' fill="#111">−2</text>
<line x1="852.5" y1="786.75" x2="852.5" y2="790.75" stroke="#2a2a2a" stroke-width="1" />
<text x="852.5" y="806.5" font-size="13" text-anchor="middle" font-family='"DejaVu Sans", "Liberation Sans", sans-serif' fill="#111">0</text>
<line x1="924.7" y1="786.75" x2="924.7" y2="790.75" stroke="#2a2a2a" stroke-width="1" />
<text x="924.7" y="806.5" font-size="13" text-anchor="middle" font-family='"DejaVu Sans", "Liberation Sans", sans-serif' fill="#111">2</text>
<line x1="996.9" y1="786.75" x2="996.9" y2="790.75" stroke="#2a2a2a" stroke-width="1" />
<text x="996.9" y="806.5" font-size="13" text-anchor="middle" font-family='"DejaVu Sans", "Liberation Sans", sans-serif' fill="#111">4</text>
<line x1="1069.1" y1="786.75" x2="1069.1" y2="790.75" stroke="#2a2a2a" stroke-width="1" />
<text x="1069.1" y="806.5" font-size="13" text-anchor="middle" font-family='"DejaVu Sans", "Liberation Sans", sans-serif' fill="#111">6</text>
<line x1="614.75" y1="774.5" x2="618.75" y2="774.5" stroke="#2a2a2a" stroke-width="1" />
<text x="611" y="779.3" font-size="13" text-anchor="end" font-family='"DejaVu Sans", "Liberation Sans", sans-serif' fill="#111">0</text>
<line x1="614.75" y1="737.5" x2="618.75" y2="737.5" stroke="#2a2a2a" stroke-width="1" />
<text x="611" y="742.3" font-size="13" text-anchor="end" font-family='"DejaVu Sans", "Liberation Sans", sans-serif' fill="#111">1</text>
<line x1="614.75" y1="701.25" x2="618.75" y2="701.25" stroke="#2a2a2a" stroke-width="1" />
<text x="611" y="706.05" font-size="13" text-anchor="end" font-family='"DejaVu Sans", "Liberation Sans", sans-serif' fill="#111">2</text>
<line x1="614.75" y1="663.25" x2="618.75" y2="663.25" stroke="#2a2a2a" stroke-width="1" />
<text x="611" y="668.05" font-size="13" text-anchor="end" font-family='"DejaVu Sans", "Liberation Sans", sans-serif' fill="#111">3</text>
<line x1="614.75" y1="625" x2="618.75" y2="625" stroke="#2a2a2a" stroke-width="1" />
<text x="611" y="629.8" font-size="13" text-anchor="end" font-family='"DejaVu Sans", "Liberation Sans", sans-serif' fill="#111">4</text>
<line x1="614.75" y1="584.5" x2="618.75" y2="584.5" stroke="#2a2a2a" stroke-width="1" />
<text x="611" y="589.3" font-size="13" text-anchor="end" font-family='"DejaVu Sans", "Liberation Sans", sans-serif' fill="#111">5</text>
<line x1="614.75" y1="544.25" x2="618.75" y2="544.25" stroke="#2a2a2a" stroke-width="1" />
<text x="611" y="549.05" font-size="13" text-anchor="end" font-family='"DejaVu Sans", "Liberation Sans", sans-serif' fill="#111">6</text>
<line x1="614.75" y1="503.25" x2="618.75" y2="503.25" stroke="#2a2a2a" stroke-width="1" />
<text x="611" y="508.05" font-size="13" text-anchor="end" font-family='"DejaVu Sans", "Liberation Sans", sans-serif' fill="#111">7</text>
<line x1="614.75" y1="461.5" x2="618.75" y2="461.5" stroke="#2a2a2a" stroke-width="1" />
<text x="611" y="466.3" font-size="13" text-anchor="end" font-family='"DejaVu Sans", "Liberation Sans", sans-serif' fill="#111">8</text>
<text x="626.25" y="454.3" font-size="14.2" font-family='"DejaVu Sans", "Liberation Sans", sans-serif' fill="#111" textLength="460" lengthAdjust="spacingAndGlyphs">Differential Gene Expression: Treated vs. Control (Volcano Plot)</text>
<text x="855" y="821.5" font-size="12.2" text-anchor="middle" font-family='"DejaVu Sans", "Liberation Sans", sans-serif' fill="#111" textLength="117" lengthAdjust="spacingAndGlyphs">log<tspan baseline-shift="-3" font-size="8.5">2</tspan>(Fold Change)</text>
<text x="594.5" y="620.5" font-size="12.2" text-anchor="middle" font-family='"DejaVu Sans", "Liberation Sans", sans-serif' fill="#111" textLength="96" lengthAdjust="spacingAndGlyphs" transform="rotate(-90 594.5 620.5)">-log<tspan baseline-shift="-3" font-size="8.5">10</tspan>(p-value)</text>
</g>
</svg>
</body></html>
